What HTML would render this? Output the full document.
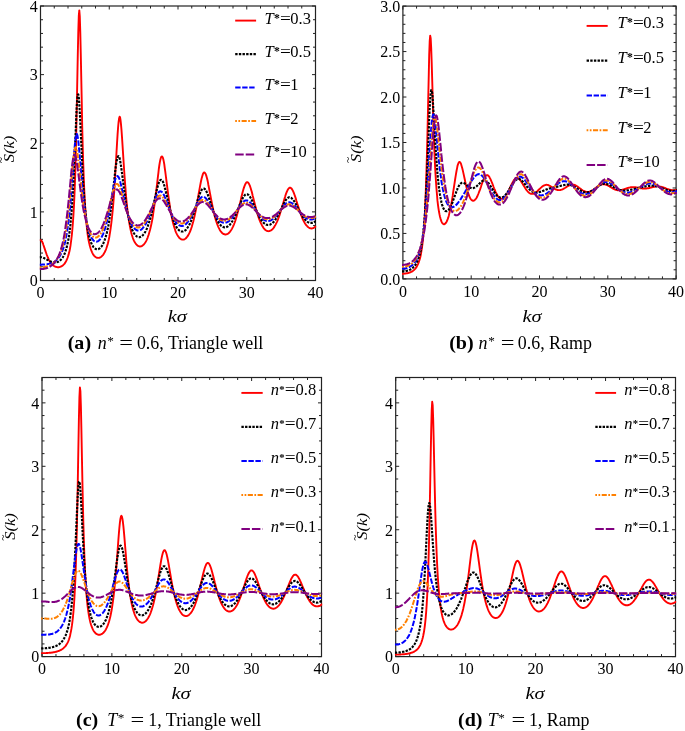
<!DOCTYPE html>
<html><head><meta charset="utf-8"><title>Structure factor</title>
<style>html,body{margin:0;padding:0;background:#fff}body{width:685px;height:731px;overflow:hidden;font-family:"Liberation Serif",serif}</style></head>
<body>
<svg width="685" height="731" viewBox="0 0 685 731" style="display:block" font-family="Liberation Serif, serif" fill="#000">
<rect width="685" height="731" fill="#fff"/>
<clipPath id="cp1"><rect x="39.60" y="5.10" width="276.80" height="276.30"/></clipPath>
<path d="M40.50,280.5v-3.5M40.50,6.0v3.5M54.25,280.5v-2.5M54.25,6.0v2.5M68.00,280.5v-2.5M68.00,6.0v2.5M81.75,280.5v-2.5M81.75,6.0v2.5M95.50,280.5v-2.5M95.50,6.0v2.5M109.25,280.5v-3.5M109.25,6.0v3.5M123.00,280.5v-2.5M123.00,6.0v2.5M136.75,280.5v-2.5M136.75,6.0v2.5M150.50,280.5v-2.5M150.50,6.0v2.5M164.25,280.5v-2.5M164.25,6.0v2.5M178.00,280.5v-3.5M178.00,6.0v3.5M191.75,280.5v-2.5M191.75,6.0v2.5M205.50,280.5v-2.5M205.50,6.0v2.5M219.25,280.5v-2.5M219.25,6.0v2.5M233.00,280.5v-2.5M233.00,6.0v2.5M246.75,280.5v-3.5M246.75,6.0v3.5M260.50,280.5v-2.5M260.50,6.0v2.5M274.25,280.5v-2.5M274.25,6.0v2.5M288.00,280.5v-2.5M288.00,6.0v2.5M301.75,280.5v-2.5M301.75,6.0v2.5M315.50,280.5v-3.5M315.50,6.0v3.5M40.5,280.50h3.5M315.5,280.50h-3.5M40.5,266.77h2.5M315.5,266.77h-2.5M40.5,253.05h2.5M315.5,253.05h-2.5M40.5,239.32h2.5M315.5,239.32h-2.5M40.5,225.60h2.5M315.5,225.60h-2.5M40.5,211.88h3.5M315.5,211.88h-3.5M40.5,198.15h2.5M315.5,198.15h-2.5M40.5,184.43h2.5M315.5,184.43h-2.5M40.5,170.70h2.5M315.5,170.70h-2.5M40.5,156.97h2.5M315.5,156.97h-2.5M40.5,143.25h3.5M315.5,143.25h-3.5M40.5,129.52h2.5M315.5,129.52h-2.5M40.5,115.80h2.5M315.5,115.80h-2.5M40.5,102.07h2.5M315.5,102.07h-2.5M40.5,88.35h2.5M315.5,88.35h-2.5M40.5,74.62h3.5M315.5,74.62h-3.5M40.5,60.90h2.5M315.5,60.90h-2.5M40.5,47.17h2.5M315.5,47.17h-2.5M40.5,33.45h2.5M315.5,33.45h-2.5M40.5,19.72h2.5M315.5,19.72h-2.5M40.5,6.00h3.5M315.5,6.00h-3.5" stroke="#222222" stroke-width="1" fill="none"/>
<rect x="40.5" y="6.0" width="275.00" height="274.50" fill="none" stroke="#222222" stroke-width="1.2"/>
<g clip-path="url(#cp1)" fill="none" stroke-linejoin="round">
<polyline points="39.6,240.1 40.5,240.1 41.0,240.3 41.5,240.7 42.0,241.5 42.5,242.5 43.0,243.6 43.4,245.0 43.9,246.4 44.4,247.9 44.9,249.4 45.4,250.9 45.9,252.3 46.4,253.7 46.9,255.1 47.4,256.3 47.9,257.5 48.4,258.6 48.8,259.6 49.3,260.5 49.8,261.3 50.3,262.1 50.8,262.8 51.3,263.4 51.8,264.0 52.3,264.5 52.8,265.0 53.3,265.4 53.8,265.8 54.3,266.1 54.7,266.3 55.2,266.6 55.7,266.8 56.2,266.9 56.7,267.0 57.2,267.1 57.7,267.2 58.2,267.2 58.7,267.2 59.2,267.1 59.7,267.0 60.1,266.9 60.6,266.7 61.1,266.5 61.6,266.2 62.1,265.9 62.6,265.6 63.1,265.2 63.6,264.7 64.1,264.2 64.6,263.6 65.1,262.9 65.5,262.2 66.0,261.3 66.5,260.3 67.0,259.2 67.5,258.0 68.0,256.5 68.5,254.9 69.0,253.1 69.5,251.0 70.0,248.5 70.5,245.7 70.9,242.5 71.4,238.7 71.9,234.3 72.4,229.0 72.9,222.9 73.4,215.5 73.9,206.8 74.4,196.3 74.9,183.7 75.4,168.6 75.9,150.7 76.3,129.7 76.8,105.9 77.3,80.0 77.8,54.0 78.3,31.3 78.8,15.6 79.3,10.4 79.8,16.7 80.3,32.8 80.8,55.1 81.3,79.8 81.8,104.0 82.2,126.3 82.7,145.9 83.2,162.6 83.7,176.9 84.2,188.9 84.7,198.9 85.2,207.4 85.7,214.6 86.2,220.7 86.7,225.9 87.2,230.3 87.6,234.1 88.1,237.4 88.6,240.3 89.1,242.8 89.6,244.9 90.1,246.8 90.6,248.5 91.1,249.9 91.6,251.2 92.1,252.3 92.6,253.3 93.0,254.2 93.5,254.9 94.0,255.6 94.5,256.1 95.0,256.6 95.5,257.0 96.0,257.3 96.5,257.6 97.0,257.7 97.5,257.9 98.0,257.9 98.4,257.9 98.9,257.9 99.4,257.7 99.9,257.6 100.4,257.3 100.9,257.0 101.4,256.7 101.9,256.2 102.4,255.7 102.9,255.2 103.4,254.5 103.8,253.8 104.3,252.9 104.8,252.0 105.3,250.9 105.8,249.8 106.3,248.5 106.8,247.0 107.3,245.4 107.8,243.7 108.3,241.7 108.8,239.5 109.3,237.0 109.7,234.3 110.2,231.3 110.7,227.9 111.2,224.2 111.7,220.0 112.2,215.4 112.7,210.3 113.2,204.6 113.7,198.4 114.2,191.6 114.7,184.2 115.1,176.2 115.6,167.9 116.1,159.2 116.6,150.5 117.1,142.0 117.6,134.1 118.1,127.3 118.6,121.9 119.1,118.3 119.6,116.7 120.1,117.3 120.5,119.9 121.0,124.3 121.5,130.2 122.0,137.1 122.5,144.7 123.0,152.6 123.5,160.5 124.0,168.2 124.5,175.5 125.0,182.4 125.5,188.8 125.9,194.7 126.4,200.1 126.9,205.1 127.4,209.6 127.9,213.6 128.4,217.3 128.9,220.6 129.4,223.6 129.9,226.3 130.4,228.8 130.9,231.0 131.3,232.9 131.8,234.7 132.3,236.3 132.8,237.8 133.3,239.1 133.8,240.3 134.3,241.3 134.8,242.2 135.3,243.0 135.8,243.7 136.3,244.4 136.8,244.9 137.2,245.3 137.7,245.7 138.2,246.0 138.7,246.2 139.2,246.4 139.7,246.5 140.2,246.5 140.7,246.4 141.2,246.3 141.7,246.1 142.2,245.9 142.6,245.5 143.1,245.1 143.6,244.7 144.1,244.1 144.6,243.5 145.1,242.8 145.6,242.0 146.1,241.1 146.6,240.1 147.1,239.0 147.6,237.8 148.0,236.5 148.5,235.1 149.0,233.5 149.5,231.8 150.0,230.0 150.5,228.0 151.0,225.8 151.5,223.5 152.0,221.0 152.5,218.3 153.0,215.3 153.4,212.2 153.9,208.9 154.4,205.4 154.9,201.7 155.4,197.8 155.9,193.7 156.4,189.6 156.9,185.3 157.4,181.1 157.9,176.9 158.4,172.8 158.8,169.0 159.3,165.5 159.8,162.4 160.3,159.9 160.8,158.0 161.3,156.8 161.8,156.4 162.3,156.6 162.8,157.6 163.3,159.3 163.8,161.6 164.3,164.4 164.7,167.6 165.2,171.2 165.7,175.0 166.2,178.9 166.7,182.9 167.2,186.9 167.7,190.8 168.2,194.6 168.7,198.2 169.2,201.7 169.7,205.0 170.1,208.2 170.6,211.1 171.1,213.9 171.6,216.4 172.1,218.8 172.6,221.0 173.1,223.1 173.6,225.0 174.1,226.7 174.6,228.3 175.1,229.8 175.5,231.1 176.0,232.3 176.5,233.4 177.0,234.4 177.5,235.3 178.0,236.1 178.5,236.8 179.0,237.5 179.5,238.0 180.0,238.5 180.5,238.8 180.9,239.1 181.4,239.4 181.9,239.5 182.4,239.6 182.9,239.6 183.4,239.6 183.9,239.5 184.4,239.3 184.9,239.0 185.4,238.7 185.9,238.3 186.3,237.8 186.8,237.2 187.3,236.6 187.8,235.9 188.3,235.1 188.8,234.2 189.3,233.2 189.8,232.1 190.3,231.0 190.8,229.7 191.3,228.3 191.8,226.8 192.2,225.2 192.7,223.5 193.2,221.7 193.7,219.7 194.2,217.7 194.7,215.5 195.2,213.1 195.7,210.7 196.2,208.2 196.7,205.5 197.2,202.8 197.6,200.0 198.1,197.1 198.6,194.2 199.1,191.4 199.6,188.6 200.1,185.8 200.6,183.2 201.1,180.8 201.6,178.6 202.1,176.7 202.6,175.1 203.0,173.8 203.5,173.0 204.0,172.5 204.5,172.5 205.0,172.9 205.5,173.7 206.0,174.9 206.5,176.4 207.0,178.2 207.5,180.3 208.0,182.6 208.4,185.0 208.9,187.6 209.4,190.2 209.9,192.9 210.4,195.5 210.9,198.2 211.4,200.8 211.9,203.3 212.4,205.8 212.9,208.1 213.4,210.4 213.8,212.5 214.3,214.5 214.8,216.4 215.3,218.3 215.8,219.9 216.3,221.5 216.8,223.0 217.3,224.4 217.8,225.6 218.3,226.8 218.8,227.9 219.3,228.9 219.7,229.7 220.2,230.6 220.7,231.3 221.2,231.9 221.7,232.5 222.2,233.0 222.7,233.4 223.2,233.8 223.7,234.0 224.2,234.2 224.7,234.4 225.1,234.5 225.6,234.5 226.1,234.4 226.6,234.3 227.1,234.1 227.6,233.9 228.1,233.6 228.6,233.2 229.1,232.8 229.6,232.2 230.1,231.6 230.5,231.0 231.0,230.3 231.5,229.5 232.0,228.6 232.5,227.6 233.0,226.6 233.5,225.5 234.0,224.3 234.5,223.0 235.0,221.6 235.5,220.2 235.9,218.7 236.4,217.1 236.9,215.4 237.4,213.6 237.9,211.7 238.4,209.8 238.9,207.9 239.4,205.8 239.9,203.8 240.4,201.7 240.9,199.6 241.3,197.5 241.8,195.5 242.3,193.5 242.8,191.6 243.3,189.8 243.8,188.1 244.3,186.6 244.8,185.3 245.3,184.2 245.8,183.3 246.3,182.6 246.8,182.2 247.2,182.1 247.7,182.3 248.2,182.7 248.7,183.4 249.2,184.3 249.7,185.4 250.2,186.7 250.7,188.2 251.2,189.9 251.7,191.6 252.2,193.5 252.6,195.4 253.1,197.3 253.6,199.3 254.1,201.3 254.6,203.3 255.1,205.2 255.6,207.1 256.1,208.9 256.6,210.7 257.1,212.5 257.6,214.1 258.0,215.7 258.5,217.2 259.0,218.6 259.5,219.9 260.0,221.2 260.5,222.3 261.0,223.4 261.5,224.4 262.0,225.4 262.5,226.2 263.0,227.0 263.4,227.7 263.9,228.4 264.4,229.0 264.9,229.5 265.4,229.9 265.9,230.3 266.4,230.6 266.9,230.8 267.4,231.0 267.9,231.1 268.4,231.2 268.8,231.1 269.3,231.1 269.8,230.9 270.3,230.7 270.8,230.5 271.3,230.2 271.8,229.8 272.3,229.3 272.8,228.8 273.3,228.3 273.8,227.6 274.3,226.9 274.7,226.1 275.2,225.3 275.7,224.4 276.2,223.4 276.7,222.4 277.2,221.3 277.7,220.1 278.2,218.8 278.7,217.5 279.2,216.1 279.7,214.7 280.1,213.2 280.6,211.6 281.1,210.0 281.6,208.4 282.1,206.7 282.6,205.1 283.1,203.4 283.6,201.7 284.1,200.0 284.6,198.4 285.1,196.8 285.5,195.3 286.0,193.9 286.5,192.5 287.0,191.4 287.5,190.3 288.0,189.4 288.5,188.7 289.0,188.2 289.5,187.8 290.0,187.7 290.5,187.7 290.9,188.0 291.4,188.4 291.9,189.1 292.4,189.9 292.9,190.8 293.4,191.9 293.9,193.2 294.4,194.5 294.9,195.9 295.4,197.4 295.9,198.9 296.3,200.5 296.8,202.1 297.3,203.7 297.8,205.3 298.3,206.8 298.8,208.4 299.3,209.9 299.8,211.4 300.3,212.8 300.8,214.2 301.3,215.5 301.8,216.7 302.2,217.9 302.7,219.0 303.2,220.1 303.7,221.1 304.2,222.0 304.7,222.9 305.2,223.7 305.7,224.4 306.2,225.1 306.7,225.7 307.2,226.2 307.6,226.7 308.1,227.1 308.6,227.5 309.1,227.8 309.6,228.1 310.1,228.2 310.6,228.4 311.1,228.4 311.6,228.5 312.1,228.4 312.6,228.3 313.0,228.2 313.5,228.0 314.0,227.7 314.5,227.4 315.0,227.0 315.5,226.6 316.4,226.6" stroke="#ff0000" stroke-width="1.9"/>
<polyline points="39.6,257.1 40.5,257.1 41.0,257.2 41.5,257.2 42.0,257.3 42.5,257.4 43.0,257.6 43.4,257.8 43.9,258.0 44.4,258.2 44.9,258.5 45.4,258.7 45.9,259.0 46.4,259.3 46.9,259.6 47.4,259.9 47.9,260.1 48.4,260.4 48.8,260.7 49.3,260.9 49.8,261.2 50.3,261.4 50.8,261.6 51.3,261.8 51.8,262.0 52.3,262.1 52.8,262.2 53.3,262.3 53.8,262.4 54.3,262.4 54.7,262.5 55.2,262.5 55.7,262.4 56.2,262.3 56.7,262.2 57.2,262.1 57.7,261.9 58.2,261.7 58.7,261.5 59.2,261.2 59.7,260.8 60.1,260.4 60.6,260.0 61.1,259.5 61.6,258.9 62.1,258.3 62.6,257.6 63.1,256.8 63.6,255.9 64.1,254.9 64.6,253.8 65.1,252.6 65.5,251.2 66.0,249.7 66.5,248.0 67.0,246.1 67.5,243.9 68.0,241.5 68.5,238.8 69.0,235.8 69.5,232.3 70.0,228.4 70.5,224.0 70.9,219.1 71.4,213.4 71.9,207.0 72.4,199.8 72.9,191.7 73.4,182.7 73.9,172.7 74.4,161.8 74.9,150.3 75.4,138.3 75.9,126.4 76.3,115.3 76.8,105.9 77.3,98.8 77.8,94.8 78.3,94.4 78.8,97.4 79.3,103.6 79.8,112.1 80.3,122.2 80.8,133.1 81.3,144.2 81.8,155.0 82.2,165.1 82.7,174.6 83.2,183.2 83.7,190.9 84.2,197.8 84.7,204.0 85.2,209.5 85.7,214.4 86.2,218.7 86.7,222.6 87.2,226.0 87.6,229.0 88.1,231.7 88.6,234.1 89.1,236.2 89.6,238.1 90.1,239.7 90.6,241.2 91.1,242.6 91.6,243.7 92.1,244.7 92.6,245.6 93.0,246.4 93.5,247.1 94.0,247.7 94.5,248.1 95.0,248.5 95.5,248.8 96.0,249.1 96.5,249.2 97.0,249.3 97.5,249.3 98.0,249.2 98.4,249.1 98.9,248.8 99.4,248.6 99.9,248.2 100.4,247.7 100.9,247.2 101.4,246.6 101.9,245.9 102.4,245.1 102.9,244.2 103.4,243.2 103.8,242.1 104.3,240.9 104.8,239.6 105.3,238.1 105.8,236.5 106.3,234.8 106.8,232.9 107.3,230.8 107.8,228.5 108.3,226.1 108.8,223.4 109.3,220.5 109.7,217.4 110.2,214.1 110.7,210.5 111.2,206.7 111.7,202.8 112.2,198.6 112.7,194.2 113.2,189.7 113.7,185.2 114.2,180.6 114.7,176.1 115.1,171.9 115.6,167.9 116.1,164.3 116.6,161.3 117.1,158.9 117.6,157.2 118.1,156.3 118.6,156.2 119.1,156.8 119.6,158.2 120.1,160.3 120.5,162.9 121.0,166.0 121.5,169.4 122.0,173.2 122.5,177.0 123.0,181.0 123.5,184.9 124.0,188.8 124.5,192.6 125.0,196.2 125.5,199.7 125.9,203.0 126.4,206.1 126.9,209.0 127.4,211.8 127.9,214.3 128.4,216.7 128.9,218.9 129.4,220.9 129.9,222.8 130.4,224.5 130.9,226.1 131.3,227.5 131.8,228.8 132.3,230.0 132.8,231.1 133.3,232.1 133.8,233.0 134.3,233.8 134.8,234.5 135.3,235.1 135.8,235.6 136.3,236.0 136.8,236.4 137.2,236.7 137.7,236.9 138.2,237.1 138.7,237.2 139.2,237.2 139.7,237.1 140.2,237.0 140.7,236.8 141.2,236.6 141.7,236.3 142.2,235.9 142.6,235.4 143.1,234.9 143.6,234.3 144.1,233.7 144.6,232.9 145.1,232.1 145.6,231.2 146.1,230.2 146.6,229.2 147.1,228.0 147.6,226.8 148.0,225.5 148.5,224.1 149.0,222.6 149.5,221.0 150.0,219.3 150.5,217.6 151.0,215.7 151.5,213.7 152.0,211.7 152.5,209.6 153.0,207.4 153.4,205.2 153.9,202.9 154.4,200.6 154.9,198.3 155.4,196.0 155.9,193.8 156.4,191.6 156.9,189.5 157.4,187.5 157.9,185.7 158.4,184.1 158.8,182.7 159.3,181.5 159.8,180.7 160.3,180.1 160.8,179.8 161.3,179.8 161.8,180.1 162.3,180.7 162.8,181.5 163.3,182.6 163.8,184.0 164.3,185.5 164.7,187.3 165.2,189.1 165.7,191.1 166.2,193.2 166.7,195.3 167.2,197.4 167.7,199.6 168.2,201.7 168.7,203.8 169.2,205.8 169.7,207.8 170.1,209.7 170.6,211.6 171.1,213.4 171.6,215.0 172.1,216.6 172.6,218.1 173.1,219.6 173.6,220.9 174.1,222.1 174.6,223.3 175.1,224.4 175.5,225.4 176.0,226.3 176.5,227.1 177.0,227.9 177.5,228.6 178.0,229.2 178.5,229.7 179.0,230.2 179.5,230.6 180.0,230.9 180.5,231.1 180.9,231.3 181.4,231.5 181.9,231.5 182.4,231.5 182.9,231.5 183.4,231.3 183.9,231.2 184.4,230.9 184.9,230.6 185.4,230.2 185.9,229.8 186.3,229.2 186.8,228.7 187.3,228.0 187.8,227.3 188.3,226.5 188.8,225.7 189.3,224.8 189.8,223.8 190.3,222.7 190.8,221.6 191.3,220.4 191.8,219.2 192.2,217.8 192.7,216.4 193.2,215.0 193.7,213.5 194.2,211.9 194.7,210.3 195.2,208.7 195.7,207.0 196.2,205.4 196.7,203.7 197.2,202.0 197.6,200.4 198.1,198.7 198.6,197.2 199.1,195.7 199.6,194.3 200.1,193.0 200.6,191.9 201.1,190.9 201.6,190.0 202.1,189.3 202.6,188.8 203.0,188.5 203.5,188.4 204.0,188.5 204.5,188.8 205.0,189.2 205.5,189.9 206.0,190.6 206.5,191.6 207.0,192.7 207.5,193.8 208.0,195.1 208.4,196.5 208.9,197.9 209.4,199.4 209.9,200.9 210.4,202.4 210.9,204.0 211.4,205.5 211.9,207.0 212.4,208.5 212.9,209.9 213.4,211.3 213.8,212.6 214.3,213.9 214.8,215.2 215.3,216.4 215.8,217.5 216.3,218.6 216.8,219.6 217.3,220.5 217.8,221.4 218.3,222.2 218.8,222.9 219.3,223.6 219.7,224.3 220.2,224.8 220.7,225.3 221.2,225.8 221.7,226.2 222.2,226.5 222.7,226.8 223.2,227.0 223.7,227.2 224.2,227.3 224.7,227.3 225.1,227.3 225.6,227.3 226.1,227.2 226.6,227.0 227.1,226.8 227.6,226.5 228.1,226.2 228.6,225.8 229.1,225.4 229.6,224.9 230.1,224.4 230.5,223.8 231.0,223.2 231.5,222.5 232.0,221.7 232.5,221.0 233.0,220.1 233.5,219.2 234.0,218.3 234.5,217.3 235.0,216.3 235.5,215.2 235.9,214.1 236.4,212.9 236.9,211.8 237.4,210.6 237.9,209.4 238.4,208.1 238.9,206.9 239.4,205.7 239.9,204.4 240.4,203.2 240.9,202.1 241.3,201.0 241.8,199.9 242.3,198.9 242.8,197.9 243.3,197.1 243.8,196.3 244.3,195.7 244.8,195.1 245.3,194.7 245.8,194.4 246.3,194.2 246.8,194.2 247.2,194.2 247.7,194.4 248.2,194.8 248.7,195.2 249.2,195.8 249.7,196.4 250.2,197.2 250.7,198.0 251.2,199.0 251.7,199.9 252.2,201.0 252.6,202.1 253.1,203.2 253.6,204.3 254.1,205.5 254.6,206.7 255.1,207.8 255.6,209.0 256.1,210.1 256.6,211.2 257.1,212.3 257.6,213.4 258.0,214.4 258.5,215.4 259.0,216.3 259.5,217.2 260.0,218.1 260.5,218.9 261.0,219.6 261.5,220.4 262.0,221.0 262.5,221.6 263.0,222.2 263.4,222.7 263.9,223.1 264.4,223.5 264.9,223.9 265.4,224.2 265.9,224.5 266.4,224.7 266.9,224.8 267.4,224.9 267.9,225.0 268.4,225.0 268.8,224.9 269.3,224.8 269.8,224.7 270.3,224.5 270.8,224.2 271.3,223.9 271.8,223.6 272.3,223.2 272.8,222.7 273.3,222.3 273.8,221.7 274.3,221.1 274.7,220.5 275.2,219.8 275.7,219.1 276.2,218.4 276.7,217.6 277.2,216.7 277.7,215.8 278.2,214.9 278.7,214.0 279.2,213.0 279.7,212.0 280.1,211.0 280.6,210.0 281.1,209.0 281.6,207.9 282.1,206.9 282.6,205.9 283.1,204.9 283.6,203.9 284.1,203.0 284.6,202.1 285.1,201.3 285.5,200.5 286.0,199.8 286.5,199.2 287.0,198.6 287.5,198.1 288.0,197.8 288.5,197.5 289.0,197.3 289.5,197.2 290.0,197.3 290.5,197.4 290.9,197.6 291.4,197.9 291.9,198.4 292.4,198.9 292.9,199.4 293.4,200.1 293.9,200.8 294.4,201.6 294.9,202.4 295.4,203.3 295.9,204.2 296.3,205.1 296.8,206.0 297.3,207.0 297.8,208.0 298.3,208.9 298.8,209.9 299.3,210.8 299.8,211.7 300.3,212.6 300.8,213.5 301.3,214.3 301.8,215.2 302.2,215.9 302.7,216.7 303.2,217.4 303.7,218.1 304.2,218.7 304.7,219.3 305.2,219.8 305.7,220.3 306.2,220.8 306.7,221.2 307.2,221.6 307.6,221.9 308.1,222.2 308.6,222.4 309.1,222.6 309.6,222.8 310.1,222.9 310.6,222.9 311.1,222.9 311.6,222.9 312.1,222.9 312.6,222.7 313.0,222.6 313.5,222.4 314.0,222.2 314.5,221.9 315.0,221.6 315.5,221.2 316.4,221.2" stroke="#000000" stroke-width="2.15" stroke-dasharray="2.4 1.25"/>
<polyline points="39.6,264.7 40.5,264.7 41.0,264.7 41.5,264.7 42.0,264.6 42.5,264.6 43.0,264.6 43.4,264.6 43.9,264.6 44.4,264.5 44.9,264.5 45.4,264.4 45.9,264.4 46.4,264.3 46.9,264.3 47.4,264.2 47.9,264.1 48.4,264.0 48.8,263.9 49.3,263.8 49.8,263.7 50.3,263.5 50.8,263.4 51.3,263.2 51.8,263.0 52.3,262.8 52.8,262.6 53.3,262.4 53.8,262.1 54.3,261.8 54.7,261.5 55.2,261.1 55.7,260.7 56.2,260.3 56.7,259.9 57.2,259.4 57.7,258.9 58.2,258.3 58.7,257.7 59.2,257.0 59.7,256.2 60.1,255.4 60.6,254.6 61.1,253.6 61.6,252.6 62.1,251.4 62.6,250.2 63.1,248.8 63.6,247.3 64.1,245.7 64.6,243.9 65.1,241.9 65.5,239.8 66.0,237.4 66.5,234.8 67.0,232.0 67.5,228.8 68.0,225.4 68.5,221.6 69.0,217.4 69.5,212.9 70.0,207.9 70.5,202.5 70.9,196.7 71.4,190.5 71.9,184.0 72.4,177.1 72.9,170.1 73.4,163.1 73.9,156.3 74.4,150.0 74.9,144.4 75.4,139.7 75.9,136.3 76.3,134.3 76.8,133.9 77.3,134.9 77.8,137.4 78.3,141.1 78.8,145.8 79.3,151.2 79.8,157.1 80.3,163.2 80.8,169.4 81.3,175.5 81.8,181.4 82.2,187.0 82.7,192.3 83.2,197.2 83.7,201.7 84.2,205.9 84.7,209.8 85.2,213.3 85.7,216.5 86.2,219.4 86.7,222.1 87.2,224.5 87.6,226.7 88.1,228.7 88.6,230.5 89.1,232.1 89.6,233.5 90.1,234.8 90.6,236.0 91.1,237.0 91.6,237.9 92.1,238.7 92.6,239.4 93.0,240.0 93.5,240.5 94.0,240.9 94.5,241.2 95.0,241.4 95.5,241.6 96.0,241.7 96.5,241.7 97.0,241.6 97.5,241.4 98.0,241.2 98.4,240.9 98.9,240.5 99.4,240.1 99.9,239.5 100.4,238.9 100.9,238.2 101.4,237.4 101.9,236.5 102.4,235.5 102.9,234.5 103.4,233.3 103.8,232.0 104.3,230.7 104.8,229.2 105.3,227.6 105.8,225.9 106.3,224.0 106.8,222.1 107.3,220.0 107.8,217.8 108.3,215.5 108.8,213.1 109.3,210.5 109.7,207.9 110.2,205.2 110.7,202.5 111.2,199.7 111.7,196.9 112.2,194.1 112.7,191.3 113.2,188.7 113.7,186.2 114.2,183.9 114.7,181.8 115.1,180.0 115.6,178.5 116.1,177.4 116.6,176.6 117.1,176.2 117.6,176.1 118.1,176.5 118.6,177.2 119.1,178.2 119.6,179.5 120.1,181.1 120.5,182.9 121.0,184.9 121.5,187.1 122.0,189.3 122.5,191.6 123.0,193.9 123.5,196.3 124.0,198.6 124.5,200.9 125.0,203.1 125.5,205.2 125.9,207.3 126.4,209.3 126.9,211.2 127.4,213.0 127.9,214.7 128.4,216.3 128.9,217.8 129.4,219.2 129.9,220.5 130.4,221.7 130.9,222.9 131.3,223.9 131.8,224.8 132.3,225.7 132.8,226.5 133.3,227.2 133.8,227.9 134.3,228.4 134.8,228.9 135.3,229.3 135.8,229.7 136.3,230.0 136.8,230.2 137.2,230.4 137.7,230.5 138.2,230.5 138.7,230.5 139.2,230.4 139.7,230.3 140.2,230.1 140.7,229.9 141.2,229.6 141.7,229.2 142.2,228.8 142.6,228.3 143.1,227.7 143.6,227.1 144.1,226.5 144.6,225.8 145.1,225.0 145.6,224.1 146.1,223.3 146.6,222.3 147.1,221.3 147.6,220.2 148.0,219.1 148.5,217.9 149.0,216.7 149.5,215.4 150.0,214.1 150.5,212.8 151.0,211.4 151.5,210.0 152.0,208.5 152.5,207.1 153.0,205.6 153.4,204.2 153.9,202.7 154.4,201.3 154.9,199.9 155.4,198.6 155.9,197.4 156.4,196.2 156.9,195.2 157.4,194.2 157.9,193.4 158.4,192.7 158.8,192.1 159.3,191.7 159.8,191.4 160.3,191.3 160.8,191.4 161.3,191.6 161.8,191.9 162.3,192.5 162.8,193.1 163.3,193.9 163.8,194.7 164.3,195.7 164.7,196.8 165.2,197.9 165.7,199.2 166.2,200.4 166.7,201.7 167.2,203.0 167.7,204.4 168.2,205.7 168.7,207.0 169.2,208.3 169.7,209.6 170.1,210.9 170.6,212.1 171.1,213.3 171.6,214.4 172.1,215.5 172.6,216.6 173.1,217.6 173.6,218.5 174.1,219.4 174.6,220.2 175.1,221.0 175.5,221.7 176.0,222.4 176.5,223.0 177.0,223.5 177.5,224.0 178.0,224.5 178.5,224.8 179.0,225.2 179.5,225.4 180.0,225.6 180.5,225.8 180.9,225.9 181.4,226.0 181.9,226.0 182.4,225.9 182.9,225.8 183.4,225.7 183.9,225.4 184.4,225.2 184.9,224.9 185.4,224.5 185.9,224.1 186.3,223.6 186.8,223.1 187.3,222.5 187.8,221.9 188.3,221.2 188.8,220.5 189.3,219.8 189.8,219.0 190.3,218.1 190.8,217.2 191.3,216.3 191.8,215.3 192.2,214.3 192.7,213.3 193.2,212.2 193.7,211.2 194.2,210.1 194.7,209.0 195.2,207.9 195.7,206.8 196.2,205.7 196.7,204.7 197.2,203.6 197.6,202.6 198.1,201.7 198.6,200.8 199.1,200.0 199.6,199.3 200.1,198.6 200.6,198.0 201.1,197.6 201.6,197.2 202.1,196.9 202.6,196.8 203.0,196.7 203.5,196.8 204.0,196.9 204.5,197.2 205.0,197.5 205.5,198.0 206.0,198.5 206.5,199.1 207.0,199.8 207.5,200.6 208.0,201.4 208.4,202.3 208.9,203.2 209.4,204.1 209.9,205.1 210.4,206.0 210.9,207.0 211.4,208.0 211.9,209.0 212.4,209.9 212.9,210.9 213.4,211.8 213.8,212.7 214.3,213.6 214.8,214.4 215.3,215.2 215.8,216.0 216.3,216.7 216.8,217.4 217.3,218.1 217.8,218.7 218.3,219.3 218.8,219.8 219.3,220.3 219.7,220.7 220.2,221.1 220.7,221.5 221.2,221.8 221.7,222.1 222.2,222.3 222.7,222.5 223.2,222.6 223.7,222.7 224.2,222.7 224.7,222.8 225.1,222.7 225.6,222.6 226.1,222.5 226.6,222.4 227.1,222.2 227.6,221.9 228.1,221.6 228.6,221.3 229.1,220.9 229.6,220.5 230.1,220.1 230.5,219.6 231.0,219.1 231.5,218.5 232.0,218.0 232.5,217.3 233.0,216.7 233.5,216.0 234.0,215.3 234.5,214.6 235.0,213.8 235.5,213.1 235.9,212.3 236.4,211.5 236.9,210.7 237.4,209.9 237.9,209.1 238.4,208.3 238.9,207.5 239.4,206.7 239.9,206.0 240.4,205.2 240.9,204.6 241.3,203.9 241.8,203.3 242.3,202.7 242.8,202.2 243.3,201.7 243.8,201.3 244.3,201.0 244.8,200.7 245.3,200.6 245.8,200.4 246.3,200.4 246.8,200.4 247.2,200.5 247.7,200.7 248.2,200.9 248.7,201.2 249.2,201.6 249.7,202.1 250.2,202.5 250.7,203.1 251.2,203.7 251.7,204.3 252.2,205.0 252.6,205.6 253.1,206.4 253.6,207.1 254.1,207.8 254.6,208.6 255.1,209.4 255.6,210.1 256.1,210.9 256.6,211.6 257.1,212.3 257.6,213.0 258.0,213.7 258.5,214.4 259.0,215.1 259.5,215.7 260.0,216.3 260.5,216.8 261.0,217.4 261.5,217.9 262.0,218.3 262.5,218.8 263.0,219.1 263.4,219.5 263.9,219.8 264.4,220.1 264.9,220.3 265.4,220.6 265.9,220.7 266.4,220.9 266.9,220.9 267.4,221.0 267.9,221.0 268.4,221.0 268.8,220.9 269.3,220.8 269.8,220.7 270.3,220.5 270.8,220.3 271.3,220.0 271.8,219.8 272.3,219.4 272.8,219.1 273.3,218.7 273.8,218.3 274.3,217.8 274.7,217.3 275.2,216.8 275.7,216.3 276.2,215.7 276.7,215.1 277.2,214.5 277.7,213.9 278.2,213.2 278.7,212.6 279.2,211.9 279.7,211.2 280.1,210.5 280.6,209.8 281.1,209.2 281.6,208.5 282.1,207.8 282.6,207.2 283.1,206.6 283.6,206.0 284.1,205.4 284.6,204.9 285.1,204.4 285.5,204.0 286.0,203.6 286.5,203.2 287.0,202.9 287.5,202.7 288.0,202.5 288.5,202.4 289.0,202.3 289.5,202.3 290.0,202.4 290.5,202.5 290.9,202.7 291.4,202.9 291.9,203.2 292.4,203.5 292.9,203.9 293.4,204.3 293.9,204.8 294.4,205.3 294.9,205.8 295.4,206.4 295.9,207.0 296.3,207.6 296.8,208.2 297.3,208.8 297.8,209.4 298.3,210.0 298.8,210.7 299.3,211.3 299.8,211.9 300.3,212.5 300.8,213.1 301.3,213.7 301.8,214.2 302.2,214.8 302.7,215.3 303.2,215.8 303.7,216.2 304.2,216.7 304.7,217.1 305.2,217.4 305.7,217.8 306.2,218.1 306.7,218.4 307.2,218.7 307.6,218.9 308.1,219.1 308.6,219.2 309.1,219.3 309.6,219.4 310.1,219.5 310.6,219.5 311.1,219.5 311.6,219.5 312.1,219.4 312.6,219.3 313.0,219.2 313.5,219.0 314.0,218.8 314.5,218.6 315.0,218.3 315.5,218.1 316.4,218.1" stroke="#0000ff" stroke-width="2.0" stroke-dasharray="5.4 1.6"/>
<polyline points="39.6,267.4 40.5,267.4 41.0,267.3 41.5,267.3 42.0,267.3 42.5,267.3 43.0,267.2 43.4,267.2 43.9,267.1 44.4,267.0 44.9,266.9 45.4,266.8 45.9,266.7 46.4,266.6 46.9,266.5 47.4,266.3 47.9,266.1 48.4,266.0 48.8,265.8 49.3,265.6 49.8,265.3 50.3,265.1 50.8,264.8 51.3,264.5 51.8,264.2 52.3,263.9 52.8,263.5 53.3,263.1 53.8,262.7 54.3,262.3 54.7,261.8 55.2,261.3 55.7,260.7 56.2,260.1 56.7,259.5 57.2,258.8 57.7,258.0 58.2,257.2 58.7,256.3 59.2,255.4 59.7,254.4 60.1,253.3 60.6,252.1 61.1,250.8 61.6,249.4 62.1,247.9 62.6,246.3 63.1,244.5 63.6,242.5 64.1,240.4 64.6,238.1 65.1,235.6 65.5,232.9 66.0,229.9 66.5,226.7 67.0,223.2 67.5,219.5 68.0,215.4 68.5,211.0 69.0,206.3 69.5,201.4 70.0,196.1 70.5,190.6 70.9,185.0 71.4,179.3 71.9,173.6 72.4,168.1 72.9,162.9 73.4,158.2 73.9,154.2 74.4,151.0 74.9,148.7 75.4,147.5 75.9,147.3 76.3,148.2 76.8,150.1 77.3,152.8 77.8,156.2 78.3,160.1 78.8,164.5 79.3,169.1 79.8,173.8 80.3,178.5 80.8,183.1 81.3,187.7 81.8,192.0 82.2,196.1 82.7,199.9 83.2,203.6 83.7,206.9 84.2,210.1 84.7,213.0 85.2,215.7 85.7,218.1 86.2,220.4 86.7,222.4 87.2,224.3 87.6,226.1 88.1,227.6 88.6,229.0 89.1,230.3 89.6,231.5 90.1,232.5 90.6,233.4 91.1,234.3 91.6,235.0 92.1,235.6 92.6,236.1 93.0,236.6 93.5,236.9 94.0,237.2 94.5,237.4 95.0,237.5 95.5,237.6 96.0,237.5 96.5,237.4 97.0,237.3 97.5,237.0 98.0,236.7 98.4,236.3 98.9,235.8 99.4,235.3 99.9,234.7 100.4,234.0 100.9,233.2 101.4,232.4 101.9,231.5 102.4,230.4 102.9,229.3 103.4,228.2 103.8,226.9 104.3,225.5 104.8,224.1 105.3,222.6 105.8,220.9 106.3,219.2 106.8,217.4 107.3,215.6 107.8,213.6 108.3,211.6 108.8,209.6 109.3,207.4 109.7,205.3 110.2,203.1 110.7,201.0 111.2,198.8 111.7,196.8 112.2,194.7 112.7,192.8 113.2,191.0 113.7,189.4 114.2,187.9 114.7,186.7 115.1,185.6 115.6,184.8 116.1,184.3 116.6,184.0 117.1,183.9 117.6,184.2 118.1,184.6 118.6,185.3 119.1,186.2 119.6,187.3 120.1,188.6 120.5,190.0 121.0,191.5 121.5,193.2 122.0,194.9 122.5,196.6 123.0,198.4 123.5,200.1 124.0,201.9 124.5,203.7 125.0,205.4 125.5,207.1 125.9,208.7 126.4,210.3 126.9,211.8 127.4,213.2 127.9,214.6 128.4,215.9 128.9,217.1 129.4,218.3 129.9,219.3 130.4,220.3 130.9,221.3 131.3,222.1 131.8,222.9 132.3,223.7 132.8,224.3 133.3,224.9 133.8,225.5 134.3,225.9 134.8,226.3 135.3,226.7 135.8,227.0 136.3,227.2 136.8,227.4 137.2,227.5 137.7,227.5 138.2,227.6 138.7,227.5 139.2,227.4 139.7,227.2 140.2,227.0 140.7,226.8 141.2,226.5 141.7,226.1 142.2,225.7 142.6,225.2 143.1,224.7 143.6,224.1 144.1,223.5 144.6,222.8 145.1,222.1 145.6,221.3 146.1,220.5 146.6,219.6 147.1,218.7 147.6,217.8 148.0,216.8 148.5,215.8 149.0,214.7 149.5,213.6 150.0,212.5 150.5,211.4 151.0,210.2 151.5,209.1 152.0,207.9 152.5,206.7 153.0,205.6 153.4,204.4 153.9,203.3 154.4,202.3 154.9,201.3 155.4,200.3 155.9,199.4 156.4,198.6 156.9,197.9 157.4,197.2 157.9,196.7 158.4,196.2 158.8,195.9 159.3,195.7 159.8,195.6 160.3,195.6 160.8,195.7 161.3,196.0 161.8,196.3 162.3,196.8 162.8,197.3 163.3,197.9 163.8,198.7 164.3,199.5 164.7,200.3 165.2,201.2 165.7,202.2 166.2,203.2 166.7,204.2 167.2,205.2 167.7,206.3 168.2,207.3 168.7,208.4 169.2,209.4 169.7,210.4 170.1,211.4 170.6,212.4 171.1,213.4 171.6,214.3 172.1,215.2 172.6,216.0 173.1,216.8 173.6,217.6 174.1,218.3 174.6,219.0 175.1,219.6 175.5,220.2 176.0,220.7 176.5,221.2 177.0,221.6 177.5,222.0 178.0,222.4 178.5,222.7 179.0,222.9 179.5,223.1 180.0,223.3 180.5,223.4 180.9,223.5 181.4,223.5 181.9,223.5 182.4,223.4 182.9,223.3 183.4,223.1 183.9,222.9 184.4,222.6 184.9,222.3 185.4,222.0 185.9,221.6 186.3,221.2 186.8,220.7 187.3,220.2 187.8,219.7 188.3,219.1 188.8,218.4 189.3,217.8 189.8,217.1 190.3,216.4 190.8,215.6 191.3,214.8 191.8,214.0 192.2,213.2 192.7,212.3 193.2,211.5 193.7,210.6 194.2,209.7 194.7,208.9 195.2,208.0 195.7,207.2 196.2,206.3 196.7,205.5 197.2,204.8 197.6,204.0 198.1,203.3 198.6,202.7 199.1,202.1 199.6,201.6 200.1,201.1 200.6,200.7 201.1,200.4 201.6,200.2 202.1,200.0 202.6,199.9 203.0,199.9 203.5,200.0 204.0,200.1 204.5,200.4 205.0,200.7 205.5,201.0 206.0,201.5 206.5,201.9 207.0,202.5 207.5,203.1 208.0,203.7 208.4,204.4 208.9,205.1 209.4,205.8 209.9,206.6 210.4,207.3 210.9,208.1 211.4,208.9 211.9,209.7 212.4,210.4 212.9,211.2 213.4,211.9 213.8,212.7 214.3,213.4 214.8,214.0 215.3,214.7 215.8,215.3 216.3,215.9 216.8,216.5 217.3,217.0 217.8,217.5 218.3,218.0 218.8,218.5 219.3,218.9 219.7,219.2 220.2,219.5 220.7,219.8 221.2,220.1 221.7,220.3 222.2,220.5 222.7,220.6 223.2,220.7 223.7,220.8 224.2,220.8 224.7,220.8 225.1,220.8 225.6,220.7 226.1,220.6 226.6,220.4 227.1,220.2 227.6,220.0 228.1,219.7 228.6,219.5 229.1,219.1 229.6,218.8 230.1,218.4 230.5,218.0 231.0,217.5 231.5,217.0 232.0,216.5 232.5,216.0 233.0,215.5 233.5,214.9 234.0,214.3 234.5,213.7 235.0,213.1 235.5,212.5 235.9,211.8 236.4,211.2 236.9,210.5 237.4,209.9 237.9,209.2 238.4,208.6 238.9,208.0 239.4,207.4 239.9,206.8 240.4,206.2 240.9,205.7 241.3,205.2 241.8,204.7 242.3,204.3 242.8,203.9 243.3,203.6 243.8,203.3 244.3,203.1 244.8,202.9 245.3,202.8 245.8,202.7 246.3,202.7 246.8,202.8 247.2,202.9 247.7,203.0 248.2,203.3 248.7,203.5 249.2,203.8 249.7,204.2 250.2,204.6 250.7,205.0 251.2,205.5 251.7,206.0 252.2,206.5 252.6,207.0 253.1,207.6 253.6,208.2 254.1,208.8 254.6,209.4 255.1,210.0 255.6,210.6 256.1,211.2 256.6,211.8 257.1,212.4 257.6,212.9 258.0,213.5 258.5,214.0 259.0,214.6 259.5,215.1 260.0,215.5 260.5,216.0 261.0,216.4 261.5,216.8 262.0,217.2 262.5,217.6 263.0,217.9 263.4,218.2 263.9,218.4 264.4,218.6 264.9,218.8 265.4,219.0 265.9,219.1 266.4,219.2 266.9,219.3 267.4,219.3 267.9,219.3 268.4,219.3 268.8,219.2 269.3,219.1 269.8,219.0 270.3,218.8 270.8,218.6 271.3,218.4 271.8,218.2 272.3,217.9 272.8,217.6 273.3,217.2 273.8,216.9 274.3,216.5 274.7,216.1 275.2,215.7 275.7,215.2 276.2,214.7 276.7,214.2 277.2,213.7 277.7,213.2 278.2,212.7 278.7,212.2 279.2,211.6 279.7,211.1 280.1,210.5 280.6,210.0 281.1,209.4 281.6,208.9 282.1,208.4 282.6,207.9 283.1,207.4 283.6,207.0 284.1,206.5 284.6,206.1 285.1,205.8 285.5,205.5 286.0,205.2 286.5,204.9 287.0,204.7 287.5,204.5 288.0,204.4 288.5,204.3 289.0,204.3 289.5,204.3 290.0,204.4 290.5,204.5 290.9,204.6 291.4,204.8 291.9,205.0 292.4,205.3 292.9,205.6 293.4,205.9 293.9,206.3 294.4,206.7 294.9,207.1 295.4,207.6 295.9,208.0 296.3,208.5 296.8,209.0 297.3,209.5 297.8,210.0 298.3,210.5 298.8,211.0 299.3,211.5 299.8,212.0 300.3,212.4 300.8,212.9 301.3,213.4 301.8,213.8 302.2,214.3 302.7,214.7 303.2,215.1 303.7,215.4 304.2,215.8 304.7,216.1 305.2,216.4 305.7,216.7 306.2,217.0 306.7,217.2 307.2,217.4 307.6,217.6 308.1,217.8 308.6,217.9 309.1,218.0 309.6,218.1 310.1,218.1 310.6,218.1 311.1,218.1 311.6,218.1 312.1,218.0 312.6,217.9 313.0,217.8 313.5,217.6 314.0,217.5 314.5,217.3 315.0,217.1 315.5,216.8 316.4,216.8" stroke="#ff8000" stroke-width="2.0" stroke-dasharray="1.7 1.5 5.1 1.5"/>
<polyline points="39.6,269.1 40.5,269.1 41.0,269.1 41.5,269.1 42.0,269.1 42.5,269.0 43.0,269.0 43.4,268.9 43.9,268.8 44.4,268.7 44.9,268.6 45.4,268.5 45.9,268.4 46.4,268.2 46.9,268.0 47.4,267.9 47.9,267.7 48.4,267.4 48.8,267.2 49.3,267.0 49.8,266.7 50.3,266.4 50.8,266.0 51.3,265.7 51.8,265.3 52.3,264.9 52.8,264.5 53.3,264.0 53.8,263.5 54.3,262.9 54.7,262.4 55.2,261.7 55.7,261.0 56.2,260.3 56.7,259.5 57.2,258.7 57.7,257.7 58.2,256.8 58.7,255.7 59.2,254.5 59.7,253.3 60.1,251.9 60.6,250.4 61.1,248.8 61.6,247.1 62.1,245.2 62.6,243.2 63.1,241.0 63.6,238.6 64.1,236.0 64.6,233.1 65.1,230.1 65.5,226.8 66.0,223.2 66.5,219.4 67.0,215.3 67.5,211.0 68.0,206.4 68.5,201.6 69.0,196.6 69.5,191.4 70.0,186.2 70.5,181.0 70.9,176.0 71.4,171.2 71.9,166.8 72.4,162.9 72.9,159.6 73.4,157.1 73.9,155.5 74.4,154.7 74.9,154.8 75.4,155.7 75.9,157.3 76.3,159.7 76.8,162.5 77.3,165.8 77.8,169.5 78.3,173.3 78.8,177.2 79.3,181.1 79.8,185.1 80.3,188.9 80.8,192.6 81.3,196.1 81.8,199.4 82.2,202.6 82.7,205.6 83.2,208.4 83.7,211.0 84.2,213.4 84.7,215.6 85.2,217.7 85.7,219.6 86.2,221.3 86.7,223.0 87.2,224.4 87.6,225.8 88.1,227.0 88.6,228.1 89.1,229.1 89.6,230.0 90.1,230.8 90.6,231.5 91.1,232.1 91.6,232.6 92.1,233.1 92.6,233.4 93.0,233.7 93.5,233.9 94.0,234.1 94.5,234.2 95.0,234.2 95.5,234.1 96.0,234.0 96.5,233.8 97.0,233.5 97.5,233.2 98.0,232.8 98.4,232.4 98.9,231.9 99.4,231.3 99.9,230.6 100.4,229.9 100.9,229.1 101.4,228.3 101.9,227.3 102.4,226.3 102.9,225.3 103.4,224.1 103.8,222.9 104.3,221.7 104.8,220.3 105.3,218.9 105.8,217.5 106.3,216.0 106.8,214.4 107.3,212.8 107.8,211.2 108.3,209.5 108.8,207.8 109.3,206.1 109.7,204.4 110.2,202.7 110.7,201.0 111.2,199.4 111.7,197.8 112.2,196.4 112.7,195.0 113.2,193.8 113.7,192.6 114.2,191.7 114.7,190.9 115.1,190.2 115.6,189.8 116.1,189.5 116.6,189.4 117.1,189.5 117.6,189.7 118.1,190.2 118.6,190.8 119.1,191.5 119.6,192.4 120.1,193.4 120.5,194.5 121.0,195.7 121.5,197.0 122.0,198.3 122.5,199.7 123.0,201.1 123.5,202.5 124.0,203.9 124.5,205.3 125.0,206.7 125.5,208.1 125.9,209.4 126.4,210.7 126.9,212.0 127.4,213.2 127.9,214.3 128.4,215.4 128.9,216.4 129.4,217.4 129.9,218.3 130.4,219.2 130.9,220.0 131.3,220.8 131.8,221.5 132.3,222.1 132.8,222.7 133.3,223.2 133.8,223.7 134.3,224.1 134.8,224.4 135.3,224.7 135.8,225.0 136.3,225.1 136.8,225.3 137.2,225.4 137.7,225.4 138.2,225.4 138.7,225.3 139.2,225.2 139.7,225.1 140.2,224.9 140.7,224.6 141.2,224.3 141.7,223.9 142.2,223.5 142.6,223.1 143.1,222.6 143.6,222.1 144.1,221.5 144.6,220.9 145.1,220.2 145.6,219.5 146.1,218.7 146.6,217.9 147.1,217.1 147.6,216.3 148.0,215.4 148.5,214.5 149.0,213.5 149.5,212.6 150.0,211.6 150.5,210.6 151.0,209.7 151.5,208.7 152.0,207.7 152.5,206.7 153.0,205.8 153.4,204.9 153.9,204.0 154.4,203.1 154.9,202.3 155.4,201.6 155.9,200.9 156.4,200.3 156.9,199.8 157.4,199.3 157.9,198.9 158.4,198.6 158.8,198.5 159.3,198.3 159.8,198.3 160.3,198.4 160.8,198.6 161.3,198.8 161.8,199.2 162.3,199.6 162.8,200.1 163.3,200.6 163.8,201.2 164.3,201.9 164.7,202.6 165.2,203.4 165.7,204.2 166.2,205.0 166.7,205.9 167.2,206.7 167.7,207.6 168.2,208.5 168.7,209.3 169.2,210.2 169.7,211.0 170.1,211.9 170.6,212.7 171.1,213.4 171.6,214.2 172.1,214.9 172.6,215.6 173.1,216.3 173.6,216.9 174.1,217.5 174.6,218.1 175.1,218.6 175.5,219.1 176.0,219.5 176.5,219.9 177.0,220.3 177.5,220.6 178.0,220.9 178.5,221.1 179.0,221.3 179.5,221.4 180.0,221.6 180.5,221.6 180.9,221.7 181.4,221.6 181.9,221.6 182.4,221.5 182.9,221.4 183.4,221.2 183.9,221.0 184.4,220.8 184.9,220.5 185.4,220.2 185.9,219.8 186.3,219.4 186.8,219.0 187.3,218.6 187.8,218.1 188.3,217.5 188.8,217.0 189.3,216.4 189.8,215.8 190.3,215.2 190.8,214.6 191.3,213.9 191.8,213.2 192.2,212.5 192.7,211.8 193.2,211.1 193.7,210.4 194.2,209.7 194.7,209.0 195.2,208.3 195.7,207.6 196.2,207.0 196.7,206.3 197.2,205.7 197.6,205.2 198.1,204.6 198.6,204.1 199.1,203.7 199.6,203.3 200.1,202.9 200.6,202.6 201.1,202.4 201.6,202.2 202.1,202.1 202.6,202.1 203.0,202.1 203.5,202.2 204.0,202.3 204.5,202.5 205.0,202.7 205.5,203.1 206.0,203.4 206.5,203.8 207.0,204.2 207.5,204.7 208.0,205.2 208.4,205.8 208.9,206.4 209.4,207.0 209.9,207.6 210.4,208.2 210.9,208.8 211.4,209.4 211.9,210.1 212.4,210.7 212.9,211.3 213.4,212.0 213.8,212.6 214.3,213.2 214.8,213.7 215.3,214.3 215.8,214.8 216.3,215.3 216.8,215.8 217.3,216.3 217.8,216.7 218.3,217.1 218.8,217.5 219.3,217.8 219.7,218.1 220.2,218.4 220.7,218.6 221.2,218.9 221.7,219.0 222.2,219.2 222.7,219.3 223.2,219.4 223.7,219.4 224.2,219.5 224.7,219.5 225.1,219.4 225.6,219.3 226.1,219.2 226.6,219.1 227.1,218.9 227.6,218.7 228.1,218.5 228.6,218.2 229.1,217.9 229.6,217.6 230.1,217.3 230.5,216.9 231.0,216.5 231.5,216.1 232.0,215.6 232.5,215.2 233.0,214.7 233.5,214.2 234.0,213.7 234.5,213.2 235.0,212.6 235.5,212.1 235.9,211.6 236.4,211.0 236.9,210.5 237.4,209.9 237.9,209.4 238.4,208.9 238.9,208.4 239.4,207.9 239.9,207.4 240.4,207.0 240.9,206.5 241.3,206.1 241.8,205.8 242.3,205.4 242.8,205.2 243.3,204.9 243.8,204.7 244.3,204.5 244.8,204.4 245.3,204.3 245.8,204.3 246.3,204.3 246.8,204.4 247.2,204.5 247.7,204.6 248.2,204.8 248.7,205.0 249.2,205.3 249.7,205.6 250.2,205.9 250.7,206.3 251.2,206.7 251.7,207.1 252.2,207.5 252.6,208.0 253.1,208.5 253.6,208.9 254.1,209.4 254.6,209.9 255.1,210.4 255.6,210.9 256.1,211.4 256.6,211.9 257.1,212.4 257.6,212.9 258.0,213.3 258.5,213.8 259.0,214.2 259.5,214.6 260.0,215.0 260.5,215.4 261.0,215.8 261.5,216.1 262.0,216.4 262.5,216.7 263.0,217.0 263.4,217.2 263.9,217.4 264.4,217.6 264.9,217.8 265.4,217.9 265.9,218.0 266.4,218.1 266.9,218.1 267.4,218.1 267.9,218.1 268.4,218.1 268.8,218.0 269.3,217.9 269.8,217.8 270.3,217.6 270.8,217.5 271.3,217.3 271.8,217.0 272.3,216.8 272.8,216.5 273.3,216.2 273.8,215.9 274.3,215.6 274.7,215.2 275.2,214.9 275.7,214.5 276.2,214.1 276.7,213.7 277.2,213.2 277.7,212.8 278.2,212.4 278.7,211.9 279.2,211.5 279.7,211.0 280.1,210.6 280.6,210.1 281.1,209.7 281.6,209.3 282.1,208.9 282.6,208.5 283.1,208.1 283.6,207.7 284.1,207.4 284.6,207.1 285.1,206.8 285.5,206.5 286.0,206.3 286.5,206.1 287.0,205.9 287.5,205.8 288.0,205.7 288.5,205.7 289.0,205.6 289.5,205.6 290.0,205.7 290.5,205.8 290.9,205.9 291.4,206.1 291.9,206.3 292.4,206.5 292.9,206.7 293.4,207.0 293.9,207.3 294.4,207.6 294.9,208.0 295.4,208.3 295.9,208.7 296.3,209.1 296.8,209.5 297.3,209.9 297.8,210.3 298.3,210.7 298.8,211.1 299.3,211.6 299.8,212.0 300.3,212.4 300.8,212.8 301.3,213.1 301.8,213.5 302.2,213.9 302.7,214.2 303.2,214.6 303.7,214.9 304.2,215.2 304.7,215.5 305.2,215.7 305.7,216.0 306.2,216.2 306.7,216.4 307.2,216.6 307.6,216.7 308.1,216.8 308.6,217.0 309.1,217.0 309.6,217.1 310.1,217.1 310.6,217.1 311.1,217.1 311.6,217.1 312.1,217.0 312.6,216.9 313.0,216.8 313.5,216.7 314.0,216.6 314.5,216.4 315.0,216.2 315.5,216.0 316.4,216.0" stroke="#800080" stroke-width="2.0" stroke-dasharray="8.5 2"/>
</g>
<line x1="235.20" y1="20.60" x2="256.10" y2="20.60" stroke="#ff0000" stroke-width="1.9"/>
<line x1="235.20" y1="54.05" x2="256.10" y2="54.05" stroke="#000000" stroke-width="2.15" stroke-dasharray="2.4 1.25"/>
<line x1="235.20" y1="87.50" x2="256.10" y2="87.50" stroke="#0000ff" stroke-width="2.0" stroke-dasharray="5.4 1.6"/>
<line x1="235.20" y1="120.95" x2="256.10" y2="120.95" stroke="#ff8000" stroke-width="2.0" stroke-dasharray="1.7 1.5 5.1 1.5" stroke-dashoffset="6.6"/>
<line x1="235.20" y1="154.40" x2="256.10" y2="154.40" stroke="#800080" stroke-width="2.0" stroke-dasharray="8.5 2"/>
<clipPath id="cp2"><rect x="402.00" y="5.20" width="275.00" height="274.60"/></clipPath>
<path d="M402.90,278.9v-3.5M402.90,6.1v3.5M416.56,278.9v-2.5M416.56,6.1v2.5M430.22,278.9v-2.5M430.22,6.1v2.5M443.88,278.9v-2.5M443.88,6.1v2.5M457.54,278.9v-2.5M457.54,6.1v2.5M471.20,278.9v-3.5M471.20,6.1v3.5M484.86,278.9v-2.5M484.86,6.1v2.5M498.52,278.9v-2.5M498.52,6.1v2.5M512.18,278.9v-2.5M512.18,6.1v2.5M525.84,278.9v-2.5M525.84,6.1v2.5M539.50,278.9v-3.5M539.50,6.1v3.5M553.16,278.9v-2.5M553.16,6.1v2.5M566.82,278.9v-2.5M566.82,6.1v2.5M580.48,278.9v-2.5M580.48,6.1v2.5M594.14,278.9v-2.5M594.14,6.1v2.5M607.80,278.9v-3.5M607.80,6.1v3.5M621.46,278.9v-2.5M621.46,6.1v2.5M635.12,278.9v-2.5M635.12,6.1v2.5M648.78,278.9v-2.5M648.78,6.1v2.5M662.44,278.9v-2.5M662.44,6.1v2.5M676.10,278.9v-3.5M676.10,6.1v3.5M402.9,278.90h3.5M676.1,278.90h-3.5M402.9,269.81h2.5M676.1,269.81h-2.5M402.9,260.71h2.5M676.1,260.71h-2.5M402.9,251.62h2.5M676.1,251.62h-2.5M402.9,242.53h2.5M676.1,242.53h-2.5M402.9,233.43h3.5M676.1,233.43h-3.5M402.9,224.34h2.5M676.1,224.34h-2.5M402.9,215.25h2.5M676.1,215.25h-2.5M402.9,206.15h2.5M676.1,206.15h-2.5M402.9,197.06h2.5M676.1,197.06h-2.5M402.9,187.97h3.5M676.1,187.97h-3.5M402.9,178.87h2.5M676.1,178.87h-2.5M402.9,169.78h2.5M676.1,169.78h-2.5M402.9,160.69h2.5M676.1,160.69h-2.5M402.9,151.59h2.5M676.1,151.59h-2.5M402.9,142.50h3.5M676.1,142.50h-3.5M402.9,133.41h2.5M676.1,133.41h-2.5M402.9,124.31h2.5M676.1,124.31h-2.5M402.9,115.22h2.5M676.1,115.22h-2.5M402.9,106.13h2.5M676.1,106.13h-2.5M402.9,97.03h3.5M676.1,97.03h-3.5M402.9,87.94h2.5M676.1,87.94h-2.5M402.9,78.85h2.5M676.1,78.85h-2.5M402.9,69.75h2.5M676.1,69.75h-2.5M402.9,60.66h2.5M676.1,60.66h-2.5M402.9,51.57h3.5M676.1,51.57h-3.5M402.9,42.47h2.5M676.1,42.47h-2.5M402.9,33.38h2.5M676.1,33.38h-2.5M402.9,24.29h2.5M676.1,24.29h-2.5M402.9,15.19h2.5M676.1,15.19h-2.5M402.9,6.10h3.5M676.1,6.10h-3.5" stroke="#222222" stroke-width="1" fill="none"/>
<rect x="402.9" y="6.1" width="273.20" height="272.80" fill="none" stroke="#222222" stroke-width="1.2"/>
<g clip-path="url(#cp2)" fill="none" stroke-linejoin="round">
<polyline points="402.0,273.7 402.9,273.7 403.4,273.7 403.9,273.7 404.4,273.6 404.9,273.6 405.3,273.5 405.8,273.5 406.3,273.4 406.8,273.3 407.3,273.2 407.8,273.1 408.3,273.0 408.8,272.9 409.2,272.7 409.7,272.5 410.2,272.4 410.7,272.1 411.2,271.9 411.7,271.7 412.2,271.4 412.7,271.0 413.1,270.7 413.6,270.3 414.1,269.9 414.6,269.4 415.1,268.9 415.6,268.3 416.1,267.6 416.6,266.9 417.0,266.1 417.5,265.1 418.0,264.1 418.5,262.9 419.0,261.5 419.5,260.0 420.0,258.3 420.5,256.2 421.0,253.9 421.4,251.2 421.9,248.1 422.4,244.4 422.9,240.1 423.4,235.0 423.9,229.0 424.4,221.8 424.9,213.3 425.3,203.0 425.8,190.8 426.3,176.4 426.8,159.4 427.3,140.0 427.8,118.4 428.3,95.6 428.8,73.4 429.2,54.4 429.7,41.2 430.2,35.7 430.7,38.5 431.2,48.3 431.7,62.9 432.2,80.0 432.7,97.7 433.1,114.6 433.6,130.1 434.1,144.0 434.6,156.1 435.1,166.7 435.6,175.7 436.1,183.5 436.6,190.2 437.1,196.0 437.5,200.9 438.0,205.1 438.5,208.7 439.0,211.8 439.5,214.4 440.0,216.7 440.5,218.6 441.0,220.1 441.4,221.4 441.9,222.4 442.4,223.2 442.9,223.7 443.4,224.1 443.9,224.2 444.4,224.2 444.9,223.9 445.3,223.5 445.8,223.0 446.3,222.2 446.8,221.3 447.3,220.1 447.8,218.9 448.3,217.4 448.8,215.7 449.2,213.9 449.7,211.8 450.2,209.6 450.7,207.2 451.2,204.6 451.7,201.9 452.2,199.0 452.7,195.9 453.1,192.7 453.6,189.4 454.1,186.1 454.6,182.8 455.1,179.5 455.6,176.3 456.1,173.3 456.6,170.5 457.1,168.1 457.5,165.9 458.0,164.3 458.5,163.0 459.0,162.2 459.5,162.0 460.0,162.1 460.5,162.8 461.0,163.8 461.4,165.2 461.9,166.9 462.4,168.8 462.9,170.9 463.4,173.1 463.9,175.4 464.4,177.7 464.9,180.0 465.3,182.3 465.8,184.5 466.3,186.5 466.8,188.5 467.3,190.3 467.8,192.0 468.3,193.5 468.8,194.9 469.2,196.2 469.7,197.2 470.2,198.2 470.7,199.0 471.2,199.6 471.7,200.1 472.2,200.4 472.7,200.7 473.2,200.7 473.6,200.7 474.1,200.5 474.6,200.2 475.1,199.7 475.6,199.1 476.1,198.5 476.6,197.7 477.1,196.8 477.5,195.8 478.0,194.7 478.5,193.5 479.0,192.2 479.5,190.9 480.0,189.6 480.5,188.2 481.0,186.7 481.4,185.3 481.9,183.9 482.4,182.5 482.9,181.2 483.4,180.0 483.9,178.9 484.4,177.9 484.9,177.0 485.3,176.3 485.8,175.7 486.3,175.4 486.8,175.2 487.3,175.2 487.8,175.3 488.3,175.7 488.8,176.2 489.3,176.9 489.7,177.7 490.2,178.6 490.7,179.7 491.2,180.8 491.7,182.0 492.2,183.2 492.7,184.5 493.2,185.8 493.6,187.0 494.1,188.3 494.6,189.5 495.1,190.6 495.6,191.8 496.1,192.8 496.6,193.8 497.1,194.7 497.5,195.5 498.0,196.2 498.5,196.9 499.0,197.4 499.5,197.9 500.0,198.3 500.5,198.5 501.0,198.7 501.4,198.8 501.9,198.8 502.4,198.7 502.9,198.5 503.4,198.3 503.9,197.9 504.4,197.5 504.9,196.9 505.4,196.3 505.8,195.7 506.3,194.9 506.8,194.1 507.3,193.2 507.8,192.3 508.3,191.4 508.8,190.4 509.3,189.3 509.7,188.3 510.2,187.2 510.7,186.2 511.2,185.2 511.7,184.1 512.2,183.2 512.7,182.3 513.2,181.4 513.6,180.6 514.1,179.9 514.6,179.3 515.1,178.8 515.6,178.4 516.1,178.2 516.6,178.0 517.1,178.0 517.5,178.0 518.0,178.2 518.5,178.5 519.0,178.9 519.5,179.3 520.0,179.9 520.5,180.5 521.0,181.2 521.4,181.9 521.9,182.7 522.4,183.5 522.9,184.3 523.4,185.2 523.9,186.0 524.4,186.8 524.9,187.6 525.4,188.4 525.8,189.1 526.3,189.8 526.8,190.4 527.3,191.0 527.8,191.6 528.3,192.1 528.8,192.5 529.3,192.9 529.7,193.2 530.2,193.5 530.7,193.7 531.2,193.8 531.7,193.9 532.2,193.9 532.7,193.9 533.2,193.8 533.6,193.6 534.1,193.4 534.6,193.2 535.1,192.9 535.6,192.6 536.1,192.2 536.6,191.8 537.1,191.4 537.5,191.0 538.0,190.5 538.5,190.0 539.0,189.5 539.5,189.1 540.0,188.6 540.5,188.1 541.0,187.6 541.5,187.2 541.9,186.8 542.4,186.4 542.9,186.1 543.4,185.8 543.9,185.5 544.4,185.3 544.9,185.1 545.4,185.0 545.8,184.9 546.3,184.8 546.8,184.9 547.3,184.9 547.8,185.0 548.3,185.2 548.8,185.3 549.3,185.6 549.7,185.8 550.2,186.1 550.7,186.4 551.2,186.7 551.7,187.0 552.2,187.3 552.7,187.6 553.2,187.9 553.6,188.2 554.1,188.5 554.6,188.8 555.1,189.1 555.6,189.3 556.1,189.5 556.6,189.7 557.1,189.8 557.6,190.0 558.0,190.0 558.5,190.1 559.0,190.1 559.5,190.1 560.0,190.1 560.5,190.0 561.0,189.9 561.5,189.7 561.9,189.6 562.4,189.4 562.9,189.1 563.4,188.9 563.9,188.6 564.4,188.3 564.9,188.0 565.4,187.7 565.8,187.4 566.3,187.1 566.8,186.8 567.3,186.5 567.8,186.2 568.3,185.9 568.8,185.7 569.3,185.4 569.7,185.2 570.2,185.0 570.7,184.9 571.2,184.8 571.7,184.7 572.2,184.6 572.7,184.6 573.2,184.7 573.7,184.7 574.1,184.9 574.6,185.0 575.1,185.2 575.6,185.4 576.1,185.7 576.6,186.0 577.1,186.3 577.6,186.6 578.0,186.9 578.5,187.3 579.0,187.7 579.5,188.0 580.0,188.4 580.5,188.8 581.0,189.1 581.5,189.5 581.9,189.8 582.4,190.2 582.9,190.5 583.4,190.8 583.9,191.0 584.4,191.2 584.9,191.4 585.4,191.6 585.8,191.8 586.3,191.9 586.8,191.9 587.3,192.0 587.8,192.0 588.3,191.9 588.8,191.9 589.3,191.8 589.7,191.6 590.2,191.5 590.7,191.3 591.2,191.0 591.7,190.8 592.2,190.5 592.7,190.2 593.2,189.9 593.7,189.5 594.1,189.2 594.6,188.8 595.1,188.4 595.6,188.1 596.1,187.7 596.6,187.3 597.1,186.9 597.6,186.6 598.0,186.2 598.5,185.9 599.0,185.6 599.5,185.3 600.0,185.0 600.5,184.8 601.0,184.6 601.5,184.5 601.9,184.3 602.4,184.2 602.9,184.2 603.4,184.2 603.9,184.2 604.4,184.2 604.9,184.3 605.4,184.5 605.8,184.6 606.3,184.8 606.8,185.0 607.3,185.2 607.8,185.5 608.3,185.8 608.8,186.0 609.3,186.3 609.8,186.6 610.2,186.9 610.7,187.2 611.2,187.5 611.7,187.8 612.2,188.1 612.7,188.4 613.2,188.7 613.7,188.9 614.1,189.2 614.6,189.4 615.1,189.6 615.6,189.7 616.1,189.9 616.6,190.0 617.1,190.1 617.6,190.2 618.0,190.3 618.5,190.3 619.0,190.3 619.5,190.3 620.0,190.3 620.5,190.2 621.0,190.1 621.5,190.0 621.9,189.9 622.4,189.8 622.9,189.7 623.4,189.5 623.9,189.4 624.4,189.2 624.9,189.0 625.4,188.8 625.9,188.7 626.3,188.5 626.8,188.3 627.3,188.2 627.8,188.0 628.3,187.9 628.8,187.7 629.3,187.6 629.8,187.5 630.2,187.4 630.7,187.3 631.2,187.2 631.7,187.2 632.2,187.1 632.7,187.1 633.2,187.1 633.7,187.1 634.1,187.1 634.6,187.2 635.1,187.2 635.6,187.3 636.1,187.4 636.6,187.4 637.1,187.5 637.6,187.6 638.0,187.7 638.5,187.8 639.0,187.9 639.5,188.0 640.0,188.1 640.5,188.2 641.0,188.3 641.5,188.3 642.0,188.4 642.4,188.5 642.9,188.5 643.4,188.5 643.9,188.5 644.4,188.6 644.9,188.6 645.4,188.5 645.9,188.5 646.3,188.5 646.8,188.4 647.3,188.3 647.8,188.3 648.3,188.2 648.8,188.1 649.3,188.0 649.8,187.8 650.2,187.7 650.7,187.6 651.2,187.5 651.7,187.3 652.2,187.2 652.7,187.1 653.2,187.0 653.7,186.9 654.1,186.8 654.6,186.7 655.1,186.6 655.6,186.5 656.1,186.5 656.6,186.4 657.1,186.4 657.6,186.4 658.0,186.4 658.5,186.4 659.0,186.4 659.5,186.5 660.0,186.6 660.5,186.7 661.0,186.8 661.5,186.9 662.0,187.0 662.4,187.2 662.9,187.3 663.4,187.5 663.9,187.7 664.4,187.8 664.9,188.0 665.4,188.2 665.9,188.4 666.3,188.6 666.8,188.8 667.3,189.0 667.8,189.1 668.3,189.3 668.8,189.4 669.3,189.6 669.8,189.7 670.2,189.8 670.7,189.9 671.2,190.0 671.7,190.1 672.2,190.1 672.7,190.2 673.2,190.2 673.7,190.2 674.1,190.2 674.6,190.1 675.1,190.1 675.6,190.0 676.1,189.9 677.0,189.9" stroke="#ff0000" stroke-width="1.9"/>
<polyline points="402.0,271.3 402.9,271.3 403.4,271.3 403.9,271.3 404.4,271.3 404.9,271.2 405.3,271.2 405.8,271.1 406.3,271.0 406.8,270.9 407.3,270.8 407.8,270.6 408.3,270.5 408.8,270.3 409.2,270.1 409.7,269.9 410.2,269.6 410.7,269.3 411.2,269.0 411.7,268.7 412.2,268.3 412.7,267.9 413.1,267.5 413.6,267.0 414.1,266.5 414.6,265.9 415.1,265.3 415.6,264.5 416.1,263.7 416.6,262.9 417.0,261.9 417.5,260.8 418.0,259.6 418.5,258.3 419.0,256.8 419.5,255.2 420.0,253.3 420.5,251.2 421.0,248.8 421.4,246.2 421.9,243.1 422.4,239.7 422.9,235.8 423.4,231.4 423.9,226.4 424.4,220.7 424.9,214.1 425.3,206.8 425.8,198.4 426.3,189.1 426.8,178.8 427.3,167.5 427.8,155.5 428.3,143.0 428.8,130.4 429.2,118.4 429.7,107.8 430.2,99.2 430.7,93.2 431.2,90.2 431.7,90.3 432.2,93.2 432.7,98.5 433.1,105.4 433.6,113.4 434.1,122.0 434.6,130.7 435.1,139.2 435.6,147.3 436.1,154.9 436.6,161.8 437.1,168.1 437.5,173.9 438.0,179.0 438.5,183.7 439.0,187.8 439.5,191.4 440.0,194.7 440.5,197.5 441.0,200.0 441.4,202.2 441.9,204.1 442.4,205.7 442.9,207.1 443.4,208.2 443.9,209.2 444.4,209.9 444.9,210.5 445.3,210.9 445.8,211.1 446.3,211.2 446.8,211.2 447.3,211.0 447.8,210.7 448.3,210.2 448.8,209.7 449.2,209.0 449.7,208.2 450.2,207.4 450.7,206.4 451.2,205.3 451.7,204.2 452.2,203.0 452.7,201.8 453.1,200.5 453.6,199.1 454.1,197.8 454.6,196.4 455.1,195.0 455.6,193.6 456.1,192.3 456.6,191.0 457.1,189.8 457.5,188.6 458.0,187.5 458.5,186.5 459.0,185.7 459.5,184.9 460.0,184.2 460.5,183.7 461.0,183.3 461.4,183.0 461.9,182.8 462.4,182.7 462.9,182.8 463.4,182.9 463.9,183.1 464.4,183.3 464.9,183.6 465.3,184.0 465.8,184.4 466.3,184.8 466.8,185.2 467.3,185.6 467.8,186.0 468.3,186.4 468.8,186.8 469.2,187.1 469.7,187.4 470.2,187.7 470.7,187.9 471.2,188.0 471.7,188.2 472.2,188.2 472.7,188.2 473.2,188.1 473.6,188.0 474.1,187.8 474.6,187.6 475.1,187.3 475.6,187.0 476.1,186.7 476.6,186.3 477.1,185.8 477.5,185.4 478.0,184.9 478.5,184.4 479.0,183.9 479.5,183.5 480.0,183.0 480.5,182.5 481.0,182.1 481.4,181.7 481.9,181.3 482.4,181.0 482.9,180.8 483.4,180.6 483.9,180.5 484.4,180.5 484.9,180.5 485.3,180.6 485.8,180.8 486.3,181.1 486.8,181.4 487.3,181.8 487.8,182.3 488.3,182.9 488.8,183.5 489.3,184.2 489.7,184.9 490.2,185.6 490.7,186.4 491.2,187.2 491.7,188.0 492.2,188.8 492.7,189.6 493.2,190.4 493.6,191.2 494.1,191.9 494.6,192.7 495.1,193.3 495.6,194.0 496.1,194.6 496.6,195.2 497.1,195.7 497.5,196.1 498.0,196.5 498.5,196.8 499.0,197.1 499.5,197.3 500.0,197.5 500.5,197.6 501.0,197.6 501.4,197.6 501.9,197.5 502.4,197.3 502.9,197.1 503.4,196.8 503.9,196.5 504.4,196.1 504.9,195.6 505.4,195.1 505.8,194.5 506.3,193.9 506.8,193.3 507.3,192.6 507.8,191.9 508.3,191.1 508.8,190.3 509.3,189.5 509.7,188.7 510.2,187.8 510.7,187.0 511.2,186.2 511.7,185.4 512.2,184.6 512.7,183.8 513.2,183.1 513.6,182.4 514.1,181.7 514.6,181.1 515.1,180.6 515.6,180.2 516.1,179.8 516.6,179.4 517.1,179.2 517.5,179.0 518.0,178.9 518.5,178.9 519.0,179.0 519.5,179.1 520.0,179.3 520.5,179.6 521.0,180.0 521.4,180.3 521.9,180.8 522.4,181.3 522.9,181.8 523.4,182.3 523.9,182.9 524.4,183.5 524.9,184.1 525.4,184.7 525.8,185.3 526.3,185.9 526.8,186.5 527.3,187.1 527.8,187.6 528.3,188.2 528.8,188.7 529.3,189.2 529.7,189.6 530.2,190.1 530.7,190.5 531.2,190.8 531.7,191.2 532.2,191.5 532.7,191.7 533.2,191.9 533.6,192.1 534.1,192.3 534.6,192.4 535.1,192.5 535.6,192.6 536.1,192.6 536.6,192.6 537.1,192.6 537.5,192.5 538.0,192.4 538.5,192.3 539.0,192.2 539.5,192.1 540.0,192.0 540.5,191.8 541.0,191.6 541.5,191.4 541.9,191.3 542.4,191.1 542.9,190.9 543.4,190.7 543.9,190.5 544.4,190.3 544.9,190.1 545.4,189.9 545.8,189.7 546.3,189.5 546.8,189.3 547.3,189.2 547.8,189.0 548.3,188.8 548.8,188.7 549.3,188.5 549.7,188.4 550.2,188.3 550.7,188.2 551.2,188.0 551.7,187.9 552.2,187.8 552.7,187.7 553.2,187.6 553.6,187.5 554.1,187.4 554.6,187.3 555.1,187.2 555.6,187.1 556.1,187.0 556.6,186.9 557.1,186.7 557.6,186.6 558.0,186.5 558.5,186.4 559.0,186.3 559.5,186.1 560.0,186.0 560.5,185.9 561.0,185.8 561.5,185.6 561.9,185.5 562.4,185.4 562.9,185.3 563.4,185.2 563.9,185.1 564.4,185.0 564.9,184.9 565.4,184.8 565.8,184.7 566.3,184.7 566.8,184.7 567.3,184.6 567.8,184.6 568.3,184.7 568.8,184.7 569.3,184.8 569.7,184.9 570.2,185.0 570.7,185.1 571.2,185.3 571.7,185.4 572.2,185.6 572.7,185.9 573.2,186.1 573.7,186.3 574.1,186.6 574.6,186.9 575.1,187.2 575.6,187.5 576.1,187.8 576.6,188.1 577.1,188.4 577.6,188.7 578.0,189.1 578.5,189.4 579.0,189.7 579.5,190.0 580.0,190.3 580.5,190.6 581.0,190.8 581.5,191.1 581.9,191.3 582.4,191.6 582.9,191.7 583.4,191.9 583.9,192.1 584.4,192.2 584.9,192.3 585.4,192.4 585.8,192.4 586.3,192.4 586.8,192.4 587.3,192.4 587.8,192.3 588.3,192.2 588.8,192.1 589.3,192.0 589.7,191.8 590.2,191.6 590.7,191.4 591.2,191.1 591.7,190.9 592.2,190.6 592.7,190.3 593.2,190.0 593.7,189.6 594.1,189.3 594.6,188.9 595.1,188.6 595.6,188.2 596.1,187.8 596.6,187.5 597.1,187.1 597.6,186.7 598.0,186.4 598.5,186.1 599.0,185.7 599.5,185.4 600.0,185.1 600.5,184.9 601.0,184.6 601.5,184.4 601.9,184.2 602.4,184.1 602.9,183.9 603.4,183.8 603.9,183.8 604.4,183.7 604.9,183.7 605.4,183.7 605.8,183.8 606.3,183.8 606.8,183.9 607.3,184.1 607.8,184.2 608.3,184.4 608.8,184.6 609.3,184.8 609.8,185.0 610.2,185.3 610.7,185.5 611.2,185.8 611.7,186.1 612.2,186.3 612.7,186.6 613.2,186.9 613.7,187.2 614.1,187.4 614.6,187.7 615.1,188.0 615.6,188.2 616.1,188.5 616.6,188.7 617.1,188.9 617.6,189.2 618.0,189.4 618.5,189.5 619.0,189.7 619.5,189.9 620.0,190.0 620.5,190.1 621.0,190.2 621.5,190.3 621.9,190.4 622.4,190.5 622.9,190.5 623.4,190.6 623.9,190.6 624.4,190.6 624.9,190.6 625.4,190.6 625.9,190.5 626.3,190.5 626.8,190.4 627.3,190.4 627.8,190.3 628.3,190.2 628.8,190.2 629.3,190.1 629.8,190.0 630.2,189.9 630.7,189.8 631.2,189.7 631.7,189.6 632.2,189.4 632.7,189.3 633.2,189.2 633.7,189.1 634.1,189.0 634.6,188.9 635.1,188.7 635.6,188.6 636.1,188.5 636.6,188.4 637.1,188.3 637.6,188.2 638.0,188.0 638.5,187.9 639.0,187.8 639.5,187.7 640.0,187.6 640.5,187.5 641.0,187.4 641.5,187.3 642.0,187.1 642.4,187.0 642.9,186.9 643.4,186.8 643.9,186.7 644.4,186.6 644.9,186.5 645.4,186.4 645.9,186.3 646.3,186.2 646.8,186.2 647.3,186.1 647.8,186.0 648.3,185.9 648.8,185.9 649.3,185.8 649.8,185.8 650.2,185.7 650.7,185.7 651.2,185.7 651.7,185.7 652.2,185.7 652.7,185.7 653.2,185.7 653.7,185.8 654.1,185.8 654.6,185.9 655.1,186.0 655.6,186.1 656.1,186.2 656.6,186.3 657.1,186.4 657.6,186.5 658.0,186.7 658.5,186.8 659.0,187.0 659.5,187.1 660.0,187.3 660.5,187.5 661.0,187.7 661.5,187.9 662.0,188.1 662.4,188.3 662.9,188.5 663.4,188.7 663.9,188.9 664.4,189.1 664.9,189.3 665.4,189.4 665.9,189.6 666.3,189.8 666.8,189.9 667.3,190.1 667.8,190.2 668.3,190.4 668.8,190.5 669.3,190.6 669.8,190.6 670.2,190.7 670.7,190.8 671.2,190.8 671.7,190.8 672.2,190.8 672.7,190.8 673.2,190.8 673.7,190.7 674.1,190.7 674.6,190.6 675.1,190.5 675.6,190.4 676.1,190.2 677.0,190.2" stroke="#000000" stroke-width="2.15" stroke-dasharray="2.4 1.25"/>
<polyline points="402.0,268.6 402.9,268.6 403.4,268.5 403.9,268.5 404.4,268.5 404.9,268.4 405.3,268.4 405.8,268.3 406.3,268.2 406.8,268.0 407.3,267.9 407.8,267.7 408.3,267.5 408.8,267.3 409.2,267.1 409.7,266.8 410.2,266.5 410.7,266.2 411.2,265.9 411.7,265.5 412.2,265.1 412.7,264.7 413.1,264.2 413.6,263.6 414.1,263.1 414.6,262.4 415.1,261.7 415.6,261.0 416.1,260.2 416.6,259.3 417.0,258.3 417.5,257.2 418.0,256.0 418.5,254.8 419.0,253.3 419.5,251.8 420.0,250.1 420.5,248.2 421.0,246.1 421.4,243.8 421.9,241.3 422.4,238.5 422.9,235.5 423.4,232.1 423.9,228.3 424.4,224.2 424.9,219.6 425.3,214.6 425.8,209.1 426.3,203.1 426.8,196.6 427.3,189.6 427.8,182.1 428.3,174.3 428.8,166.2 429.2,157.9 429.7,149.7 430.2,141.8 430.7,134.5 431.2,128.0 431.7,122.6 432.2,118.4 432.7,115.7 433.1,114.5 433.6,114.6 434.1,116.1 434.6,118.8 435.1,122.3 435.6,126.6 436.1,131.3 436.6,136.4 437.1,141.6 437.5,146.8 438.0,151.9 438.5,156.8 439.0,161.5 439.5,166.0 440.0,170.1 440.5,174.0 441.0,177.6 441.4,181.0 441.9,184.0 442.4,186.8 442.9,189.4 443.4,191.7 443.9,193.8 444.4,195.7 444.9,197.4 445.3,199.0 445.8,200.4 446.3,201.6 446.8,202.7 447.3,203.6 447.8,204.4 448.3,205.1 448.8,205.7 449.2,206.2 449.7,206.6 450.2,206.9 450.7,207.1 451.2,207.2 451.7,207.3 452.2,207.3 452.7,207.2 453.1,207.0 453.6,206.8 454.1,206.6 454.6,206.3 455.1,205.9 455.6,205.5 456.1,205.0 456.6,204.5 457.1,204.0 457.5,203.4 458.0,202.8 458.5,202.2 459.0,201.5 459.5,200.8 460.0,200.1 460.5,199.4 461.0,198.6 461.4,197.9 461.9,197.1 462.4,196.3 462.9,195.5 463.4,194.7 463.9,193.9 464.4,193.0 464.9,192.2 465.3,191.4 465.8,190.5 466.3,189.7 466.8,188.8 467.3,188.0 467.8,187.2 468.3,186.3 468.8,185.5 469.2,184.7 469.7,183.8 470.2,183.0 470.7,182.2 471.2,181.5 471.7,180.7 472.2,180.0 472.7,179.3 473.2,178.6 473.6,177.9 474.1,177.3 474.6,176.7 475.1,176.2 475.6,175.7 476.1,175.3 476.6,175.0 477.1,174.7 477.5,174.4 478.0,174.3 478.5,174.2 479.0,174.1 479.5,174.2 480.0,174.3 480.5,174.5 481.0,174.8 481.4,175.2 481.9,175.6 482.4,176.1 482.9,176.7 483.4,177.3 483.9,178.0 484.4,178.7 484.9,179.5 485.3,180.3 485.8,181.2 486.3,182.1 486.8,183.1 487.3,184.0 487.8,185.0 488.3,185.9 488.8,186.9 489.3,187.9 489.7,188.8 490.2,189.7 490.7,190.6 491.2,191.5 491.7,192.4 492.2,193.2 492.7,194.0 493.2,194.7 493.6,195.5 494.1,196.1 494.6,196.7 495.1,197.3 495.6,197.8 496.1,198.3 496.6,198.7 497.1,199.0 497.5,199.3 498.0,199.6 498.5,199.8 499.0,199.9 499.5,200.0 500.0,200.0 500.5,199.9 501.0,199.9 501.4,199.7 501.9,199.5 502.4,199.2 502.9,198.9 503.4,198.5 503.9,198.1 504.4,197.6 504.9,197.1 505.4,196.5 505.8,195.9 506.3,195.3 506.8,194.6 507.3,193.8 507.8,193.0 508.3,192.2 508.8,191.4 509.3,190.5 509.7,189.6 510.2,188.7 510.7,187.8 511.2,186.9 511.7,186.0 512.2,185.1 512.7,184.2 513.2,183.3 513.6,182.5 514.1,181.7 514.6,180.9 515.1,180.2 515.6,179.6 516.1,178.9 516.6,178.4 517.1,177.9 517.5,177.5 518.0,177.2 518.5,176.9 519.0,176.8 519.5,176.7 520.0,176.6 520.5,176.7 521.0,176.8 521.4,177.0 521.9,177.3 522.4,177.6 522.9,178.0 523.4,178.5 523.9,179.0 524.4,179.5 524.9,180.1 525.4,180.7 525.8,181.4 526.3,182.0 526.8,182.7 527.3,183.4 527.8,184.1 528.3,184.8 528.8,185.5 529.3,186.2 529.7,186.9 530.2,187.6 530.7,188.3 531.2,188.9 531.7,189.5 532.2,190.1 532.7,190.7 533.2,191.2 533.6,191.7 534.1,192.2 534.6,192.6 535.1,193.0 535.6,193.4 536.1,193.8 536.6,194.1 537.1,194.4 537.5,194.6 538.0,194.8 538.5,195.0 539.0,195.1 539.5,195.2 540.0,195.3 540.5,195.4 541.0,195.4 541.5,195.4 541.9,195.3 542.4,195.2 542.9,195.1 543.4,195.0 543.9,194.8 544.4,194.7 544.9,194.4 545.4,194.2 545.8,193.9 546.3,193.7 546.8,193.4 547.3,193.0 547.8,192.7 548.3,192.3 548.8,192.0 549.3,191.6 549.7,191.2 550.2,190.7 550.7,190.3 551.2,189.9 551.7,189.4 552.2,189.0 552.7,188.5 553.2,188.1 553.6,187.6 554.1,187.1 554.6,186.7 555.1,186.2 555.6,185.8 556.1,185.3 556.6,184.9 557.1,184.5 557.6,184.1 558.0,183.7 558.5,183.4 559.0,183.0 559.5,182.7 560.0,182.4 560.5,182.1 561.0,181.9 561.5,181.7 561.9,181.5 562.4,181.4 562.9,181.3 563.4,181.2 563.9,181.2 564.4,181.2 564.9,181.2 565.4,181.2 565.8,181.4 566.3,181.5 566.8,181.7 567.3,181.9 567.8,182.1 568.3,182.4 568.8,182.7 569.3,183.0 569.7,183.3 570.2,183.7 570.7,184.1 571.2,184.5 571.7,185.0 572.2,185.4 572.7,185.9 573.2,186.3 573.7,186.8 574.1,187.3 574.6,187.7 575.1,188.2 575.6,188.7 576.1,189.2 576.6,189.6 577.1,190.0 577.6,190.5 578.0,190.9 578.5,191.3 579.0,191.7 579.5,192.0 580.0,192.4 580.5,192.7 581.0,193.0 581.5,193.2 581.9,193.5 582.4,193.7 582.9,193.8 583.4,194.0 583.9,194.1 584.4,194.2 584.9,194.3 585.4,194.3 585.8,194.3 586.3,194.3 586.8,194.2 587.3,194.1 587.8,194.0 588.3,193.8 588.8,193.6 589.3,193.4 589.7,193.2 590.2,192.9 590.7,192.6 591.2,192.3 591.7,191.9 592.2,191.6 592.7,191.2 593.2,190.8 593.7,190.4 594.1,189.9 594.6,189.5 595.1,189.0 595.6,188.6 596.1,188.1 596.6,187.6 597.1,187.2 597.6,186.7 598.0,186.3 598.5,185.8 599.0,185.4 599.5,185.0 600.0,184.5 600.5,184.2 601.0,183.8 601.5,183.5 601.9,183.2 602.4,182.9 602.9,182.6 603.4,182.4 603.9,182.2 604.4,182.1 604.9,182.0 605.4,181.9 605.8,181.9 606.3,181.9 606.8,181.9 607.3,182.0 607.8,182.1 608.3,182.2 608.8,182.4 609.3,182.6 609.8,182.9 610.2,183.1 610.7,183.4 611.2,183.7 611.7,184.0 612.2,184.4 612.7,184.7 613.2,185.1 613.7,185.5 614.1,185.9 614.6,186.2 615.1,186.6 615.6,187.0 616.1,187.4 616.6,187.8 617.1,188.2 617.6,188.6 618.0,188.9 618.5,189.3 619.0,189.6 619.5,190.0 620.0,190.3 620.5,190.6 621.0,190.9 621.5,191.1 621.9,191.4 622.4,191.6 622.9,191.8 623.4,192.0 623.9,192.1 624.4,192.3 624.9,192.4 625.4,192.5 625.9,192.6 626.3,192.6 626.8,192.7 627.3,192.7 627.8,192.7 628.3,192.7 628.8,192.6 629.3,192.5 629.8,192.4 630.2,192.3 630.7,192.2 631.2,192.1 631.7,191.9 632.2,191.7 632.7,191.5 633.2,191.3 633.7,191.1 634.1,190.9 634.6,190.6 635.1,190.3 635.6,190.1 636.1,189.8 636.6,189.5 637.1,189.2 637.6,188.9 638.0,188.6 638.5,188.3 639.0,188.0 639.5,187.7 640.0,187.4 640.5,187.1 641.0,186.7 641.5,186.5 642.0,186.2 642.4,185.9 642.9,185.6 643.4,185.3 643.9,185.1 644.4,184.8 644.9,184.6 645.4,184.4 645.9,184.2 646.3,184.1 646.8,183.9 647.3,183.8 647.8,183.7 648.3,183.6 648.8,183.5 649.3,183.5 649.8,183.5 650.2,183.5 650.7,183.5 651.2,183.5 651.7,183.6 652.2,183.7 652.7,183.8 653.2,184.0 653.7,184.1 654.1,184.3 654.6,184.5 655.1,184.7 655.6,185.0 656.1,185.2 656.6,185.5 657.1,185.8 657.6,186.1 658.0,186.4 658.5,186.7 659.0,187.0 659.5,187.3 660.0,187.6 660.5,187.9 661.0,188.2 661.5,188.5 662.0,188.8 662.4,189.1 662.9,189.4 663.4,189.7 663.9,190.0 664.4,190.3 664.9,190.5 665.4,190.8 665.9,191.0 666.3,191.2 666.8,191.4 667.3,191.6 667.8,191.7 668.3,191.9 668.8,192.0 669.3,192.1 669.8,192.1 670.2,192.2 670.7,192.2 671.2,192.2 671.7,192.2 672.2,192.2 672.7,192.2 673.2,192.1 673.7,192.0 674.1,191.9 674.6,191.8 675.1,191.6 675.6,191.4 676.1,191.2 677.0,191.2" stroke="#0000ff" stroke-width="2.0" stroke-dasharray="5.4 1.6"/>
<polyline points="402.0,266.7 402.9,266.7 403.4,266.7 403.9,266.6 404.4,266.6 404.9,266.5 405.3,266.5 405.8,266.4 406.3,266.3 406.8,266.1 407.3,266.0 407.8,265.8 408.3,265.6 408.8,265.4 409.2,265.1 409.7,264.9 410.2,264.6 410.7,264.3 411.2,263.9 411.7,263.6 412.2,263.2 412.7,262.7 413.1,262.2 413.6,261.7 414.1,261.1 414.6,260.5 415.1,259.9 415.6,259.1 416.1,258.3 416.6,257.5 417.0,256.6 417.5,255.6 418.0,254.5 418.5,253.3 419.0,252.0 419.5,250.6 420.0,249.1 420.5,247.4 421.0,245.6 421.4,243.7 421.9,241.5 422.4,239.1 422.9,236.6 423.4,233.8 423.9,230.7 424.4,227.4 424.9,223.7 425.3,219.7 425.8,215.4 426.3,210.7 426.8,205.6 427.3,200.2 427.8,194.4 428.3,188.1 428.8,181.6 429.2,174.8 429.7,167.8 430.2,160.6 430.7,153.6 431.2,146.7 431.7,140.1 432.2,134.2 432.7,128.9 433.1,124.6 433.6,121.3 434.1,119.1 434.6,118.0 435.1,118.1 435.6,119.2 436.1,121.3 436.6,124.1 437.1,127.6 437.5,131.6 438.0,136.0 438.5,140.5 439.0,145.2 439.5,149.8 440.0,154.4 440.5,158.9 441.0,163.2 441.4,167.3 441.9,171.2 442.4,174.8 442.9,178.3 443.4,181.5 443.9,184.5 444.4,187.3 444.9,189.8 445.3,192.2 445.8,194.4 446.3,196.4 446.8,198.3 447.3,199.9 447.8,201.5 448.3,202.9 448.8,204.1 449.2,205.3 449.7,206.3 450.2,207.2 450.7,208.0 451.2,208.7 451.7,209.3 452.2,209.8 452.7,210.2 453.1,210.5 453.6,210.8 454.1,210.9 454.6,211.0 455.1,211.0 455.6,211.0 456.1,210.8 456.6,210.6 457.1,210.4 457.5,210.1 458.0,209.7 458.5,209.2 459.0,208.7 459.5,208.1 460.0,207.5 460.5,206.8 461.0,206.0 461.4,205.2 461.9,204.3 462.4,203.4 462.9,202.4 463.4,201.4 463.9,200.3 464.4,199.2 464.9,198.0 465.3,196.8 465.8,195.5 466.3,194.2 466.8,192.8 467.3,191.4 467.8,190.0 468.3,188.6 468.8,187.1 469.2,185.7 469.7,184.2 470.2,182.8 470.7,181.3 471.2,179.9 471.7,178.5 472.2,177.1 472.7,175.8 473.2,174.6 473.6,173.4 474.1,172.3 474.6,171.3 475.1,170.4 475.6,169.7 476.1,169.0 476.6,168.4 477.1,168.0 477.5,167.7 478.0,167.6 478.5,167.6 479.0,167.7 479.5,167.9 480.0,168.3 480.5,168.8 481.0,169.4 481.4,170.2 481.9,171.0 482.4,171.9 482.9,172.9 483.4,174.0 483.9,175.1 484.4,176.3 484.9,177.6 485.3,178.8 485.8,180.1 486.3,181.4 486.8,182.7 487.3,184.0 487.8,185.3 488.3,186.5 488.8,187.8 489.3,189.0 489.7,190.1 490.2,191.3 490.7,192.4 491.2,193.4 491.7,194.4 492.2,195.3 492.7,196.2 493.2,197.0 493.6,197.8 494.1,198.5 494.6,199.1 495.1,199.7 495.6,200.3 496.1,200.7 496.6,201.1 497.1,201.5 497.5,201.8 498.0,202.0 498.5,202.2 499.0,202.3 499.5,202.3 500.0,202.3 500.5,202.2 501.0,202.1 501.4,201.9 501.9,201.6 502.4,201.3 502.9,201.0 503.4,200.5 503.9,200.1 504.4,199.5 504.9,198.9 505.4,198.3 505.8,197.6 506.3,196.9 506.8,196.1 507.3,195.3 507.8,194.4 508.3,193.5 508.8,192.6 509.3,191.6 509.7,190.7 510.2,189.6 510.7,188.6 511.2,187.6 511.7,186.5 512.2,185.5 512.7,184.4 513.2,183.4 513.6,182.4 514.1,181.4 514.6,180.5 515.1,179.6 515.6,178.7 516.1,177.9 516.6,177.2 517.1,176.6 517.5,176.0 518.0,175.5 518.5,175.0 519.0,174.7 519.5,174.4 520.0,174.3 520.5,174.2 521.0,174.2 521.4,174.3 521.9,174.5 522.4,174.8 522.9,175.2 523.4,175.6 523.9,176.1 524.4,176.7 524.9,177.3 525.4,178.0 525.8,178.8 526.3,179.5 526.8,180.3 527.3,181.1 527.8,182.0 528.3,182.8 528.8,183.7 529.3,184.6 529.7,185.4 530.2,186.3 530.7,187.1 531.2,188.0 531.7,188.8 532.2,189.6 532.7,190.3 533.2,191.1 533.6,191.7 534.1,192.4 534.6,193.0 535.1,193.6 535.6,194.2 536.1,194.7 536.6,195.2 537.1,195.6 537.5,196.0 538.0,196.4 538.5,196.7 539.0,196.9 539.5,197.2 540.0,197.4 540.5,197.5 541.0,197.6 541.5,197.7 541.9,197.7 542.4,197.7 542.9,197.6 543.4,197.5 543.9,197.4 544.4,197.2 544.9,197.0 545.4,196.7 545.8,196.4 546.3,196.1 546.8,195.7 547.3,195.3 547.8,194.9 548.3,194.5 548.8,194.0 549.3,193.5 549.7,192.9 550.2,192.4 550.7,191.8 551.2,191.2 551.7,190.6 552.2,189.9 552.7,189.3 553.2,188.6 553.6,188.0 554.1,187.3 554.6,186.6 555.1,186.0 555.6,185.3 556.1,184.7 556.6,184.1 557.1,183.5 557.6,182.9 558.0,182.3 558.5,181.8 559.0,181.3 559.5,180.8 560.0,180.4 560.5,180.0 561.0,179.6 561.5,179.4 561.9,179.1 562.4,178.9 562.9,178.8 563.4,178.7 563.9,178.6 564.4,178.7 564.9,178.7 565.4,178.9 565.8,179.0 566.3,179.3 566.8,179.5 567.3,179.9 567.8,180.2 568.3,180.6 568.8,181.1 569.3,181.5 569.7,182.0 570.2,182.6 570.7,183.1 571.2,183.7 571.7,184.3 572.2,184.9 572.7,185.5 573.2,186.1 573.7,186.8 574.1,187.4 574.6,188.0 575.1,188.6 575.6,189.2 576.1,189.8 576.6,190.3 577.1,190.9 577.6,191.4 578.0,191.9 578.5,192.4 579.0,192.8 579.5,193.2 580.0,193.6 580.5,194.0 581.0,194.3 581.5,194.6 581.9,194.9 582.4,195.1 582.9,195.3 583.4,195.5 583.9,195.6 584.4,195.7 584.9,195.7 585.4,195.8 585.8,195.8 586.3,195.7 586.8,195.6 587.3,195.5 587.8,195.3 588.3,195.1 588.8,194.9 589.3,194.7 589.7,194.4 590.2,194.1 590.7,193.7 591.2,193.3 591.7,192.9 592.2,192.5 592.7,192.0 593.2,191.6 593.7,191.1 594.1,190.6 594.6,190.0 595.1,189.5 595.6,189.0 596.1,188.4 596.6,187.8 597.1,187.3 597.6,186.7 598.0,186.2 598.5,185.6 599.0,185.1 599.5,184.6 600.0,184.0 600.5,183.6 601.0,183.1 601.5,182.7 601.9,182.3 602.4,181.9 602.9,181.6 603.4,181.3 603.9,181.0 604.4,180.8 604.9,180.6 605.4,180.5 605.8,180.4 606.3,180.4 606.8,180.4 607.3,180.4 607.8,180.5 608.3,180.6 608.8,180.8 609.3,181.0 609.8,181.3 610.2,181.6 610.7,181.9 611.2,182.3 611.7,182.6 612.2,183.0 612.7,183.5 613.2,183.9 613.7,184.4 614.1,184.9 614.6,185.3 615.1,185.8 615.6,186.3 616.1,186.8 616.6,187.3 617.1,187.8 617.6,188.3 618.0,188.8 618.5,189.3 619.0,189.7 619.5,190.2 620.0,190.6 620.5,191.0 621.0,191.4 621.5,191.7 621.9,192.1 622.4,192.4 622.9,192.7 623.4,192.9 623.9,193.2 624.4,193.4 624.9,193.6 625.4,193.8 625.9,193.9 626.3,194.0 626.8,194.1 627.3,194.1 627.8,194.1 628.3,194.1 628.8,194.1 629.3,194.0 629.8,194.0 630.2,193.8 630.7,193.7 631.2,193.5 631.7,193.3 632.2,193.1 632.7,192.9 633.2,192.6 633.7,192.3 634.1,192.0 634.6,191.7 635.1,191.4 635.6,191.0 636.1,190.7 636.6,190.3 637.1,189.9 637.6,189.5 638.0,189.0 638.5,188.6 639.0,188.2 639.5,187.8 640.0,187.3 640.5,186.9 641.0,186.5 641.5,186.1 642.0,185.7 642.4,185.3 642.9,184.9 643.4,184.5 643.9,184.2 644.4,183.8 644.9,183.5 645.4,183.2 645.9,183.0 646.3,182.7 646.8,182.5 647.3,182.3 647.8,182.2 648.3,182.1 648.8,182.0 649.3,182.0 649.8,181.9 650.2,182.0 650.7,182.0 651.2,182.1 651.7,182.2 652.2,182.3 652.7,182.5 653.2,182.7 653.7,183.0 654.1,183.2 654.6,183.5 655.1,183.8 655.6,184.1 656.1,184.5 656.6,184.8 657.1,185.2 657.6,185.6 658.0,186.0 658.5,186.4 659.0,186.8 659.5,187.2 660.0,187.6 660.5,188.0 661.0,188.4 661.5,188.8 662.0,189.2 662.4,189.6 662.9,190.0 663.4,190.3 663.9,190.7 664.4,191.0 664.9,191.3 665.4,191.6 665.9,191.9 666.3,192.1 666.8,192.3 667.3,192.5 667.8,192.7 668.3,192.9 668.8,193.0 669.3,193.1 669.8,193.2 670.2,193.3 670.7,193.3 671.2,193.3 671.7,193.3 672.2,193.3 672.7,193.2 673.2,193.1 673.7,193.0 674.1,192.9 674.6,192.7 675.1,192.5 675.6,192.3 676.1,192.1 677.0,192.1" stroke="#ff8000" stroke-width="2.0" stroke-dasharray="1.7 1.5 5.1 1.5"/>
<polyline points="402.0,264.9 402.9,264.9 403.4,264.8 403.9,264.8 404.4,264.8 404.9,264.7 405.3,264.6 405.8,264.6 406.3,264.4 406.8,264.3 407.3,264.2 407.8,264.0 408.3,263.8 408.8,263.6 409.2,263.4 409.7,263.1 410.2,262.8 410.7,262.5 411.2,262.2 411.7,261.8 412.2,261.5 412.7,261.0 413.1,260.6 413.6,260.1 414.1,259.6 414.6,259.0 415.1,258.4 415.6,257.7 416.1,257.0 416.6,256.2 417.0,255.4 417.5,254.5 418.0,253.5 418.5,252.4 419.0,251.3 419.5,250.1 420.0,248.8 420.5,247.3 421.0,245.8 421.4,244.1 421.9,242.2 422.4,240.3 422.9,238.1 423.4,235.8 423.9,233.2 424.4,230.5 424.9,227.5 425.3,224.2 425.8,220.7 426.3,216.8 426.8,212.7 427.3,208.2 427.8,203.4 428.3,198.3 428.8,192.8 429.2,186.9 429.7,180.8 430.2,174.3 430.7,167.7 431.2,160.9 431.7,154.1 432.2,147.3 432.7,140.9 433.1,134.8 433.6,129.3 434.1,124.5 434.6,120.6 435.1,117.8 435.6,116.0 436.1,115.3 436.6,115.7 437.1,117.1 437.5,119.4 438.0,122.5 438.5,126.2 439.0,130.4 439.5,135.0 440.0,139.8 440.5,144.7 441.0,149.6 441.4,154.4 441.9,159.1 442.4,163.7 442.9,168.0 443.4,172.2 443.9,176.1 444.4,179.7 444.9,183.2 445.3,186.4 445.8,189.4 446.3,192.1 446.8,194.7 447.3,197.1 447.8,199.3 448.3,201.3 448.8,203.1 449.2,204.8 449.7,206.3 450.2,207.7 450.7,208.9 451.2,210.0 451.7,211.0 452.2,211.9 452.7,212.7 453.1,213.3 453.6,213.9 454.1,214.3 454.6,214.7 455.1,215.0 455.6,215.2 456.1,215.3 456.6,215.3 457.1,215.2 457.5,215.1 458.0,214.8 458.5,214.5 459.0,214.1 459.5,213.6 460.0,213.1 460.5,212.4 461.0,211.7 461.4,210.9 461.9,210.0 462.4,209.1 462.9,208.0 463.4,206.9 463.9,205.7 464.4,204.4 464.9,203.1 465.3,201.6 465.8,200.1 466.3,198.5 466.8,196.9 467.3,195.2 467.8,193.4 468.3,191.6 468.8,189.7 469.2,187.7 469.7,185.8 470.2,183.8 470.7,181.8 471.2,179.8 471.7,177.9 472.2,175.9 472.7,174.1 473.2,172.2 473.6,170.5 474.1,168.9 474.6,167.4 475.1,166.0 475.6,164.8 476.1,163.8 476.6,162.9 477.1,162.3 477.5,161.8 478.0,161.5 478.5,161.5 479.0,161.6 479.5,162.0 480.0,162.5 480.5,163.2 481.0,164.1 481.4,165.1 481.9,166.3 482.4,167.6 482.9,168.9 483.4,170.4 483.9,172.0 484.4,173.6 484.9,175.2 485.3,176.8 485.8,178.5 486.3,180.2 486.8,181.8 487.3,183.4 487.8,185.0 488.3,186.6 488.8,188.1 489.3,189.5 489.7,190.9 490.2,192.2 490.7,193.5 491.2,194.7 491.7,195.8 492.2,196.9 492.7,197.9 493.2,198.8 493.6,199.7 494.1,200.5 494.6,201.2 495.1,201.8 495.6,202.4 496.1,202.9 496.6,203.4 497.1,203.7 497.5,204.1 498.0,204.3 498.5,204.5 499.0,204.6 499.5,204.6 500.0,204.6 500.5,204.5 501.0,204.4 501.4,204.2 501.9,203.9 502.4,203.5 502.9,203.2 503.4,202.7 503.9,202.2 504.4,201.6 504.9,201.0 505.4,200.3 505.8,199.5 506.3,198.8 506.8,197.9 507.3,197.0 507.8,196.1 508.3,195.1 508.8,194.0 509.3,193.0 509.7,191.9 510.2,190.7 510.7,189.6 511.2,188.4 511.7,187.2 512.2,186.0 512.7,184.8 513.2,183.6 513.6,182.4 514.1,181.2 514.6,180.1 515.1,179.0 515.6,177.9 516.1,176.9 516.6,176.0 517.1,175.1 517.5,174.4 518.0,173.7 518.5,173.1 519.0,172.5 519.5,172.1 520.0,171.8 520.5,171.7 521.0,171.6 521.4,171.6 521.9,171.7 522.4,172.0 522.9,172.3 523.4,172.8 523.9,173.3 524.4,173.9 524.9,174.6 525.4,175.4 525.8,176.2 526.3,177.1 526.8,178.0 527.3,179.0 527.8,180.0 528.3,181.0 528.8,182.1 529.3,183.1 529.7,184.1 530.2,185.2 530.7,186.2 531.2,187.2 531.7,188.2 532.2,189.2 532.7,190.1 533.2,191.0 533.6,191.9 534.1,192.7 534.6,193.5 535.1,194.3 535.6,195.0 536.1,195.6 536.6,196.3 537.1,196.8 537.5,197.3 538.0,197.8 538.5,198.2 539.0,198.6 539.5,198.9 540.0,199.2 540.5,199.4 541.0,199.6 541.5,199.7 541.9,199.8 542.4,199.8 542.9,199.8 543.4,199.7 543.9,199.6 544.4,199.4 544.9,199.2 545.4,198.9 545.8,198.6 546.3,198.2 546.8,197.8 547.3,197.4 547.8,196.9 548.3,196.4 548.8,195.8 549.3,195.2 549.7,194.6 550.2,193.9 550.7,193.2 551.2,192.5 551.7,191.7 552.2,190.9 552.7,190.1 553.2,189.3 553.6,188.5 554.1,187.6 554.6,186.8 555.1,186.0 555.6,185.1 556.1,184.3 556.6,183.5 557.1,182.7 557.6,181.9 558.0,181.2 558.5,180.5 559.0,179.8 559.5,179.2 560.0,178.6 560.5,178.1 561.0,177.6 561.5,177.3 561.9,176.9 562.4,176.7 562.9,176.5 563.4,176.3 563.9,176.3 564.4,176.3 564.9,176.4 565.4,176.6 565.8,176.8 566.3,177.1 566.8,177.5 567.3,177.9 567.8,178.3 568.3,178.9 568.8,179.4 569.3,180.0 569.7,180.7 570.2,181.4 570.7,182.1 571.2,182.8 571.7,183.5 572.2,184.3 572.7,185.1 573.2,185.8 573.7,186.6 574.1,187.3 574.6,188.1 575.1,188.8 575.6,189.5 576.1,190.2 576.6,190.9 577.1,191.5 577.6,192.1 578.0,192.7 578.5,193.3 579.0,193.8 579.5,194.3 580.0,194.8 580.5,195.2 581.0,195.6 581.5,195.9 581.9,196.2 582.4,196.5 582.9,196.7 583.4,196.9 583.9,197.0 584.4,197.1 584.9,197.2 585.4,197.2 585.8,197.2 586.3,197.1 586.8,197.0 587.3,196.9 587.8,196.7 588.3,196.5 588.8,196.2 589.3,196.0 589.7,195.6 590.2,195.3 590.7,194.9 591.2,194.4 591.7,194.0 592.2,193.5 592.7,193.0 593.2,192.4 593.7,191.9 594.1,191.3 594.6,190.7 595.1,190.0 595.6,189.4 596.1,188.8 596.6,188.1 597.1,187.4 597.6,186.8 598.0,186.1 598.5,185.5 599.0,184.8 599.5,184.2 600.0,183.6 600.5,183.0 601.0,182.4 601.5,181.9 601.9,181.4 602.4,180.9 602.9,180.5 603.4,180.1 603.9,179.8 604.4,179.5 604.9,179.2 605.4,179.0 605.8,178.9 606.3,178.8 606.8,178.8 607.3,178.8 607.8,178.9 608.3,179.0 608.8,179.2 609.3,179.5 609.8,179.8 610.2,180.1 610.7,180.5 611.2,180.9 611.7,181.3 612.2,181.8 612.7,182.3 613.2,182.8 613.7,183.4 614.1,183.9 614.6,184.5 615.1,185.1 615.6,185.7 616.1,186.3 616.6,186.9 617.1,187.5 617.6,188.1 618.0,188.7 618.5,189.3 619.0,189.8 619.5,190.4 620.0,190.9 620.5,191.4 621.0,191.9 621.5,192.3 621.9,192.8 622.4,193.2 622.9,193.5 623.4,193.9 623.9,194.2 624.4,194.5 624.9,194.7 625.4,194.9 625.9,195.1 626.3,195.2 626.8,195.4 627.3,195.4 627.8,195.5 628.3,195.5 628.8,195.5 629.3,195.4 629.8,195.3 630.2,195.2 630.7,195.1 631.2,194.9 631.7,194.7 632.2,194.4 632.7,194.1 633.2,193.8 633.7,193.5 634.1,193.1 634.6,192.8 635.1,192.4 635.6,191.9 636.1,191.5 636.6,191.0 637.1,190.5 637.6,190.0 638.0,189.5 638.5,189.0 639.0,188.5 639.5,187.9 640.0,187.4 640.5,186.9 641.0,186.3 641.5,185.8 642.0,185.3 642.4,184.8 642.9,184.3 643.4,183.8 643.9,183.4 644.4,182.9 644.9,182.5 645.4,182.2 645.9,181.8 646.3,181.5 646.8,181.3 647.3,181.0 647.8,180.8 648.3,180.7 648.8,180.6 649.3,180.5 649.8,180.5 650.2,180.5 650.7,180.6 651.2,180.7 651.7,180.8 652.2,181.0 652.7,181.2 653.2,181.5 653.7,181.8 654.1,182.1 654.6,182.5 655.1,182.9 655.6,183.3 656.1,183.7 656.6,184.2 657.1,184.6 657.6,185.1 658.0,185.6 658.5,186.1 659.0,186.6 659.5,187.1 660.0,187.6 660.5,188.1 661.0,188.6 661.5,189.0 662.0,189.5 662.4,190.0 662.9,190.4 663.4,190.8 663.9,191.2 664.4,191.6 664.9,192.0 665.4,192.3 665.9,192.6 666.3,192.9 666.8,193.2 667.3,193.4 667.8,193.7 668.3,193.9 668.8,194.0 669.3,194.1 669.8,194.2 670.2,194.3 670.7,194.4 671.2,194.4 671.7,194.3 672.2,194.3 672.7,194.2 673.2,194.1 673.7,194.0 674.1,193.8 674.6,193.6 675.1,193.4 675.6,193.2 676.1,192.9 677.0,192.9" stroke="#800080" stroke-width="2.0" stroke-dasharray="8.5 2"/>
</g>
<line x1="586.60" y1="25.90" x2="607.70" y2="25.90" stroke="#ff0000" stroke-width="1.9"/>
<line x1="586.60" y1="60.65" x2="607.70" y2="60.65" stroke="#000000" stroke-width="2.15" stroke-dasharray="2.4 1.25"/>
<line x1="586.60" y1="95.40" x2="607.70" y2="95.40" stroke="#0000ff" stroke-width="2.0" stroke-dasharray="5.4 1.6"/>
<line x1="586.60" y1="130.15" x2="607.70" y2="130.15" stroke="#ff8000" stroke-width="2.0" stroke-dasharray="1.7 1.5 5.1 1.5" stroke-dashoffset="6.6"/>
<line x1="586.60" y1="164.90" x2="607.70" y2="164.90" stroke="#800080" stroke-width="2.0" stroke-dasharray="8.5 2"/>
<clipPath id="cp3"><rect x="41.10" y="376.60" width="281.30" height="280.90"/></clipPath>
<path d="M42.00,656.6v-3.5M42.00,377.5v3.5M55.98,656.6v-2.5M55.98,377.5v2.5M69.95,656.6v-2.5M69.95,377.5v2.5M83.92,656.6v-2.5M83.92,377.5v2.5M97.90,656.6v-2.5M97.90,377.5v2.5M111.88,656.6v-3.5M111.88,377.5v3.5M125.85,656.6v-2.5M125.85,377.5v2.5M139.82,656.6v-2.5M139.82,377.5v2.5M153.80,656.6v-2.5M153.80,377.5v2.5M167.77,656.6v-2.5M167.77,377.5v2.5M181.75,656.6v-3.5M181.75,377.5v3.5M195.72,656.6v-2.5M195.72,377.5v2.5M209.70,656.6v-2.5M209.70,377.5v2.5M223.67,656.6v-2.5M223.67,377.5v2.5M237.65,656.6v-2.5M237.65,377.5v2.5M251.62,656.6v-3.5M251.62,377.5v3.5M265.60,656.6v-2.5M265.60,377.5v2.5M279.57,656.6v-2.5M279.57,377.5v2.5M293.55,656.6v-2.5M293.55,377.5v2.5M307.52,656.6v-2.5M307.52,377.5v2.5M321.50,656.6v-3.5M321.50,377.5v3.5M42.0,656.60h3.5M321.5,656.60h-3.5M42.0,643.91h2.5M321.5,643.91h-2.5M42.0,631.23h2.5M321.5,631.23h-2.5M42.0,618.54h2.5M321.5,618.54h-2.5M42.0,605.85h2.5M321.5,605.85h-2.5M42.0,593.17h3.5M321.5,593.17h-3.5M42.0,580.48h2.5M321.5,580.48h-2.5M42.0,567.80h2.5M321.5,567.80h-2.5M42.0,555.11h2.5M321.5,555.11h-2.5M42.0,542.42h2.5M321.5,542.42h-2.5M42.0,529.74h3.5M321.5,529.74h-3.5M42.0,517.05h2.5M321.5,517.05h-2.5M42.0,504.36h2.5M321.5,504.36h-2.5M42.0,491.68h2.5M321.5,491.68h-2.5M42.0,478.99h2.5M321.5,478.99h-2.5M42.0,466.30h3.5M321.5,466.30h-3.5M42.0,453.62h2.5M321.5,453.62h-2.5M42.0,440.93h2.5M321.5,440.93h-2.5M42.0,428.25h2.5M321.5,428.25h-2.5M42.0,415.56h2.5M321.5,415.56h-2.5M42.0,402.87h3.5M321.5,402.87h-3.5M42.0,390.19h2.5M321.5,390.19h-2.5M42.0,377.50h2.5M321.5,377.50h-2.5" stroke="#222222" stroke-width="1" fill="none"/>
<rect x="42.0" y="377.5" width="279.50" height="279.10" fill="none" stroke="#222222" stroke-width="1.2"/>
<g clip-path="url(#cp3)" fill="none" stroke-linejoin="round">
<polyline points="41.1,653.1 42.0,653.1 42.5,653.1 43.0,653.1 43.5,653.1 44.0,653.1 44.5,653.1 45.0,653.1 45.5,653.1 46.0,653.1 46.5,653.0 47.0,653.0 47.5,653.0 48.0,652.9 48.5,652.9 49.0,652.9 49.5,652.8 50.0,652.8 50.5,652.7 51.0,652.7 51.5,652.6 52.0,652.5 52.5,652.5 53.0,652.4 53.5,652.3 54.0,652.2 54.5,652.1 55.0,652.0 55.5,651.9 56.0,651.8 56.5,651.7 57.0,651.5 57.5,651.4 58.0,651.2 58.5,651.0 59.0,650.8 59.5,650.6 60.0,650.4 60.5,650.2 61.0,649.9 61.5,649.6 62.0,649.3 62.5,649.0 63.0,648.6 63.5,648.2 64.0,647.7 64.5,647.2 65.0,646.7 65.5,646.1 66.0,645.4 66.5,644.6 67.0,643.8 67.5,642.9 68.0,641.8 68.5,640.6 69.0,639.3 69.5,637.7 70.0,636.0 70.4,633.9 70.9,631.6 71.4,628.9 71.9,625.7 72.4,621.9 72.9,617.5 73.4,612.2 73.9,605.9 74.4,598.2 74.9,588.9 75.4,577.6 75.9,563.7 76.4,546.8 76.9,526.5 77.4,502.4 77.9,475.0 78.4,445.9 78.9,418.4 79.4,397.4 79.9,387.5 80.4,391.1 80.9,406.6 81.4,429.8 81.9,455.9 82.4,481.5 82.9,504.8 83.4,524.9 83.9,542.0 84.4,556.3 84.9,568.2 85.4,578.1 85.9,586.4 86.4,593.4 86.9,599.3 87.4,604.3 87.9,608.5 88.4,612.2 88.9,615.3 89.4,618.0 89.9,620.4 90.4,622.5 90.9,624.3 91.4,625.8 91.9,627.2 92.4,628.4 92.9,629.5 93.4,630.4 93.9,631.2 94.4,631.9 94.9,632.5 95.4,633.0 95.9,633.5 96.4,633.9 96.9,634.2 97.4,634.4 97.9,634.6 98.4,634.7 98.9,634.8 99.4,634.8 99.9,634.7 100.4,634.6 100.9,634.4 101.4,634.2 101.9,633.9 102.4,633.6 102.9,633.2 103.4,632.8 103.9,632.2 104.4,631.6 104.9,631.0 105.4,630.2 105.9,629.4 106.4,628.4 106.9,627.4 107.4,626.2 107.9,624.9 108.4,623.5 108.9,622.0 109.4,620.2 109.9,618.3 110.4,616.2 110.9,613.8 111.4,611.3 111.9,608.4 112.4,605.2 112.9,601.7 113.4,597.9 113.9,593.7 114.4,589.1 114.9,584.1 115.4,578.6 115.9,572.7 116.4,566.5 116.9,559.9 117.4,553.2 117.9,546.3 118.4,539.6 118.9,533.2 119.4,527.5 119.9,522.6 120.4,518.9 120.9,516.6 121.4,515.8 121.9,516.5 122.4,518.6 122.9,522.0 123.4,526.4 123.9,531.7 124.4,537.4 124.9,543.4 125.4,549.5 125.9,555.6 126.3,561.4 126.8,566.9 127.3,572.2 127.8,577.0 128.3,581.6 128.8,585.7 129.3,589.6 129.8,593.1 130.3,596.2 130.8,599.2 131.3,601.8 131.8,604.2 132.3,606.4 132.8,608.4 133.3,610.2 133.8,611.8 134.3,613.3 134.8,614.6 135.3,615.8 135.8,616.9 136.3,617.8 136.8,618.7 137.3,619.4 137.8,620.1 138.3,620.7 138.8,621.2 139.3,621.6 139.8,622.0 140.3,622.2 140.8,622.4 141.3,622.6 141.8,622.7 142.3,622.7 142.8,622.6 143.3,622.5 143.8,622.3 144.3,622.1 144.8,621.8 145.3,621.4 145.8,621.0 146.3,620.5 146.8,619.9 147.3,619.2 147.8,618.5 148.3,617.7 148.8,616.8 149.3,615.8 149.8,614.8 150.3,613.6 150.8,612.3 151.3,610.9 151.8,609.4 152.3,607.8 152.8,606.1 153.3,604.2 153.8,602.2 154.3,600.1 154.8,597.8 155.3,595.4 155.8,592.8 156.3,590.1 156.8,587.3 157.3,584.3 157.8,581.3 158.3,578.1 158.8,574.9 159.3,571.7 159.8,568.6 160.3,565.4 160.8,562.5 161.3,559.7 161.8,557.1 162.3,554.9 162.8,553.0 163.3,551.6 163.8,550.7 164.3,550.2 164.8,550.2 165.3,550.8 165.8,551.8 166.3,553.2 166.8,555.1 167.3,557.3 167.8,559.7 168.3,562.4 168.8,565.2 169.3,568.1 169.8,571.1 170.3,574.0 170.8,577.0 171.3,579.9 171.8,582.6 172.3,585.3 172.8,587.9 173.3,590.4 173.8,592.7 174.3,594.9 174.8,596.9 175.3,598.8 175.8,600.6 176.3,602.3 176.8,603.9 177.3,605.3 177.8,606.6 178.3,607.9 178.8,609.0 179.3,610.0 179.8,610.9 180.3,611.8 180.8,612.5 181.3,613.2 181.8,613.8 182.2,614.3 182.7,614.8 183.2,615.2 183.7,615.5 184.2,615.7 184.7,615.9 185.2,616.0 185.7,616.1 186.2,616.1 186.7,616.0 187.2,615.8 187.7,615.6 188.2,615.4 188.7,615.1 189.2,614.7 189.7,614.2 190.2,613.7 190.7,613.1 191.2,612.4 191.7,611.7 192.2,610.9 192.7,610.0 193.2,609.0 193.7,608.0 194.2,606.8 194.7,605.6 195.2,604.3 195.7,602.9 196.2,601.4 196.7,599.9 197.2,598.2 197.7,596.5 198.2,594.6 198.7,592.7 199.2,590.7 199.7,588.7 200.2,586.6 200.7,584.4 201.2,582.3 201.7,580.1 202.2,577.9 202.7,575.8 203.2,573.7 203.7,571.8 204.2,569.9 204.7,568.2 205.2,566.8 205.7,565.5 206.2,564.4 206.7,563.6 207.2,563.1 207.7,562.9 208.2,563.0 208.7,563.3 209.2,564.0 209.7,564.9 210.2,566.0 210.7,567.3 211.2,568.8 211.7,570.5 212.2,572.3 212.7,574.2 213.2,576.1 213.7,578.1 214.2,580.1 214.7,582.2 215.2,584.1 215.7,586.1 216.2,588.0 216.7,589.8 217.2,591.6 217.7,593.3 218.2,594.9 218.7,596.5 219.2,598.0 219.7,599.3 220.2,600.6 220.7,601.9 221.2,603.0 221.7,604.1 222.2,605.0 222.7,605.9 223.2,606.8 223.7,607.5 224.2,608.2 224.7,608.8 225.2,609.4 225.7,609.9 226.2,610.3 226.7,610.6 227.2,610.9 227.7,611.2 228.2,611.4 228.7,611.5 229.2,611.5 229.7,611.5 230.2,611.5 230.7,611.4 231.2,611.2 231.7,611.0 232.2,610.7 232.7,610.4 233.2,610.0 233.7,609.5 234.2,609.0 234.7,608.4 235.2,607.8 235.7,607.1 236.2,606.3 236.7,605.5 237.2,604.6 237.7,603.7 238.1,602.7 238.6,601.6 239.1,600.4 239.6,599.2 240.1,598.0 240.6,596.7 241.1,595.3 241.6,593.8 242.1,592.4 242.6,590.9 243.1,589.3 243.6,587.7 244.1,586.2 244.6,584.6 245.1,583.0 245.6,581.4 246.1,579.9 246.6,578.4 247.1,577.0 247.6,575.7 248.1,574.5 248.6,573.5 249.1,572.5 249.6,571.8 250.1,571.2 250.6,570.7 251.1,570.5 251.6,570.4 252.1,570.5 252.6,570.8 253.1,571.3 253.6,572.0 254.1,572.8 254.6,573.7 255.1,574.8 255.6,576.0 256.1,577.3 256.6,578.6 257.1,580.0 257.6,581.5 258.1,583.0 258.6,584.5 259.1,586.0 259.6,587.5 260.1,588.9 260.6,590.4 261.1,591.8 261.6,593.1 262.1,594.5 262.6,595.7 263.1,596.9 263.6,598.1 264.1,599.2 264.6,600.2 265.1,601.2 265.6,602.1 266.1,602.9 266.6,603.7 267.1,604.4 267.6,605.1 268.1,605.7 268.6,606.3 269.1,606.8 269.6,607.2 270.1,607.6 270.6,607.9 271.1,608.2 271.6,608.4 272.1,608.5 272.6,608.6 273.1,608.7 273.6,608.7 274.1,608.6 274.6,608.5 275.1,608.3 275.6,608.1 276.1,607.8 276.6,607.5 277.1,607.1 277.6,606.7 278.1,606.2 278.6,605.7 279.1,605.1 279.6,604.5 280.1,603.8 280.6,603.0 281.1,602.2 281.6,601.3 282.1,600.4 282.6,599.5 283.1,598.4 283.6,597.4 284.1,596.3 284.6,595.1 285.1,593.9 285.6,592.7 286.1,591.5 286.6,590.2 287.1,588.9 287.6,587.6 288.1,586.3 288.6,585.0 289.1,583.8 289.6,582.6 290.1,581.4 290.6,580.3 291.1,579.2 291.6,578.2 292.1,577.4 292.6,576.6 293.1,575.9 293.6,575.4 294.0,575.0 294.5,574.8 295.0,574.6 295.5,574.7 296.0,574.8 296.5,575.1 297.0,575.6 297.5,576.1 298.0,576.8 298.5,577.6 299.0,578.5 299.5,579.4 300.0,580.5 300.5,581.5 301.0,582.7 301.5,583.9 302.0,585.1 302.5,586.3 303.0,587.5 303.5,588.7 304.0,589.9 304.5,591.1 305.0,592.2 305.5,593.4 306.0,594.5 306.5,595.5 307.0,596.5 307.5,597.5 308.0,598.4 308.5,599.3 309.0,600.1 309.5,600.9 310.0,601.6 310.5,602.3 311.0,602.9 311.5,603.5 312.0,604.0 312.5,604.5 313.0,604.9 313.5,605.2 314.0,605.6 314.5,605.8 315.0,606.0 315.5,606.2 316.0,606.3 316.5,606.4 317.0,606.4 317.5,606.4 318.0,606.3 318.5,606.2 319.0,606.0 319.5,605.8 320.0,605.6 320.5,605.3 321.0,604.9 321.5,604.5 322.4,604.5" stroke="#ff0000" stroke-width="1.9"/>
<polyline points="41.1,648.3 42.0,648.3 42.5,648.3 43.0,648.3 43.5,648.2 44.0,648.2 44.5,648.2 45.0,648.2 45.5,648.2 46.0,648.1 46.5,648.1 47.0,648.1 47.5,648.0 48.0,648.0 48.5,647.9 49.0,647.8 49.5,647.8 50.0,647.7 50.5,647.6 51.0,647.5 51.5,647.4 52.0,647.3 52.5,647.2 53.0,647.0 53.5,646.9 54.0,646.7 54.5,646.6 55.0,646.4 55.5,646.2 56.0,646.0 56.5,645.7 57.0,645.5 57.5,645.2 58.0,644.9 58.5,644.6 59.0,644.3 59.5,643.9 60.0,643.5 60.5,643.1 61.0,642.6 61.5,642.1 62.0,641.5 62.5,640.9 63.0,640.2 63.5,639.4 64.0,638.6 64.5,637.7 65.0,636.8 65.5,635.7 66.0,634.5 66.5,633.2 67.0,631.7 67.5,630.0 68.0,628.2 68.5,626.2 69.0,623.9 69.5,621.3 70.0,618.4 70.4,615.2 70.9,611.5 71.4,607.3 71.9,602.5 72.4,597.2 72.9,591.1 73.4,584.2 73.9,576.4 74.4,567.7 74.9,558.0 75.4,547.5 75.9,536.2 76.4,524.5 76.9,513.0 77.4,502.1 77.9,492.8 78.4,485.9 78.9,481.9 79.4,481.4 79.9,484.3 80.4,490.0 80.9,498.1 81.4,507.6 81.9,517.8 82.4,528.2 82.9,538.3 83.4,547.8 83.9,556.6 84.4,564.6 84.9,571.9 85.4,578.3 85.9,584.1 86.4,589.2 86.9,593.8 87.4,597.8 87.9,601.4 88.4,604.6 88.9,607.5 89.4,610.0 89.9,612.2 90.4,614.2 90.9,616.0 91.4,617.6 91.9,619.0 92.4,620.3 92.9,621.4 93.4,622.4 93.9,623.2 94.4,624.0 94.9,624.6 95.4,625.2 95.9,625.6 96.4,626.0 96.9,626.3 97.4,626.6 97.9,626.7 98.4,626.8 98.9,626.8 99.4,626.8 99.9,626.7 100.4,626.5 100.9,626.3 101.4,625.9 101.9,625.6 102.4,625.1 102.9,624.6 103.4,624.0 103.9,623.3 104.4,622.5 104.9,621.7 105.4,620.7 105.9,619.7 106.4,618.5 106.9,617.2 107.4,615.9 107.9,614.3 108.4,612.7 108.9,610.9 109.4,609.0 109.9,606.9 110.4,604.6 110.9,602.2 111.4,599.5 111.9,596.7 112.4,593.7 112.9,590.6 113.4,587.2 113.9,583.7 114.4,580.1 114.9,576.3 115.4,572.5 115.9,568.6 116.4,564.8 116.9,561.2 117.4,557.7 117.9,554.5 118.4,551.7 118.9,549.3 119.4,547.5 119.9,546.2 120.4,545.6 120.9,545.6 121.4,546.3 121.9,547.5 122.4,549.2 122.9,551.4 123.4,554.0 123.9,556.9 124.4,559.9 124.9,563.2 125.4,566.4 125.9,569.8 126.3,573.0 126.8,576.2 127.3,579.3 127.8,582.3 128.3,585.1 128.8,587.8 129.3,590.3 129.8,592.7 130.3,594.9 130.8,597.0 131.3,598.9 131.8,600.7 132.3,602.4 132.8,603.9 133.3,605.3 133.8,606.6 134.3,607.8 134.8,608.9 135.3,609.8 135.8,610.7 136.3,611.5 136.8,612.2 137.3,612.9 137.8,613.4 138.3,613.9 138.8,614.3 139.3,614.6 139.8,614.9 140.3,615.1 140.8,615.2 141.3,615.3 141.8,615.3 142.3,615.3 142.8,615.2 143.3,615.0 143.8,614.8 144.3,614.5 144.8,614.1 145.3,613.7 145.8,613.3 146.3,612.7 146.8,612.1 147.3,611.4 147.8,610.7 148.3,609.9 148.8,609.0 149.3,608.1 149.8,607.1 150.3,606.0 150.8,604.8 151.3,603.6 151.8,602.2 152.3,600.8 152.8,599.4 153.3,597.8 153.8,596.2 154.3,594.5 154.8,592.8 155.3,591.0 155.8,589.1 156.3,587.2 156.8,585.3 157.3,583.4 157.8,581.5 158.3,579.5 158.8,577.7 159.3,575.9 159.8,574.1 160.3,572.5 160.8,571.1 161.3,569.7 161.8,568.6 162.3,567.7 162.8,566.9 163.3,566.4 163.8,566.2 164.3,566.2 164.8,566.4 165.3,566.8 165.8,567.5 166.3,568.4 166.8,569.5 167.3,570.7 167.8,572.1 168.3,573.6 168.8,575.2 169.3,576.9 169.8,578.6 170.3,580.4 170.8,582.2 171.3,583.9 171.8,585.7 172.3,587.4 172.8,589.1 173.3,590.8 173.8,592.3 174.3,593.9 174.8,595.3 175.3,596.7 175.8,598.0 176.3,599.3 176.8,600.4 177.3,601.5 177.8,602.6 178.3,603.5 178.8,604.4 179.3,605.2 179.8,606.0 180.3,606.7 180.8,607.3 181.3,607.8 181.8,608.3 182.2,608.7 182.7,609.1 183.2,609.4 183.7,609.7 184.2,609.8 184.7,610.0 185.2,610.0 185.7,610.1 186.2,610.0 186.7,609.9 187.2,609.8 187.7,609.6 188.2,609.3 188.7,609.0 189.2,608.6 189.7,608.1 190.2,607.7 190.7,607.1 191.2,606.5 191.7,605.8 192.2,605.1 192.7,604.3 193.2,603.5 193.7,602.6 194.2,601.6 194.7,600.6 195.2,599.5 195.7,598.4 196.2,597.2 196.7,596.0 197.2,594.7 197.7,593.4 198.2,592.1 198.7,590.7 199.2,589.3 199.7,587.9 200.2,586.5 200.7,585.1 201.2,583.7 201.7,582.4 202.2,581.1 202.7,579.9 203.2,578.7 203.7,577.6 204.2,576.7 204.7,575.8 205.2,575.1 205.7,574.5 206.2,574.0 206.7,573.7 207.2,573.6 207.7,573.6 208.2,573.8 208.7,574.1 209.2,574.5 209.7,575.1 210.2,575.8 210.7,576.7 211.2,577.6 211.7,578.6 212.2,579.7 212.7,580.8 213.2,582.0 213.7,583.3 214.2,584.5 214.7,585.8 215.2,587.1 215.7,588.3 216.2,589.6 216.7,590.8 217.2,592.0 217.7,593.2 218.2,594.3 218.7,595.4 219.2,596.4 219.7,597.4 220.2,598.3 220.7,599.2 221.2,600.1 221.7,600.8 222.2,601.6 222.7,602.3 223.2,602.9 223.7,603.5 224.2,604.0 224.7,604.4 225.2,604.9 225.7,605.2 226.2,605.5 226.7,605.8 227.2,606.0 227.7,606.2 228.2,606.3 228.7,606.4 229.2,606.4 229.7,606.4 230.2,606.3 230.7,606.2 231.2,606.0 231.7,605.8 232.2,605.5 232.7,605.2 233.2,604.9 233.7,604.5 234.2,604.0 234.7,603.5 235.2,603.0 235.7,602.4 236.2,601.8 236.7,601.1 237.2,600.4 237.7,599.7 238.1,598.9 238.6,598.0 239.1,597.2 239.6,596.3 240.1,595.3 240.6,594.4 241.1,593.4 241.6,592.4 242.1,591.4 242.6,590.3 243.1,589.3 243.6,588.3 244.1,587.2 244.6,586.2 245.1,585.3 245.6,584.3 246.1,583.4 246.6,582.6 247.1,581.8 247.6,581.0 248.1,580.4 248.6,579.8 249.1,579.3 249.6,578.9 250.1,578.6 250.6,578.5 251.1,578.4 251.6,578.4 252.1,578.5 252.6,578.7 253.1,579.0 253.6,579.5 254.1,580.0 254.6,580.5 255.1,581.2 255.6,581.9 256.1,582.7 256.6,583.5 257.1,584.4 257.6,585.3 258.1,586.3 258.6,587.2 259.1,588.2 259.6,589.2 260.1,590.1 260.6,591.1 261.1,592.0 261.6,593.0 262.1,593.9 262.6,594.8 263.1,595.6 263.6,596.4 264.1,597.2 264.6,598.0 265.1,598.7 265.6,599.4 266.1,600.0 266.6,600.6 267.1,601.1 267.6,601.6 268.1,602.1 268.6,602.5 269.1,602.9 269.6,603.2 270.1,603.5 270.6,603.7 271.1,603.9 271.6,604.1 272.1,604.2 272.6,604.3 273.1,604.3 273.6,604.3 274.1,604.2 274.6,604.1 275.1,604.0 275.6,603.8 276.1,603.5 276.6,603.2 277.1,602.9 277.6,602.6 278.1,602.2 278.6,601.7 279.1,601.2 279.6,600.7 280.1,600.2 280.6,599.6 281.1,598.9 281.6,598.3 282.1,597.6 282.6,596.8 283.1,596.1 283.6,595.3 284.1,594.5 284.6,593.7 285.1,592.8 285.6,592.0 286.1,591.1 286.6,590.2 287.1,589.4 287.6,588.5 288.1,587.7 288.6,586.9 289.1,586.1 289.6,585.3 290.1,584.6 290.6,584.0 291.1,583.3 291.6,582.8 292.1,582.3 292.6,581.9 293.1,581.5 293.6,581.3 294.0,581.1 294.5,581.0 295.0,580.9 295.5,581.0 296.0,581.1 296.5,581.4 297.0,581.7 297.5,582.0 298.0,582.5 298.5,583.0 299.0,583.5 299.5,584.1 300.0,584.8 300.5,585.5 301.0,586.2 301.5,586.9 302.0,587.7 302.5,588.5 303.0,589.3 303.5,590.1 304.0,590.9 304.5,591.7 305.0,592.5 305.5,593.3 306.0,594.0 306.5,594.7 307.0,595.4 307.5,596.1 308.0,596.8 308.5,597.4 309.0,598.0 309.5,598.6 310.0,599.1 310.5,599.6 311.0,600.0 311.5,600.4 312.0,600.8 312.5,601.2 313.0,601.5 313.5,601.7 314.0,602.0 314.5,602.2 315.0,602.3 315.5,602.4 316.0,602.5 316.5,602.6 317.0,602.6 317.5,602.5 318.0,602.5 318.5,602.3 319.0,602.2 319.5,602.0 320.0,601.8 320.5,601.5 321.0,601.2 321.5,600.9 322.4,600.9" stroke="#000000" stroke-width="2.15" stroke-dasharray="2.4 1.25"/>
<polyline points="41.1,634.7 42.0,634.7 42.5,634.7 43.0,634.7 43.5,634.7 44.0,634.7 44.5,634.7 45.0,634.7 45.5,634.7 46.0,634.6 46.5,634.6 47.0,634.6 47.5,634.6 48.0,634.5 48.5,634.5 49.0,634.4 49.5,634.4 50.0,634.3 50.5,634.2 51.0,634.1 51.5,634.0 52.0,633.9 52.5,633.8 53.0,633.6 53.5,633.5 54.0,633.3 54.5,633.1 55.0,632.8 55.5,632.5 56.0,632.3 56.5,631.9 57.0,631.6 57.5,631.2 58.0,630.8 58.5,630.3 59.0,629.8 59.5,629.3 60.0,628.7 60.5,628.0 61.0,627.3 61.5,626.5 62.0,625.7 62.5,624.8 63.0,623.8 63.5,622.7 64.0,621.6 64.5,620.3 65.0,619.0 65.5,617.5 66.0,615.9 66.5,614.2 67.0,612.3 67.5,610.3 68.0,608.1 68.5,605.7 69.0,603.2 69.5,600.5 70.0,597.6 70.4,594.5 70.9,591.2 71.4,587.7 71.9,584.0 72.4,580.2 72.9,576.2 73.4,572.2 73.9,568.1 74.4,564.1 74.9,560.2 75.4,556.5 75.9,553.1 76.4,550.1 76.9,547.6 77.4,545.7 77.9,544.5 78.4,544.0 78.9,544.1 79.4,545.0 79.9,546.5 80.4,548.6 80.9,551.1 81.4,554.0 81.9,557.3 82.4,560.7 82.9,564.2 83.4,567.8 83.9,571.3 84.4,574.8 84.9,578.2 85.4,581.4 85.9,584.5 86.4,587.4 86.9,590.1 87.4,592.7 87.9,595.1 88.4,597.3 88.9,599.3 89.4,601.2 89.9,603.0 90.4,604.6 90.9,606.0 91.4,607.3 91.9,608.5 92.4,609.6 92.9,610.6 93.4,611.5 93.9,612.3 94.4,613.0 94.9,613.6 95.4,614.1 95.9,614.5 96.4,614.8 96.9,615.1 97.4,615.3 97.9,615.4 98.4,615.5 98.9,615.5 99.4,615.4 99.9,615.2 100.4,615.0 100.9,614.7 101.4,614.4 101.9,613.9 102.4,613.4 102.9,612.9 103.4,612.2 103.9,611.5 104.4,610.7 104.9,609.9 105.4,608.9 105.9,607.9 106.4,606.8 106.9,605.7 107.4,604.4 107.9,603.1 108.4,601.7 108.9,600.2 109.4,598.7 109.9,597.1 110.4,595.4 110.9,593.7 111.4,591.9 111.9,590.1 112.4,588.2 112.9,586.3 113.4,584.5 113.9,582.6 114.4,580.8 114.9,579.1 115.4,577.5 115.9,575.9 116.4,574.5 116.9,573.2 117.4,572.1 117.9,571.1 118.4,570.4 118.9,569.8 119.4,569.5 119.9,569.4 120.4,569.5 120.9,569.8 121.4,570.4 121.9,571.1 122.4,571.9 122.9,572.9 123.4,574.1 123.9,575.3 124.4,576.6 124.9,578.1 125.4,579.5 125.9,581.0 126.3,582.5 126.8,584.0 127.3,585.5 127.8,587.0 128.3,588.4 128.8,589.8 129.3,591.2 129.8,592.5 130.3,593.7 130.8,594.9 131.3,596.1 131.8,597.2 132.3,598.2 132.8,599.1 133.3,600.0 133.8,600.9 134.3,601.6 134.8,602.3 135.3,603.0 135.8,603.6 136.3,604.1 136.8,604.6 137.3,605.0 137.8,605.4 138.3,605.7 138.8,606.0 139.3,606.2 139.8,606.4 140.3,606.5 140.8,606.6 141.3,606.6 141.8,606.6 142.3,606.5 142.8,606.4 143.3,606.2 143.8,606.0 144.3,605.7 144.8,605.4 145.3,605.1 145.8,604.7 146.3,604.2 146.8,603.8 147.3,603.2 147.8,602.7 148.3,602.1 148.8,601.4 149.3,600.7 149.8,600.0 150.3,599.2 150.8,598.4 151.3,597.6 151.8,596.7 152.3,595.8 152.8,594.9 153.3,594.0 153.8,593.0 154.3,592.1 154.8,591.1 155.3,590.1 155.8,589.1 156.3,588.2 156.8,587.2 157.3,586.3 157.8,585.4 158.3,584.5 158.8,583.7 159.3,582.9 159.8,582.2 160.3,581.6 160.8,581.0 161.3,580.5 161.8,580.1 162.3,579.8 162.8,579.6 163.3,579.4 163.8,579.4 164.3,579.5 164.8,579.6 165.3,579.8 165.8,580.2 166.3,580.6 166.8,581.1 167.3,581.6 167.8,582.2 168.3,582.9 168.8,583.7 169.3,584.4 169.8,585.3 170.3,586.1 170.8,587.0 171.3,587.9 171.8,588.7 172.3,589.6 172.8,590.5 173.3,591.4 173.8,592.3 174.3,593.1 174.8,594.0 175.3,594.8 175.8,595.6 176.3,596.3 176.8,597.0 177.3,597.7 177.8,598.4 178.3,599.0 178.8,599.5 179.3,600.1 179.8,600.6 180.3,601.0 180.8,601.4 181.3,601.8 181.8,602.1 182.2,602.4 182.7,602.7 183.2,602.9 183.7,603.0 184.2,603.1 184.7,603.2 185.2,603.3 185.7,603.3 186.2,603.2 186.7,603.1 187.2,603.0 187.7,602.8 188.2,602.6 188.7,602.4 189.2,602.1 189.7,601.8 190.2,601.4 190.7,601.0 191.2,600.5 191.7,600.1 192.2,599.6 192.7,599.0 193.2,598.5 193.7,597.8 194.2,597.2 194.7,596.6 195.2,595.9 195.7,595.2 196.2,594.5 196.7,593.7 197.2,593.0 197.7,592.2 198.2,591.5 198.7,590.7 199.2,590.0 199.7,589.2 200.2,588.5 200.7,587.8 201.2,587.2 201.7,586.5 202.2,585.9 202.7,585.3 203.2,584.8 203.7,584.4 204.2,584.0 204.7,583.6 205.2,583.3 205.7,583.1 206.2,583.0 206.7,582.9 207.2,582.9 207.7,582.9 208.2,583.0 208.7,583.2 209.2,583.5 209.7,583.8 210.2,584.1 210.7,584.5 211.2,585.0 211.7,585.5 212.2,586.0 212.7,586.6 213.2,587.2 213.7,587.8 214.2,588.5 214.7,589.1 215.2,589.8 215.7,590.4 216.2,591.1 216.7,591.8 217.2,592.4 217.7,593.1 218.2,593.7 218.7,594.3 219.2,594.9 219.7,595.5 220.2,596.0 220.7,596.5 221.2,597.0 221.7,597.5 222.2,598.0 222.7,598.4 223.2,598.8 223.7,599.1 224.2,599.4 224.7,599.7 225.2,600.0 225.7,600.2 226.2,600.4 226.7,600.6 227.2,600.7 227.7,600.8 228.2,600.8 228.7,600.9 229.2,600.9 229.7,600.8 230.2,600.8 230.7,600.7 231.2,600.5 231.7,600.4 232.2,600.2 232.7,600.0 233.2,599.7 233.7,599.5 234.2,599.1 234.7,598.8 235.2,598.5 235.7,598.1 236.2,597.7 236.7,597.2 237.2,596.8 237.7,596.3 238.1,595.8 238.6,595.3 239.1,594.8 239.6,594.3 240.1,593.8 240.6,593.2 241.1,592.7 241.6,592.1 242.1,591.6 242.6,591.0 243.1,590.5 243.6,589.9 244.1,589.4 244.6,588.9 245.1,588.5 245.6,588.0 246.1,587.6 246.6,587.2 247.1,586.8 247.6,586.5 248.1,586.2 248.6,585.9 249.1,585.7 249.6,585.6 250.1,585.5 250.6,585.4 251.1,585.4 251.6,585.4 252.1,585.5 252.6,585.6 253.1,585.7 253.6,585.9 254.1,586.2 254.6,586.5 255.1,586.8 255.6,587.2 256.1,587.5 256.6,588.0 257.1,588.4 257.6,588.9 258.1,589.3 258.6,589.8 259.1,590.3 259.6,590.8 260.1,591.4 260.6,591.9 261.1,592.4 261.6,592.9 262.1,593.4 262.6,593.9 263.1,594.4 263.6,594.9 264.1,595.3 264.6,595.8 265.1,596.2 265.6,596.6 266.1,597.0 266.6,597.3 267.1,597.7 267.6,598.0 268.1,598.3 268.6,598.5 269.1,598.8 269.6,599.0 270.1,599.2 270.6,599.3 271.1,599.4 271.6,599.5 272.1,599.6 272.6,599.6 273.1,599.6 273.6,599.6 274.1,599.6 274.6,599.5 275.1,599.4 275.6,599.2 276.1,599.1 276.6,598.9 277.1,598.7 277.6,598.4 278.1,598.2 278.6,597.9 279.1,597.6 279.6,597.2 280.1,596.9 280.6,596.5 281.1,596.1 281.6,595.7 282.1,595.3 282.6,594.8 283.1,594.4 283.6,593.9 284.1,593.5 284.6,593.0 285.1,592.5 285.6,592.1 286.1,591.6 286.6,591.1 287.1,590.7 287.6,590.2 288.1,589.8 288.6,589.4 289.1,589.0 289.6,588.6 290.1,588.3 290.6,587.9 291.1,587.7 291.6,587.4 292.1,587.2 292.6,587.0 293.1,586.8 293.6,586.7 294.0,586.7 294.5,586.6 295.0,586.6 295.5,586.7 296.0,586.8 296.5,586.9 297.0,587.0 297.5,587.2 298.0,587.5 298.5,587.7 299.0,588.0 299.5,588.3 300.0,588.7 300.5,589.0 301.0,589.4 301.5,589.8 302.0,590.2 302.5,590.6 303.0,591.0 303.5,591.4 304.0,591.9 304.5,592.3 305.0,592.7 305.5,593.2 306.0,593.6 306.5,594.0 307.0,594.4 307.5,594.8 308.0,595.2 308.5,595.5 309.0,595.9 309.5,596.2 310.0,596.5 310.5,596.8 311.0,597.1 311.5,597.3 312.0,597.5 312.5,597.8 313.0,597.9 313.5,598.1 314.0,598.2 314.5,598.3 315.0,598.4 315.5,598.5 316.0,598.5 316.5,598.6 317.0,598.5 317.5,598.5 318.0,598.5 318.5,598.4 319.0,598.3 319.5,598.2 320.0,598.0 320.5,597.8 321.0,597.7 321.5,597.4 322.4,597.4" stroke="#0000ff" stroke-width="2.0" stroke-dasharray="5.4 1.6"/>
<polyline points="41.1,618.5 42.0,618.5 42.5,618.5 43.0,618.5 43.5,618.5 44.0,618.5 44.5,618.5 45.0,618.6 45.5,618.6 46.0,618.6 46.5,618.7 47.0,618.7 47.5,618.7 48.0,618.8 48.5,618.8 49.0,618.8 49.5,618.8 50.0,618.8 50.5,618.8 51.0,618.8 51.5,618.7 52.0,618.7 52.5,618.6 53.0,618.5 53.5,618.4 54.0,618.3 54.5,618.1 55.0,617.9 55.5,617.7 56.0,617.5 56.5,617.2 57.0,616.9 57.5,616.5 58.0,616.1 58.5,615.7 59.0,615.3 59.5,614.7 60.0,614.2 60.5,613.6 61.0,612.9 61.5,612.2 62.0,611.5 62.5,610.6 63.0,609.8 63.5,608.8 64.0,607.8 64.5,606.8 65.0,605.7 65.5,604.5 66.0,603.2 66.5,601.9 67.0,600.5 67.5,599.1 68.0,597.6 68.5,596.0 69.0,594.4 69.5,592.8 70.0,591.1 70.4,589.4 70.9,587.6 71.4,585.9 71.9,584.1 72.4,582.4 72.9,580.8 73.4,579.2 73.9,577.6 74.4,576.2 74.9,574.9 75.4,573.8 75.9,572.8 76.4,572.0 76.9,571.3 77.4,570.9 77.9,570.7 78.4,570.7 78.9,570.9 79.4,571.3 79.9,571.9 80.4,572.6 80.9,573.6 81.4,574.6 81.9,575.8 82.4,577.1 82.9,578.4 83.4,579.9 83.9,581.3 84.4,582.8 84.9,584.3 85.4,585.8 85.9,587.3 86.4,588.8 86.9,590.2 87.4,591.6 87.9,592.9 88.4,594.1 88.9,595.4 89.4,596.5 89.9,597.6 90.4,598.6 90.9,599.6 91.4,600.5 91.9,601.3 92.4,602.0 92.9,602.7 93.4,603.4 93.9,603.9 94.4,604.4 94.9,604.9 95.4,605.2 95.9,605.5 96.4,605.8 96.9,606.0 97.4,606.1 97.9,606.2 98.4,606.2 98.9,606.2 99.4,606.1 99.9,606.0 100.4,605.8 100.9,605.6 101.4,605.3 101.9,604.9 102.4,604.6 102.9,604.1 103.4,603.6 103.9,603.1 104.4,602.5 104.9,601.9 105.4,601.2 105.9,600.5 106.4,599.8 106.9,599.0 107.4,598.2 107.9,597.3 108.4,596.4 108.9,595.5 109.4,594.6 109.9,593.7 110.4,592.8 110.9,591.8 111.4,590.9 111.9,589.9 112.4,589.0 112.9,588.1 113.4,587.3 113.9,586.4 114.4,585.7 114.9,584.9 115.4,584.3 115.9,583.7 116.4,583.1 116.9,582.7 117.4,582.3 117.9,582.0 118.4,581.7 118.9,581.6 119.4,581.5 119.9,581.6 120.4,581.7 120.9,581.9 121.4,582.1 121.9,582.5 122.4,582.9 122.9,583.3 123.4,583.8 123.9,584.4 124.4,585.0 124.9,585.6 125.4,586.3 125.9,587.0 126.3,587.7 126.8,588.4 127.3,589.1 127.8,589.8 128.3,590.5 128.8,591.2 129.3,591.9 129.8,592.6 130.3,593.3 130.8,593.9 131.3,594.5 131.8,595.1 132.3,595.7 132.8,596.2 133.3,596.7 133.8,597.2 134.3,597.7 134.8,598.1 135.3,598.5 135.8,598.8 136.3,599.1 136.8,599.4 137.3,599.7 137.8,599.9 138.3,600.1 138.8,600.2 139.3,600.4 139.8,600.5 140.3,600.5 140.8,600.6 141.3,600.6 141.8,600.5 142.3,600.5 142.8,600.4 143.3,600.3 143.8,600.1 144.3,599.9 144.8,599.7 145.3,599.5 145.8,599.2 146.3,599.0 146.8,598.7 147.3,598.3 147.8,598.0 148.3,597.6 148.8,597.2 149.3,596.8 149.8,596.4 150.3,595.9 150.8,595.5 151.3,595.0 151.8,594.5 152.3,594.1 152.8,593.6 153.3,593.1 153.8,592.6 154.3,592.1 154.8,591.6 155.3,591.1 155.8,590.6 156.3,590.2 156.8,589.7 157.3,589.3 157.8,588.9 158.3,588.5 158.8,588.1 159.3,587.8 159.8,587.5 160.3,587.2 160.8,587.0 161.3,586.8 161.8,586.6 162.3,586.5 162.8,586.4 163.3,586.3 163.8,586.3 164.3,586.4 164.8,586.4 165.3,586.6 165.8,586.7 166.3,586.9 166.8,587.1 167.3,587.4 167.8,587.7 168.3,588.0 168.8,588.3 169.3,588.7 169.8,589.1 170.3,589.5 170.8,589.9 171.3,590.3 171.8,590.7 172.3,591.2 172.8,591.6 173.3,592.1 173.8,592.5 174.3,593.0 174.8,593.4 175.3,593.9 175.8,594.3 176.3,594.7 176.8,595.1 177.3,595.5 177.8,595.8 178.3,596.2 178.8,596.5 179.3,596.8 179.8,597.1 180.3,597.4 180.8,597.6 181.3,597.8 181.8,598.0 182.2,598.2 182.7,598.3 183.2,598.5 183.7,598.6 184.2,598.6 184.7,598.7 185.2,598.7 185.7,598.7 186.2,598.6 186.7,598.6 187.2,598.5 187.7,598.4 188.2,598.3 188.7,598.1 189.2,597.9 189.7,597.7 190.2,597.5 190.7,597.3 191.2,597.0 191.7,596.7 192.2,596.4 192.7,596.1 193.2,595.8 193.7,595.4 194.2,595.1 194.7,594.7 195.2,594.3 195.7,593.9 196.2,593.5 196.7,593.1 197.2,592.8 197.7,592.4 198.2,592.0 198.7,591.6 199.2,591.2 199.7,590.9 200.2,590.5 200.7,590.2 201.2,589.9 201.7,589.6 202.2,589.3 202.7,589.0 203.2,588.8 203.7,588.6 204.2,588.4 204.7,588.3 205.2,588.1 205.7,588.0 206.2,588.0 206.7,588.0 207.2,588.0 207.7,588.0 208.2,588.1 208.7,588.2 209.2,588.3 209.7,588.4 210.2,588.6 210.7,588.8 211.2,589.0 211.7,589.3 212.2,589.5 212.7,589.8 213.2,590.1 213.7,590.4 214.2,590.7 214.7,591.0 215.2,591.4 215.7,591.7 216.2,592.0 216.7,592.4 217.2,592.7 217.7,593.1 218.2,593.4 218.7,593.7 219.2,594.0 219.7,594.3 220.2,594.6 220.7,594.9 221.2,595.2 221.7,595.4 222.2,595.7 222.7,595.9 223.2,596.1 223.7,596.3 224.2,596.5 224.7,596.7 225.2,596.8 225.7,596.9 226.2,597.0 226.7,597.1 227.2,597.2 227.7,597.3 228.2,597.3 228.7,597.3 229.2,597.3 229.7,597.3 230.2,597.2 230.7,597.2 231.2,597.1 231.7,597.0 232.2,596.9 232.7,596.7 233.2,596.6 233.7,596.4 234.2,596.3 234.7,596.1 235.2,595.9 235.7,595.7 236.2,595.4 236.7,595.2 237.2,594.9 237.7,594.7 238.1,594.4 238.6,594.1 239.1,593.9 239.6,593.6 240.1,593.3 240.6,593.0 241.1,592.7 241.6,592.5 242.1,592.2 242.6,591.9 243.1,591.6 243.6,591.4 244.1,591.1 244.6,590.9 245.1,590.6 245.6,590.4 246.1,590.2 246.6,590.0 247.1,589.9 247.6,589.7 248.1,589.6 248.6,589.5 249.1,589.4 249.6,589.3 250.1,589.3 250.6,589.2 251.1,589.2 251.6,589.2 252.1,589.3 252.6,589.3 253.1,589.4 253.6,589.5 254.1,589.6 254.6,589.8 255.1,589.9 255.6,590.1 256.1,590.3 256.6,590.5 257.1,590.7 257.6,590.9 258.1,591.2 258.6,591.4 259.1,591.7 259.6,591.9 260.1,592.2 260.6,592.4 261.1,592.7 261.6,593.0 262.1,593.2 262.6,593.5 263.1,593.8 263.6,594.0 264.1,594.3 264.6,594.5 265.1,594.7 265.6,594.9 266.1,595.2 266.6,595.4 267.1,595.5 267.6,595.7 268.1,595.9 268.6,596.0 269.1,596.2 269.6,596.3 270.1,596.4 270.6,596.5 271.1,596.5 271.6,596.6 272.1,596.6 272.6,596.6 273.1,596.6 273.6,596.6 274.1,596.6 274.6,596.5 275.1,596.5 275.6,596.4 276.1,596.3 276.6,596.2 277.1,596.1 277.6,595.9 278.1,595.8 278.6,595.6 279.1,595.4 279.6,595.3 280.1,595.1 280.6,594.8 281.1,594.6 281.6,594.4 282.1,594.2 282.6,593.9 283.1,593.7 283.6,593.4 284.1,593.2 284.6,593.0 285.1,592.7 285.6,592.5 286.1,592.2 286.6,592.0 287.1,591.8 287.6,591.5 288.1,591.3 288.6,591.1 289.1,590.9 289.6,590.7 290.1,590.6 290.6,590.4 291.1,590.3 291.6,590.2 292.1,590.1 292.6,590.0 293.1,589.9 293.6,589.9 294.0,589.8 294.5,589.8 295.0,589.8 295.5,589.9 296.0,589.9 296.5,590.0 297.0,590.0 297.5,590.1 298.0,590.3 298.5,590.4 299.0,590.5 299.5,590.7 300.0,590.8 300.5,591.0 301.0,591.2 301.5,591.4 302.0,591.6 302.5,591.8 303.0,592.0 303.5,592.3 304.0,592.5 304.5,592.7 305.0,592.9 305.5,593.1 306.0,593.4 306.5,593.6 307.0,593.8 307.5,594.0 308.0,594.2 308.5,594.4 309.0,594.6 309.5,594.8 310.0,594.9 310.5,595.1 311.0,595.2 311.5,595.4 312.0,595.5 312.5,595.6 313.0,595.7 313.5,595.8 314.0,595.9 314.5,595.9 315.0,596.0 315.5,596.0 316.0,596.0 316.5,596.0 317.0,596.0 317.5,596.0 318.0,596.0 318.5,595.9 319.0,595.9 319.5,595.8 320.0,595.7 320.5,595.6 321.0,595.5 321.5,595.4 322.4,595.4" stroke="#ff8000" stroke-width="2.0" stroke-dasharray="1.7 1.5 5.1 1.5"/>
<polyline points="41.1,601.5 42.0,601.5 42.5,601.5 43.0,601.5 43.5,601.5 44.0,601.5 44.5,601.5 45.0,601.6 45.5,601.6 46.0,601.6 46.5,601.7 47.0,601.7 47.5,601.8 48.0,601.8 48.5,601.9 49.0,601.9 49.5,602.0 50.0,602.0 50.5,602.0 51.0,602.0 51.5,602.1 52.0,602.1 52.5,602.1 53.0,602.0 53.5,602.0 54.0,602.0 54.5,601.9 55.0,601.8 55.5,601.8 56.0,601.7 56.5,601.5 57.0,601.4 57.5,601.2 58.0,601.0 58.5,600.8 59.0,600.6 59.5,600.4 60.0,600.1 60.5,599.8 61.0,599.5 61.5,599.2 62.0,598.9 62.5,598.5 63.0,598.1 63.5,597.7 64.0,597.3 64.5,596.9 65.0,596.4 65.5,596.0 66.0,595.5 66.5,595.0 67.0,594.5 67.5,594.0 68.0,593.5 68.5,593.0 69.0,592.5 69.5,592.0 70.0,591.6 70.4,591.1 70.9,590.6 71.4,590.2 71.9,589.7 72.4,589.3 72.9,588.9 73.4,588.6 73.9,588.2 74.4,587.9 74.9,587.7 75.4,587.5 75.9,587.3 76.4,587.1 76.9,587.0 77.4,587.0 77.9,586.9 78.4,587.0 78.9,587.0 79.4,587.1 79.9,587.2 80.4,587.4 80.9,587.6 81.4,587.9 81.9,588.1 82.4,588.4 82.9,588.8 83.4,589.1 83.9,589.5 84.4,589.9 84.9,590.3 85.4,590.7 85.9,591.1 86.4,591.5 86.9,591.9 87.4,592.3 87.9,592.7 88.4,593.1 88.9,593.5 89.4,593.9 89.9,594.3 90.4,594.6 90.9,595.0 91.4,595.3 91.9,595.6 92.4,595.9 92.9,596.2 93.4,596.4 93.9,596.6 94.4,596.8 94.9,597.0 95.4,597.1 95.9,597.3 96.4,597.4 96.9,597.5 97.4,597.5 97.9,597.5 98.4,597.6 98.9,597.5 99.4,597.5 99.9,597.4 100.4,597.4 100.9,597.3 101.4,597.1 101.9,597.0 102.4,596.8 102.9,596.6 103.4,596.4 103.9,596.2 104.4,596.0 104.9,595.8 105.4,595.5 105.9,595.3 106.4,595.0 106.9,594.7 107.4,594.4 107.9,594.1 108.4,593.8 108.9,593.5 109.4,593.2 109.9,593.0 110.4,592.7 110.9,592.4 111.4,592.1 111.9,591.9 112.4,591.6 112.9,591.4 113.4,591.1 113.9,590.9 114.4,590.7 114.9,590.5 115.4,590.4 115.9,590.2 116.4,590.1 116.9,590.0 117.4,589.9 117.9,589.9 118.4,589.8 118.9,589.8 119.4,589.8 119.9,589.8 120.4,589.8 120.9,589.9 121.4,590.0 121.9,590.1 122.4,590.2 122.9,590.3 123.4,590.4 123.9,590.6 124.4,590.8 124.9,590.9 125.4,591.1 125.9,591.3 126.3,591.5 126.8,591.7 127.3,591.9 127.8,592.1 128.3,592.3 128.8,592.5 129.3,592.7 129.8,592.9 130.3,593.1 130.8,593.3 131.3,593.5 131.8,593.7 132.3,593.9 132.8,594.1 133.3,594.2 133.8,594.4 134.3,594.5 134.8,594.7 135.3,594.8 135.8,594.9 136.3,595.0 136.8,595.1 137.3,595.2 137.8,595.3 138.3,595.4 138.8,595.4 139.3,595.5 139.8,595.5 140.3,595.5 140.8,595.5 141.3,595.5 141.8,595.5 142.3,595.5 142.8,595.4 143.3,595.4 143.8,595.3 144.3,595.3 144.8,595.2 145.3,595.1 145.8,595.0 146.3,594.9 146.8,594.8 147.3,594.7 147.8,594.6 148.3,594.5 148.8,594.3 149.3,594.2 149.8,594.1 150.3,593.9 150.8,593.8 151.3,593.6 151.8,593.5 152.3,593.3 152.8,593.2 153.3,593.0 153.8,592.9 154.3,592.7 154.8,592.6 155.3,592.4 155.8,592.3 156.3,592.2 156.8,592.1 157.3,591.9 157.8,591.8 158.3,591.7 158.8,591.6 159.3,591.5 159.8,591.5 160.3,591.4 160.8,591.3 161.3,591.3 161.8,591.2 162.3,591.2 162.8,591.2 163.3,591.2 163.8,591.2 164.3,591.2 164.8,591.2 165.3,591.2 165.8,591.3 166.3,591.3 166.8,591.4 167.3,591.4 167.8,591.5 168.3,591.6 168.8,591.7 169.3,591.8 169.8,591.9 170.3,592.0 170.8,592.1 171.3,592.3 171.8,592.4 172.3,592.5 172.8,592.7 173.3,592.8 173.8,592.9 174.3,593.1 174.8,593.2 175.3,593.3 175.8,593.5 176.3,593.6 176.8,593.7 177.3,593.8 177.8,594.0 178.3,594.1 178.8,594.2 179.3,594.3 179.8,594.4 180.3,594.5 180.8,594.6 181.3,594.6 181.8,594.7 182.2,594.7 182.7,594.8 183.2,594.8 183.7,594.9 184.2,594.9 184.7,594.9 185.2,594.9 185.7,594.9 186.2,594.9 186.7,594.9 187.2,594.8 187.7,594.8 188.2,594.8 188.7,594.7 189.2,594.6 189.7,594.6 190.2,594.5 190.7,594.4 191.2,594.3 191.7,594.2 192.2,594.1 192.7,594.0 193.2,593.9 193.7,593.8 194.2,593.7 194.7,593.6 195.2,593.5 195.7,593.3 196.2,593.2 196.7,593.1 197.2,593.0 197.7,592.9 198.2,592.7 198.7,592.6 199.2,592.5 199.7,592.4 200.2,592.3 200.7,592.2 201.2,592.1 201.7,592.0 202.2,592.0 202.7,591.9 203.2,591.8 203.7,591.8 204.2,591.7 204.7,591.7 205.2,591.7 205.7,591.6 206.2,591.6 206.7,591.6 207.2,591.6 207.7,591.6 208.2,591.7 208.7,591.7 209.2,591.7 209.7,591.8 210.2,591.8 210.7,591.9 211.2,591.9 211.7,592.0 212.2,592.1 212.7,592.2 213.2,592.2 213.7,592.3 214.2,592.4 214.7,592.5 215.2,592.6 215.7,592.7 216.2,592.8 216.7,592.9 217.2,593.0 217.7,593.1 218.2,593.2 218.7,593.3 219.2,593.4 219.7,593.5 220.2,593.6 220.7,593.7 221.2,593.8 221.7,593.9 222.2,593.9 222.7,594.0 223.2,594.1 223.7,594.1 224.2,594.2 224.7,594.3 225.2,594.3 225.7,594.3 226.2,594.4 226.7,594.4 227.2,594.4 227.7,594.4 228.2,594.5 228.7,594.5 229.2,594.5 229.7,594.4 230.2,594.4 230.7,594.4 231.2,594.4 231.7,594.3 232.2,594.3 232.7,594.3 233.2,594.2 233.7,594.2 234.2,594.1 234.7,594.0 235.2,594.0 235.7,593.9 236.2,593.8 236.7,593.8 237.2,593.7 237.7,593.6 238.1,593.5 238.6,593.4 239.1,593.3 239.6,593.3 240.1,593.2 240.6,593.1 241.1,593.0 241.6,592.9 242.1,592.8 242.6,592.8 243.1,592.7 243.6,592.6 244.1,592.5 244.6,592.5 245.1,592.4 245.6,592.3 246.1,592.3 246.6,592.2 247.1,592.2 247.6,592.1 248.1,592.1 248.6,592.1 249.1,592.0 249.6,592.0 250.1,592.0 250.6,592.0 251.1,592.0 251.6,592.0 252.1,592.0 252.6,592.0 253.1,592.0 253.6,592.1 254.1,592.1 254.6,592.1 255.1,592.2 255.6,592.2 256.1,592.3 256.6,592.4 257.1,592.4 257.6,592.5 258.1,592.5 258.6,592.6 259.1,592.7 259.6,592.8 260.1,592.9 260.6,592.9 261.1,593.0 261.6,593.1 262.1,593.2 262.6,593.3 263.1,593.3 263.6,593.4 264.1,593.5 264.6,593.6 265.1,593.6 265.6,593.7 266.1,593.8 266.6,593.8 267.1,593.9 267.6,594.0 268.1,594.0 268.6,594.1 269.1,594.1 269.6,594.1 270.1,594.2 270.6,594.2 271.1,594.2 271.6,594.2 272.1,594.2 272.6,594.2 273.1,594.2 273.6,594.2 274.1,594.2 274.6,594.2 275.1,594.2 275.6,594.2 276.1,594.1 276.6,594.1 277.1,594.1 277.6,594.0 278.1,594.0 278.6,593.9 279.1,593.9 279.6,593.8 280.1,593.7 280.6,593.7 281.1,593.6 281.6,593.5 282.1,593.5 282.6,593.4 283.1,593.3 283.6,593.2 284.1,593.2 284.6,593.1 285.1,593.0 285.6,592.9 286.1,592.9 286.6,592.8 287.1,592.7 287.6,592.7 288.1,592.6 288.6,592.5 289.1,592.5 289.6,592.4 290.1,592.4 290.6,592.3 291.1,592.3 291.6,592.3 292.1,592.2 292.6,592.2 293.1,592.2 293.6,592.2 294.0,592.2 294.5,592.2 295.0,592.2 295.5,592.2 296.0,592.2 296.5,592.2 297.0,592.2 297.5,592.3 298.0,592.3 298.5,592.3 299.0,592.4 299.5,592.4 300.0,592.5 300.5,592.5 301.0,592.6 301.5,592.6 302.0,592.7 302.5,592.8 303.0,592.8 303.5,592.9 304.0,593.0 304.5,593.0 305.0,593.1 305.5,593.2 306.0,593.2 306.5,593.3 307.0,593.4 307.5,593.4 308.0,593.5 308.5,593.5 309.0,593.6 309.5,593.7 310.0,593.7 310.5,593.8 311.0,593.8 311.5,593.8 312.0,593.9 312.5,593.9 313.0,594.0 313.5,594.0 314.0,594.0 314.5,594.0 315.0,594.0 315.5,594.0 316.0,594.1 316.5,594.1 317.0,594.1 317.5,594.0 318.0,594.0 318.5,594.0 319.0,594.0 319.5,594.0 320.0,593.9 320.5,593.9 321.0,593.9 321.5,593.8 322.4,593.8" stroke="#800080" stroke-width="2.0" stroke-dasharray="8.5 2"/>
</g>
<line x1="241.40" y1="392.90" x2="262.70" y2="392.90" stroke="#ff0000" stroke-width="1.9"/>
<line x1="241.40" y1="426.93" x2="262.70" y2="426.93" stroke="#000000" stroke-width="2.15" stroke-dasharray="2.4 1.25"/>
<line x1="241.40" y1="460.96" x2="262.70" y2="460.96" stroke="#0000ff" stroke-width="2.0" stroke-dasharray="5.4 1.6"/>
<line x1="241.40" y1="494.99" x2="262.70" y2="494.99" stroke="#ff8000" stroke-width="2.0" stroke-dasharray="1.7 1.5 5.1 1.5" stroke-dashoffset="6.6"/>
<line x1="241.40" y1="529.02" x2="262.70" y2="529.02" stroke="#800080" stroke-width="2.0" stroke-dasharray="8.5 2"/>
<clipPath id="cp4"><rect x="394.80" y="376.60" width="281.60" height="280.90"/></clipPath>
<path d="M395.70,656.6v-3.5M395.70,377.5v3.5M409.69,656.6v-2.5M409.69,377.5v2.5M423.68,656.6v-2.5M423.68,377.5v2.5M437.67,656.6v-2.5M437.67,377.5v2.5M451.66,656.6v-2.5M451.66,377.5v2.5M465.65,656.6v-3.5M465.65,377.5v3.5M479.64,656.6v-2.5M479.64,377.5v2.5M493.63,656.6v-2.5M493.63,377.5v2.5M507.62,656.6v-2.5M507.62,377.5v2.5M521.61,656.6v-2.5M521.61,377.5v2.5M535.60,656.6v-3.5M535.60,377.5v3.5M549.59,656.6v-2.5M549.59,377.5v2.5M563.58,656.6v-2.5M563.58,377.5v2.5M577.57,656.6v-2.5M577.57,377.5v2.5M591.56,656.6v-2.5M591.56,377.5v2.5M605.55,656.6v-3.5M605.55,377.5v3.5M619.54,656.6v-2.5M619.54,377.5v2.5M633.53,656.6v-2.5M633.53,377.5v2.5M647.52,656.6v-2.5M647.52,377.5v2.5M661.51,656.6v-2.5M661.51,377.5v2.5M675.50,656.6v-3.5M675.50,377.5v3.5M395.7,656.60h3.5M675.5,656.60h-3.5M395.7,643.91h2.5M675.5,643.91h-2.5M395.7,631.23h2.5M675.5,631.23h-2.5M395.7,618.54h2.5M675.5,618.54h-2.5M395.7,605.85h2.5M675.5,605.85h-2.5M395.7,593.17h3.5M675.5,593.17h-3.5M395.7,580.48h2.5M675.5,580.48h-2.5M395.7,567.80h2.5M675.5,567.80h-2.5M395.7,555.11h2.5M675.5,555.11h-2.5M395.7,542.42h2.5M675.5,542.42h-2.5M395.7,529.74h3.5M675.5,529.74h-3.5M395.7,517.05h2.5M675.5,517.05h-2.5M395.7,504.36h2.5M675.5,504.36h-2.5M395.7,491.68h2.5M675.5,491.68h-2.5M395.7,478.99h2.5M675.5,478.99h-2.5M395.7,466.30h3.5M675.5,466.30h-3.5M395.7,453.62h2.5M675.5,453.62h-2.5M395.7,440.93h2.5M675.5,440.93h-2.5M395.7,428.25h2.5M675.5,428.25h-2.5M395.7,415.56h2.5M675.5,415.56h-2.5M395.7,402.87h3.5M675.5,402.87h-3.5M395.7,390.19h2.5M675.5,390.19h-2.5M395.7,377.50h2.5M675.5,377.50h-2.5" stroke="#222222" stroke-width="1" fill="none"/>
<rect x="395.7" y="377.5" width="279.80" height="279.10" fill="none" stroke="#222222" stroke-width="1.2"/>
<g clip-path="url(#cp4)" fill="none" stroke-linejoin="round">
<polyline points="394.8,654.6 395.7,654.6 396.2,654.6 396.7,654.6 397.2,654.6 397.7,654.6 398.2,654.6 398.7,654.6 399.2,654.5 399.7,654.5 400.2,654.5 400.7,654.5 401.2,654.4 401.7,654.4 402.2,654.4 402.7,654.3 403.2,654.3 403.7,654.2 404.2,654.2 404.7,654.1 405.2,654.1 405.7,654.0 406.2,654.0 406.7,653.9 407.2,653.8 407.7,653.7 408.2,653.6 408.7,653.5 409.2,653.4 409.7,653.3 410.2,653.2 410.7,653.0 411.2,652.9 411.7,652.7 412.2,652.5 412.7,652.3 413.2,652.1 413.7,651.9 414.2,651.6 414.7,651.3 415.2,651.0 415.7,650.6 416.2,650.3 416.7,649.8 417.2,649.4 417.7,648.8 418.2,648.3 418.7,647.6 419.2,646.9 419.7,646.0 420.2,645.1 420.7,644.0 421.2,642.8 421.7,641.4 422.2,639.8 422.7,638.0 423.2,635.8 423.7,633.3 424.2,630.3 424.7,626.8 425.2,622.6 425.7,617.6 426.2,611.5 426.7,604.1 427.2,595.1 427.7,584.1 428.2,570.5 428.7,553.9 429.2,533.9 429.7,510.3 430.2,483.6 430.7,455.6 431.2,429.7 431.7,410.4 432.2,401.8 432.7,405.5 433.2,419.8 433.7,440.6 434.2,463.9 434.7,486.8 435.2,507.7 435.7,526.0 436.2,541.5 436.7,554.7 437.2,565.8 437.7,575.1 438.2,582.9 438.7,589.5 439.2,595.2 439.7,600.0 440.2,604.1 440.7,607.6 441.2,610.7 441.7,613.4 442.2,615.7 442.7,617.7 443.2,619.5 443.7,621.1 444.2,622.4 444.7,623.6 445.2,624.7 445.7,625.6 446.2,626.4 446.7,627.0 447.2,627.6 447.7,628.1 448.2,628.5 448.7,628.9 449.2,629.2 449.7,629.4 450.2,629.5 450.7,629.6 451.2,629.6 451.7,629.5 452.2,629.4 452.7,629.3 453.2,629.1 453.7,628.8 454.2,628.5 454.7,628.1 455.2,627.6 455.7,627.1 456.2,626.5 456.7,625.9 457.2,625.2 457.7,624.4 458.2,623.5 458.7,622.5 459.2,621.4 459.7,620.3 460.2,619.0 460.7,617.7 461.2,616.2 461.7,614.6 462.2,612.8 462.7,610.9 463.2,608.9 463.7,606.6 464.2,604.2 464.7,601.7 465.2,598.9 465.7,596.0 466.2,592.8 466.6,589.5 467.1,585.9 467.6,582.2 468.1,578.4 468.6,574.4 469.1,570.3 469.6,566.1 470.1,562.0 470.6,558.0 471.1,554.2 471.6,550.7 472.1,547.5 472.6,544.9 473.1,542.8 473.6,541.3 474.1,540.6 474.6,540.5 475.1,541.2 475.6,542.5 476.1,544.4 476.6,546.8 477.1,549.7 477.6,552.9 478.1,556.4 478.6,560.0 479.1,563.7 479.6,567.4 480.1,571.1 480.6,574.7 481.1,578.1 481.6,581.5 482.1,584.6 482.6,587.6 483.1,590.4 483.6,593.0 484.1,595.5 484.6,597.8 485.1,599.9 485.6,601.9 486.1,603.7 486.6,605.4 487.1,606.9 487.6,608.3 488.1,609.6 488.6,610.8 489.1,611.9 489.6,612.8 490.1,613.7 490.6,614.5 491.1,615.2 491.6,615.8 492.1,616.3 492.6,616.8 493.1,617.2 493.6,617.5 494.1,617.7 494.6,617.9 495.1,618.0 495.6,618.1 496.1,618.0 496.6,617.9 497.1,617.8 497.6,617.6 498.1,617.3 498.6,616.9 499.1,616.5 499.6,616.0 500.1,615.5 500.6,614.8 501.1,614.1 501.6,613.3 502.1,612.5 502.6,611.5 503.1,610.5 503.6,609.4 504.1,608.2 504.6,606.9 505.1,605.5 505.6,604.0 506.1,602.4 506.6,600.7 507.1,598.9 507.6,597.0 508.1,595.0 508.6,592.9 509.1,590.7 509.6,588.4 510.1,586.1 510.6,583.8 511.1,581.4 511.6,579.0 512.1,576.6 512.6,574.2 513.1,572.0 513.6,569.8 514.1,567.8 514.6,566.0 515.1,564.4 515.6,563.1 516.1,562.1 516.6,561.3 517.1,560.9 517.6,560.8 518.1,561.0 518.6,561.6 519.1,562.4 519.6,563.5 520.1,564.9 520.6,566.5 521.1,568.2 521.6,570.1 522.1,572.1 522.6,574.2 523.1,576.3 523.6,578.5 524.1,580.6 524.6,582.7 525.1,584.8 525.6,586.8 526.1,588.8 526.6,590.6 527.1,592.4 527.6,594.2 528.1,595.8 528.6,597.3 529.1,598.8 529.6,600.1 530.1,601.4 530.6,602.6 531.1,603.7 531.6,604.7 532.1,605.6 532.6,606.5 533.1,607.3 533.6,608.0 534.1,608.6 534.6,609.2 535.1,609.7 535.6,610.1 536.1,610.5 536.6,610.8 537.1,611.1 537.6,611.3 538.1,611.4 538.6,611.5 539.1,611.5 539.6,611.4 540.1,611.4 540.6,611.2 541.1,611.0 541.6,610.7 542.1,610.4 542.6,610.0 543.1,609.6 543.6,609.1 544.1,608.6 544.6,608.0 545.1,607.3 545.6,606.6 546.1,605.8 546.6,604.9 547.1,604.0 547.6,603.1 548.1,602.0 548.6,600.9 549.1,599.8 549.6,598.6 550.1,597.3 550.6,596.0 551.1,594.7 551.6,593.3 552.1,591.8 552.6,590.4 553.1,588.9 553.6,587.4 554.1,585.8 554.6,584.3 555.1,582.8 555.6,581.3 556.1,579.9 556.6,578.6 557.1,577.3 557.6,576.1 558.1,575.0 558.6,574.0 559.1,573.2 559.6,572.5 560.1,572.0 560.6,571.6 561.1,571.5 561.6,571.5 562.1,571.6 562.6,572.0 563.1,572.4 563.6,573.1 564.1,573.9 564.6,574.8 565.1,575.8 565.6,577.0 566.1,578.2 566.6,579.5 567.1,580.8 567.6,582.2 568.1,583.6 568.6,585.0 569.1,586.5 569.6,587.9 570.1,589.3 570.6,590.6 571.1,592.0 571.6,593.3 572.1,594.5 572.6,595.7 573.1,596.9 573.6,598.0 574.1,599.0 574.6,600.0 575.1,600.9 575.6,601.8 576.1,602.6 576.6,603.3 577.1,604.0 577.6,604.7 578.1,605.2 578.6,605.8 579.1,606.2 579.6,606.6 580.1,607.0 580.6,607.3 581.1,607.5 581.6,607.7 582.1,607.9 582.6,608.0 583.1,608.0 583.6,608.0 584.1,607.9 584.6,607.8 585.1,607.6 585.6,607.4 586.1,607.1 586.6,606.8 587.1,606.4 587.6,606.0 588.1,605.5 588.6,604.9 589.1,604.3 589.6,603.7 590.1,603.0 590.6,602.2 591.1,601.4 591.6,600.6 592.1,599.7 592.6,598.8 593.1,597.8 593.6,596.7 594.1,595.7 594.6,594.6 595.1,593.4 595.6,592.2 596.1,591.1 596.6,589.9 597.1,588.6 597.6,587.4 598.1,586.2 598.6,585.1 599.1,583.9 599.6,582.8 600.1,581.7 600.6,580.7 601.1,579.8 601.6,578.9 602.1,578.2 602.6,577.5 603.1,577.0 603.6,576.6 604.1,576.3 604.6,576.1 605.1,576.1 605.6,576.1 606.0,576.3 606.5,576.7 607.0,577.1 607.5,577.7 608.0,578.3 608.5,579.1 609.0,579.9 609.5,580.8 610.0,581.8 610.5,582.8 611.0,583.9 611.5,584.9 612.0,586.0 612.5,587.2 613.0,588.3 613.5,589.4 614.0,590.5 614.5,591.6 615.0,592.6 615.5,593.6 616.0,594.6 616.5,595.6 617.0,596.5 617.5,597.4 618.0,598.2 618.5,599.0 619.0,599.8 619.5,600.5 620.0,601.1 620.5,601.7 621.0,602.3 621.5,602.8 622.0,603.3 622.5,603.7 623.0,604.0 623.5,604.4 624.0,604.6 624.5,604.9 625.0,605.0 625.5,605.2 626.0,605.3 626.5,605.3 627.0,605.3 627.5,605.3 628.0,605.2 628.5,605.0 629.0,604.9 629.5,604.6 630.0,604.4 630.5,604.1 631.0,603.7 631.5,603.3 632.0,602.9 632.5,602.4 633.0,601.9 633.5,601.3 634.0,600.7 634.5,600.0 635.0,599.3 635.5,598.6 636.0,597.9 636.5,597.1 637.0,596.3 637.5,595.4 638.0,594.5 638.5,593.6 639.0,592.7 639.5,591.8 640.0,590.9 640.5,589.9 641.0,589.0 641.5,588.1 642.0,587.1 642.5,586.2 643.0,585.4 643.5,584.5 644.0,583.7 644.5,583.0 645.0,582.3 645.5,581.7 646.0,581.2 646.5,580.7 647.0,580.3 647.5,580.0 648.0,579.8 648.5,579.6 649.0,579.6 649.5,579.7 650.0,579.8 650.5,580.0 651.0,580.4 651.5,580.8 652.0,581.3 652.5,581.8 653.0,582.4 653.5,583.1 654.0,583.8 654.5,584.6 655.0,585.4 655.5,586.3 656.0,587.1 656.5,588.0 657.0,588.9 657.5,589.8 658.0,590.7 658.5,591.6 659.0,592.5 659.5,593.3 660.0,594.1 660.5,595.0 661.0,595.7 661.5,596.5 662.0,597.2 662.5,597.9 663.0,598.6 663.5,599.2 664.0,599.8 664.5,600.3 665.0,600.8 665.5,601.3 666.0,601.7 666.5,602.1 667.0,602.4 667.5,602.7 668.0,603.0 668.5,603.2 669.0,603.4 669.5,603.5 670.0,603.6 670.5,603.7 671.0,603.7 671.5,603.6 672.0,603.6 672.5,603.4 673.0,603.3 673.5,603.1 674.0,602.9 674.5,602.6 675.0,602.3 675.5,601.9 676.4,601.9" stroke="#ff0000" stroke-width="1.9"/>
<polyline points="394.8,652.6 395.7,652.6 396.2,652.6 396.7,652.6 397.2,652.5 397.7,652.5 398.2,652.5 398.7,652.5 399.2,652.4 399.7,652.4 400.2,652.3 400.7,652.3 401.2,652.2 401.7,652.1 402.2,652.0 402.7,651.9 403.2,651.8 403.7,651.7 404.2,651.6 404.7,651.5 405.2,651.3 405.7,651.2 406.2,651.0 406.7,650.8 407.2,650.6 407.7,650.4 408.2,650.2 408.7,649.9 409.2,649.6 409.7,649.3 410.2,649.0 410.7,648.6 411.2,648.2 411.7,647.8 412.2,647.3 412.7,646.7 413.2,646.1 413.7,645.5 414.2,644.8 414.7,644.0 415.2,643.1 415.7,642.1 416.2,641.0 416.7,639.8 417.2,638.4 417.7,636.9 418.2,635.2 418.7,633.2 419.2,631.0 419.7,628.5 420.2,625.7 420.7,622.4 421.2,618.8 421.7,614.6 422.2,609.8 422.7,604.3 423.2,598.1 423.7,591.1 424.2,583.3 424.7,574.6 425.2,565.1 425.7,554.9 426.2,544.5 426.7,534.0 427.2,524.2 427.7,515.6 428.2,508.9 428.7,504.6 429.2,503.0 429.7,503.9 430.2,507.2 430.7,512.4 431.2,518.9 431.7,526.1 432.2,533.7 432.7,541.2 433.2,548.5 433.7,555.4 434.2,561.8 434.7,567.7 435.2,573.1 435.7,577.9 436.2,582.3 436.7,586.2 437.2,589.7 437.7,592.9 438.2,595.7 438.7,598.2 439.2,600.5 439.7,602.5 440.2,604.3 440.7,605.9 441.2,607.4 441.7,608.6 442.2,609.8 442.7,610.8 443.2,611.6 443.7,612.4 444.2,613.1 444.7,613.6 445.2,614.1 445.7,614.5 446.2,614.8 446.7,615.1 447.2,615.2 447.7,615.4 448.2,615.4 448.7,615.4 449.2,615.3 449.7,615.2 450.2,615.0 450.7,614.8 451.2,614.5 451.7,614.2 452.2,613.8 452.7,613.3 453.2,612.9 453.7,612.3 454.2,611.8 454.7,611.1 455.2,610.5 455.7,609.7 456.2,609.0 456.7,608.2 457.2,607.3 457.7,606.4 458.2,605.4 458.7,604.4 459.2,603.4 459.7,602.3 460.2,601.2 460.7,600.0 461.2,598.8 461.7,597.5 462.2,596.2 462.7,594.9 463.2,593.6 463.7,592.2 464.2,590.8 464.7,589.4 465.2,588.0 465.7,586.6 466.2,585.2 466.6,583.8 467.1,582.5 467.6,581.2 468.1,579.9 468.6,578.7 469.1,577.6 469.6,576.5 470.1,575.6 470.6,574.7 471.1,574.0 471.6,573.4 472.1,573.0 472.6,572.7 473.1,572.5 473.6,572.5 474.1,572.6 474.6,572.9 475.1,573.3 475.6,573.9 476.1,574.6 476.6,575.4 477.1,576.3 477.6,577.3 478.1,578.4 478.6,579.6 479.1,580.8 479.6,582.1 480.1,583.4 480.6,584.7 481.1,586.0 481.6,587.4 482.1,588.7 482.6,590.0 483.1,591.3 483.6,592.6 484.1,593.8 484.6,595.0 485.1,596.1 485.6,597.2 486.1,598.2 486.6,599.2 487.1,600.1 487.6,601.0 488.1,601.8 488.6,602.6 489.1,603.3 489.6,603.9 490.1,604.5 490.6,605.1 491.1,605.5 491.6,606.0 492.1,606.3 492.6,606.6 493.1,606.9 493.6,607.1 494.1,607.2 494.6,607.3 495.1,607.3 495.6,607.3 496.1,607.2 496.6,607.1 497.1,606.9 497.6,606.7 498.1,606.4 498.6,606.1 499.1,605.7 499.6,605.2 500.1,604.7 500.6,604.1 501.1,603.5 501.6,602.9 502.1,602.2 502.6,601.4 503.1,600.6 503.6,599.7 504.1,598.8 504.6,597.9 505.1,596.9 505.6,595.9 506.1,594.8 506.6,593.8 507.1,592.7 507.6,591.5 508.1,590.4 508.6,589.3 509.1,588.2 509.6,587.1 510.1,586.0 510.6,585.0 511.1,584.0 511.6,583.0 512.1,582.1 512.6,581.3 513.1,580.6 513.6,580.0 514.1,579.4 514.6,579.0 515.1,578.7 515.6,578.5 516.1,578.4 516.6,578.4 517.1,578.5 517.6,578.7 518.1,579.1 518.6,579.5 519.1,580.0 519.6,580.6 520.1,581.3 520.6,582.0 521.1,582.8 521.6,583.6 522.1,584.5 522.6,585.4 523.1,586.3 523.6,587.3 524.1,588.2 524.6,589.1 525.1,590.0 525.6,591.0 526.1,591.8 526.6,592.7 527.1,593.6 527.6,594.4 528.1,595.2 528.6,595.9 529.1,596.6 529.6,597.3 530.1,597.9 530.6,598.5 531.1,599.1 531.6,599.6 532.1,600.1 532.6,600.5 533.1,600.9 533.6,601.3 534.1,601.6 534.6,601.8 535.1,602.1 535.6,602.3 536.1,602.4 536.6,602.6 537.1,602.6 537.6,602.7 538.1,602.7 538.6,602.7 539.1,602.6 539.6,602.5 540.1,602.4 540.6,602.2 541.1,602.0 541.6,601.7 542.1,601.5 542.6,601.2 543.1,600.8 543.6,600.5 544.1,600.1 544.6,599.7 545.1,599.2 545.6,598.7 546.1,598.2 546.6,597.7 547.1,597.1 547.6,596.6 548.1,596.0 548.6,595.4 549.1,594.8 549.6,594.1 550.1,593.5 550.6,592.8 551.1,592.2 551.6,591.5 552.1,590.9 552.6,590.2 553.1,589.6 553.6,589.0 554.1,588.4 554.6,587.8 555.1,587.2 555.6,586.7 556.1,586.2 556.6,585.7 557.1,585.3 557.6,584.9 558.1,584.6 558.6,584.3 559.1,584.1 559.6,583.9 560.1,583.8 560.6,583.7 561.1,583.7 561.6,583.7 562.1,583.8 562.6,584.0 563.1,584.2 563.6,584.5 564.1,584.8 564.6,585.2 565.1,585.6 565.6,586.0 566.1,586.5 566.6,587.0 567.1,587.6 567.6,588.1 568.1,588.7 568.6,589.3 569.1,589.9 569.6,590.6 570.1,591.2 570.6,591.8 571.1,592.5 571.6,593.1 572.1,593.7 572.6,594.3 573.1,594.9 573.6,595.4 574.1,596.0 574.6,596.5 575.1,597.0 575.6,597.5 576.1,597.9 576.6,598.4 577.1,598.8 577.6,599.1 578.1,599.5 578.6,599.8 579.1,600.0 579.6,600.3 580.1,600.5 580.6,600.6 581.1,600.8 581.6,600.9 582.1,601.0 582.6,601.0 583.1,601.0 583.6,601.0 584.1,600.9 584.6,600.8 585.1,600.6 585.6,600.5 586.1,600.3 586.6,600.0 587.1,599.8 587.6,599.5 588.1,599.2 588.6,598.8 589.1,598.4 589.6,598.0 590.1,597.6 590.6,597.1 591.1,596.6 591.6,596.1 592.1,595.6 592.6,595.0 593.1,594.5 593.6,593.9 594.1,593.3 594.6,592.7 595.1,592.2 595.6,591.6 596.1,591.0 596.6,590.4 597.1,589.8 597.6,589.3 598.1,588.8 598.6,588.3 599.1,587.8 599.6,587.3 600.1,586.9 600.6,586.6 601.1,586.2 601.6,585.9 602.1,585.7 602.6,585.5 603.1,585.4 603.6,585.3 604.1,585.2 604.6,585.2 605.1,585.3 605.6,585.4 606.0,585.5 606.5,585.7 607.0,586.0 607.5,586.2 608.0,586.6 608.5,586.9 609.0,587.3 609.5,587.7 610.0,588.2 610.5,588.6 611.0,589.1 611.5,589.6 612.0,590.1 612.5,590.6 613.0,591.1 613.5,591.6 614.0,592.2 614.5,592.7 615.0,593.2 615.5,593.7 616.0,594.1 616.5,594.6 617.0,595.1 617.5,595.5 618.0,595.9 618.5,596.3 619.0,596.7 619.5,597.0 620.0,597.3 620.5,597.7 621.0,597.9 621.5,598.2 622.0,598.4 622.5,598.6 623.0,598.8 623.5,598.9 624.0,599.1 624.5,599.2 625.0,599.2 625.5,599.3 626.0,599.3 626.5,599.3 627.0,599.2 627.5,599.2 628.0,599.1 628.5,599.0 629.0,598.9 629.5,598.7 630.0,598.5 630.5,598.3 631.0,598.1 631.5,597.8 632.0,597.6 632.5,597.3 633.0,597.0 633.5,596.6 634.0,596.3 634.5,595.9 635.0,595.6 635.5,595.2 636.0,594.8 636.5,594.4 637.0,594.0 637.5,593.5 638.0,593.1 638.5,592.7 639.0,592.3 639.5,591.8 640.0,591.4 640.5,591.0 641.0,590.6 641.5,590.2 642.0,589.8 642.5,589.5 643.0,589.1 643.5,588.8 644.0,588.5 644.5,588.2 645.0,587.9 645.5,587.7 646.0,587.5 646.5,587.4 647.0,587.2 647.5,587.1 648.0,587.1 648.5,587.0 649.0,587.0 649.5,587.1 650.0,587.2 650.5,587.3 651.0,587.4 651.5,587.6 652.0,587.8 652.5,588.0 653.0,588.3 653.5,588.6 654.0,588.9 654.5,589.2 655.0,589.6 655.5,589.9 656.0,590.3 656.5,590.7 657.0,591.1 657.5,591.5 658.0,591.9 658.5,592.3 659.0,592.8 659.5,593.2 660.0,593.6 660.5,594.0 661.0,594.4 661.5,594.8 662.0,595.1 662.5,595.5 663.0,595.8 663.5,596.2 664.0,596.5 664.5,596.8 665.0,597.0 665.5,597.3 666.0,597.5 666.5,597.7 667.0,597.9 667.5,598.1 668.0,598.2 668.5,598.3 669.0,598.4 669.5,598.5 670.0,598.5 670.5,598.6 671.0,598.6 671.5,598.5 672.0,598.5 672.5,598.4 673.0,598.3 673.5,598.2 674.0,598.0 674.5,597.8 675.0,597.6 675.5,597.4 676.4,597.4" stroke="#000000" stroke-width="2.15" stroke-dasharray="2.4 1.25"/>
<polyline points="394.8,644.6 395.7,644.6 396.2,644.6 396.7,644.6 397.2,644.5 397.7,644.5 398.2,644.4 398.7,644.3 399.2,644.1 399.7,644.0 400.2,643.8 400.7,643.6 401.2,643.4 401.7,643.2 402.2,642.9 402.7,642.6 403.2,642.3 403.7,641.9 404.2,641.5 404.7,641.1 405.2,640.6 405.7,640.1 406.2,639.5 406.7,638.9 407.2,638.2 407.7,637.5 408.2,636.7 408.7,635.9 409.2,635.0 409.7,634.0 410.2,632.9 410.7,631.7 411.2,630.4 411.7,629.0 412.2,627.5 412.7,625.9 413.2,624.1 413.7,622.2 414.2,620.2 414.7,618.0 415.2,615.6 415.7,613.0 416.2,610.3 416.7,607.3 417.2,604.3 417.7,601.0 418.2,597.6 418.7,594.1 419.2,590.5 419.7,586.9 420.2,583.3 420.7,579.7 421.2,576.3 421.7,573.1 422.2,570.2 422.7,567.7 423.2,565.6 423.7,563.9 424.2,562.7 424.7,561.9 425.2,561.7 425.7,561.9 426.2,562.5 426.7,563.5 427.2,564.8 427.7,566.4 428.2,568.1 428.7,570.0 429.2,572.0 429.7,574.0 430.2,576.0 430.7,578.1 431.2,580.0 431.7,581.9 432.2,583.8 432.7,585.5 433.2,587.2 433.7,588.7 434.2,590.2 434.7,591.5 435.2,592.8 435.7,593.9 436.2,595.0 436.7,595.9 437.2,596.8 437.7,597.6 438.2,598.3 438.7,598.9 439.2,599.5 439.7,600.0 440.2,600.4 440.7,600.8 441.2,601.0 441.7,601.3 442.2,601.5 442.7,601.6 443.2,601.7 443.7,601.7 444.2,601.7 444.7,601.7 445.2,601.6 445.7,601.5 446.2,601.4 446.7,601.2 447.2,601.0 447.7,600.8 448.2,600.5 448.7,600.3 449.2,600.0 449.7,599.7 450.2,599.4 450.7,599.1 451.2,598.8 451.7,598.5 452.2,598.2 452.7,597.9 453.2,597.6 453.7,597.2 454.2,596.9 454.7,596.6 455.2,596.3 455.7,596.0 456.2,595.7 456.7,595.4 457.2,595.1 457.7,594.8 458.2,594.5 458.7,594.2 459.2,594.0 459.7,593.7 460.2,593.4 460.7,593.2 461.2,592.9 461.7,592.6 462.2,592.4 462.7,592.1 463.2,591.9 463.7,591.6 464.2,591.4 464.7,591.1 465.2,590.9 465.7,590.7 466.2,590.4 466.6,590.2 467.1,590.0 467.6,589.7 468.1,589.5 468.6,589.3 469.1,589.1 469.6,588.9 470.1,588.8 470.6,588.6 471.1,588.5 471.6,588.4 472.1,588.2 472.6,588.2 473.1,588.1 473.6,588.1 474.1,588.1 474.6,588.1 475.1,588.1 475.6,588.2 476.1,588.3 476.6,588.4 477.1,588.5 477.6,588.7 478.1,588.9 478.6,589.1 479.1,589.4 479.6,589.7 480.1,590.0 480.6,590.3 481.1,590.6 481.6,591.0 482.1,591.3 482.6,591.7 483.1,592.1 483.6,592.5 484.1,592.9 484.6,593.3 485.1,593.7 485.6,594.1 486.1,594.5 486.6,594.8 487.1,595.2 487.6,595.5 488.1,595.9 488.6,596.2 489.1,596.5 489.6,596.8 490.1,597.1 490.6,597.3 491.1,597.5 491.6,597.7 492.1,597.9 492.6,598.0 493.1,598.1 493.6,598.2 494.1,598.3 494.6,598.3 495.1,598.3 495.6,598.3 496.1,598.3 496.6,598.2 497.1,598.1 497.6,598.0 498.1,597.8 498.6,597.6 499.1,597.4 499.6,597.2 500.1,596.9 500.6,596.7 501.1,596.4 501.6,596.1 502.1,595.7 502.6,595.4 503.1,595.0 503.6,594.7 504.1,594.3 504.6,593.9 505.1,593.5 505.6,593.1 506.1,592.7 506.6,592.4 507.1,592.0 507.6,591.6 508.1,591.2 508.6,590.9 509.1,590.6 509.6,590.3 510.1,590.0 510.6,589.7 511.1,589.5 511.6,589.2 512.1,589.0 512.6,588.9 513.1,588.8 513.6,588.7 514.1,588.6 514.6,588.6 515.1,588.5 515.6,588.6 516.1,588.6 516.6,588.7 517.1,588.8 517.6,588.9 518.1,589.1 518.6,589.3 519.1,589.5 519.6,589.7 520.1,589.9 520.6,590.2 521.1,590.4 521.6,590.7 522.1,591.0 522.6,591.3 523.1,591.6 523.6,591.8 524.1,592.1 524.6,592.4 525.1,592.7 525.6,593.0 526.1,593.2 526.6,593.5 527.1,593.8 527.6,594.0 528.1,594.2 528.6,594.5 529.1,594.7 529.6,594.9 530.1,595.0 530.6,595.2 531.1,595.4 531.6,595.5 532.1,595.6 532.6,595.7 533.1,595.8 533.6,595.9 534.1,596.0 534.6,596.1 535.1,596.1 535.6,596.1 536.1,596.1 536.6,596.1 537.1,596.1 537.6,596.1 538.1,596.1 538.6,596.0 539.1,596.0 539.6,595.9 540.1,595.8 540.6,595.7 541.1,595.6 541.6,595.5 542.1,595.4 542.6,595.3 543.1,595.2 543.6,595.0 544.1,594.9 544.6,594.7 545.1,594.6 545.6,594.4 546.1,594.3 546.6,594.1 547.1,593.9 547.6,593.8 548.1,593.6 548.6,593.4 549.1,593.3 549.6,593.1 550.1,592.9 550.6,592.7 551.1,592.6 551.6,592.4 552.1,592.2 552.6,592.1 553.1,591.9 553.6,591.8 554.1,591.6 554.6,591.5 555.1,591.4 555.6,591.2 556.1,591.1 556.6,591.0 557.1,590.9 557.6,590.8 558.1,590.8 558.6,590.7 559.1,590.6 559.6,590.6 560.1,590.6 560.6,590.6 561.1,590.5 561.6,590.6 562.1,590.6 562.6,590.6 563.1,590.7 563.6,590.7 564.1,590.8 564.6,590.9 565.1,591.0 565.6,591.1 566.1,591.2 566.6,591.3 567.1,591.5 567.6,591.6 568.1,591.8 568.6,591.9 569.1,592.1 569.6,592.3 570.1,592.5 570.6,592.6 571.1,592.8 571.6,593.0 572.1,593.2 572.6,593.4 573.1,593.6 573.6,593.8 574.1,594.0 574.6,594.1 575.1,594.3 575.6,594.5 576.1,594.6 576.6,594.8 577.1,594.9 577.6,595.1 578.1,595.2 578.6,595.3 579.1,595.4 579.6,595.5 580.1,595.6 580.6,595.7 581.1,595.7 581.6,595.8 582.1,595.8 582.6,595.8 583.1,595.8 583.6,595.8 584.1,595.8 584.6,595.7 585.1,595.7 585.6,595.6 586.1,595.5 586.6,595.4 587.1,595.3 587.6,595.2 588.1,595.0 588.6,594.9 589.1,594.8 589.6,594.6 590.1,594.4 590.6,594.3 591.1,594.1 591.6,593.9 592.1,593.7 592.6,593.5 593.1,593.3 593.6,593.1 594.1,592.9 594.6,592.7 595.1,592.5 595.6,592.4 596.1,592.2 596.6,592.0 597.1,591.8 597.6,591.7 598.1,591.5 598.6,591.4 599.1,591.3 599.6,591.1 600.1,591.0 600.6,590.9 601.1,590.9 601.6,590.8 602.1,590.8 602.6,590.7 603.1,590.7 603.6,590.7 604.1,590.7 604.6,590.7 605.1,590.8 605.6,590.8 606.0,590.9 606.5,591.0 607.0,591.1 607.5,591.2 608.0,591.3 608.5,591.4 609.0,591.5 609.5,591.6 610.0,591.8 610.5,591.9 611.0,592.1 611.5,592.2 612.0,592.4 612.5,592.6 613.0,592.7 613.5,592.9 614.0,593.0 614.5,593.2 615.0,593.3 615.5,593.5 616.0,593.6 616.5,593.8 617.0,593.9 617.5,594.0 618.0,594.2 618.5,594.3 619.0,594.4 619.5,594.5 620.0,594.6 620.5,594.7 621.0,594.7 621.5,594.8 622.0,594.9 622.5,594.9 623.0,595.0 623.5,595.0 624.0,595.0 624.5,595.0 625.0,595.1 625.5,595.1 626.0,595.0 626.5,595.0 627.0,595.0 627.5,595.0 628.0,594.9 628.5,594.9 629.0,594.8 629.5,594.8 630.0,594.7 630.5,594.6 631.0,594.5 631.5,594.4 632.0,594.3 632.5,594.3 633.0,594.1 633.5,594.0 634.0,593.9 634.5,593.8 635.0,593.7 635.5,593.6 636.0,593.5 636.5,593.4 637.0,593.2 637.5,593.1 638.0,593.0 638.5,592.9 639.0,592.8 639.5,592.7 640.0,592.5 640.5,592.4 641.0,592.3 641.5,592.2 642.0,592.1 642.5,592.0 643.0,591.9 643.5,591.9 644.0,591.8 644.5,591.7 645.0,591.6 645.5,591.6 646.0,591.5 646.5,591.5 647.0,591.5 647.5,591.4 648.0,591.4 648.5,591.4 649.0,591.4 649.5,591.4 650.0,591.4 650.5,591.5 651.0,591.5 651.5,591.5 652.0,591.6 652.5,591.7 653.0,591.7 653.5,591.8 654.0,591.9 654.5,592.0 655.0,592.1 655.5,592.2 656.0,592.3 656.5,592.4 657.0,592.5 657.5,592.6 658.0,592.7 658.5,592.9 659.0,593.0 659.5,593.1 660.0,593.2 660.5,593.4 661.0,593.5 661.5,593.6 662.0,593.7 662.5,593.9 663.0,594.0 663.5,594.1 664.0,594.2 664.5,594.3 665.0,594.4 665.5,594.5 666.0,594.6 666.5,594.6 667.0,594.7 667.5,594.8 668.0,594.8 668.5,594.8 669.0,594.9 669.5,594.9 670.0,594.9 670.5,594.9 671.0,594.9 671.5,594.9 672.0,594.9 672.5,594.9 673.0,594.8 673.5,594.8 674.0,594.7 674.5,594.7 675.0,594.6 675.5,594.5 676.4,594.5" stroke="#0000ff" stroke-width="2.0" stroke-dasharray="5.4 1.6"/>
<polyline points="394.8,629.7 395.7,629.7 396.2,629.7 396.7,629.6 397.2,629.5 397.7,629.4 398.2,629.2 398.7,629.1 399.2,628.8 399.7,628.6 400.2,628.2 400.7,627.9 401.2,627.5 401.7,627.1 402.2,626.6 402.7,626.1 403.2,625.5 403.7,624.9 404.2,624.3 404.7,623.6 405.2,622.8 405.7,622.0 406.2,621.2 406.7,620.2 407.2,619.3 407.7,618.2 408.2,617.2 408.7,616.0 409.2,614.8 409.7,613.6 410.2,612.2 410.7,610.9 411.2,609.4 411.7,608.0 412.2,606.4 412.7,604.9 413.2,603.3 413.7,601.7 414.2,600.0 414.7,598.4 415.2,596.8 415.7,595.1 416.2,593.5 416.7,592.0 417.2,590.5 417.7,589.1 418.2,587.8 418.7,586.5 419.2,585.4 419.7,584.4 420.2,583.5 420.7,582.8 421.2,582.2 421.7,581.7 422.2,581.4 422.7,581.2 423.2,581.1 423.7,581.2 424.2,581.4 424.7,581.6 425.2,582.0 425.7,582.5 426.2,583.0 426.7,583.6 427.2,584.2 427.7,584.9 428.2,585.5 428.7,586.2 429.2,587.0 429.7,587.7 430.2,588.4 430.7,589.1 431.2,589.7 431.7,590.4 432.2,591.0 432.7,591.6 433.2,592.2 433.7,592.7 434.2,593.2 434.7,593.7 435.2,594.1 435.7,594.5 436.2,594.9 436.7,595.2 437.2,595.5 437.7,595.8 438.2,596.0 438.7,596.2 439.2,596.3 439.7,596.5 440.2,596.6 440.7,596.6 441.2,596.7 441.7,596.7 442.2,596.7 442.7,596.7 443.2,596.6 443.7,596.6 444.2,596.5 444.7,596.4 445.2,596.3 445.7,596.2 446.2,596.0 446.7,595.9 447.2,595.8 447.7,595.6 448.2,595.5 448.7,595.3 449.2,595.2 449.7,595.0 450.2,594.9 450.7,594.8 451.2,594.6 451.7,594.5 452.2,594.4 452.7,594.2 453.2,594.1 453.7,594.0 454.2,593.9 454.7,593.8 455.2,593.7 455.7,593.6 456.2,593.6 456.7,593.5 457.2,593.4 457.7,593.3 458.2,593.3 458.7,593.2 459.2,593.2 459.7,593.1 460.2,593.1 460.7,593.0 461.2,593.0 461.7,592.9 462.2,592.9 462.7,592.8 463.2,592.8 463.7,592.7 464.2,592.6 464.7,592.6 465.2,592.5 465.7,592.5 466.2,592.4 466.6,592.3 467.1,592.3 467.6,592.2 468.1,592.1 468.6,592.1 469.1,592.0 469.6,591.9 470.1,591.9 470.6,591.8 471.1,591.7 471.6,591.7 472.1,591.6 472.6,591.6 473.1,591.5 473.6,591.5 474.1,591.5 474.6,591.5 475.1,591.5 475.6,591.5 476.1,591.5 476.6,591.5 477.1,591.5 477.6,591.6 478.1,591.6 478.6,591.7 479.1,591.8 479.6,591.8 480.1,591.9 480.6,592.0 481.1,592.1 481.6,592.3 482.1,592.4 482.6,592.5 483.1,592.7 483.6,592.8 484.1,592.9 484.6,593.1 485.1,593.2 485.6,593.4 486.1,593.5 486.6,593.7 487.1,593.8 487.6,594.0 488.1,594.1 488.6,594.3 489.1,594.4 489.6,594.5 490.1,594.6 490.6,594.7 491.1,594.8 491.6,594.9 492.1,595.0 492.6,595.0 493.1,595.1 493.6,595.1 494.1,595.1 494.6,595.2 495.1,595.2 495.6,595.1 496.1,595.1 496.6,595.1 497.1,595.0 497.6,595.0 498.1,594.9 498.6,594.8 499.1,594.8 499.6,594.7 500.1,594.5 500.6,594.4 501.1,594.3 501.6,594.2 502.1,594.0 502.6,593.9 503.1,593.8 503.6,593.6 504.1,593.5 504.6,593.3 505.1,593.2 505.6,593.0 506.1,592.9 506.6,592.7 507.1,592.6 507.6,592.4 508.1,592.3 508.6,592.2 509.1,592.1 509.6,592.0 510.1,591.9 510.6,591.8 511.1,591.7 511.6,591.7 512.1,591.6 512.6,591.6 513.1,591.5 513.6,591.5 514.1,591.5 514.6,591.5 515.1,591.5 515.6,591.5 516.1,591.5 516.6,591.6 517.1,591.6 517.6,591.7 518.1,591.8 518.6,591.8 519.1,591.9 519.6,592.0 520.1,592.1 520.6,592.2 521.1,592.3 521.6,592.4 522.1,592.5 522.6,592.6 523.1,592.7 523.6,592.8 524.1,592.9 524.6,593.0 525.1,593.1 525.6,593.2 526.1,593.3 526.6,593.4 527.1,593.5 527.6,593.6 528.1,593.7 528.6,593.7 529.1,593.8 529.6,593.9 530.1,593.9 530.6,594.0 531.1,594.0 531.6,594.1 532.1,594.1 532.6,594.1 533.1,594.2 533.6,594.2 534.1,594.2 534.6,594.2 535.1,594.2 535.6,594.2 536.1,594.2 536.6,594.2 537.1,594.2 537.6,594.2 538.1,594.1 538.6,594.1 539.1,594.1 539.6,594.1 540.1,594.0 540.6,594.0 541.1,594.0 541.6,593.9 542.1,593.9 542.6,593.8 543.1,593.8 543.6,593.7 544.1,593.7 544.6,593.6 545.1,593.6 545.6,593.5 546.1,593.5 546.6,593.4 547.1,593.4 547.6,593.3 548.1,593.3 548.6,593.2 549.1,593.2 549.6,593.1 550.1,593.1 550.6,593.0 551.1,592.9 551.6,592.9 552.1,592.8 552.6,592.8 553.1,592.7 553.6,592.7 554.1,592.7 554.6,592.6 555.1,592.6 555.6,592.5 556.1,592.5 556.6,592.5 557.1,592.4 557.6,592.4 558.1,592.4 558.6,592.4 559.1,592.3 559.6,592.3 560.1,592.3 560.6,592.3 561.1,592.3 561.6,592.3 562.1,592.3 562.6,592.3 563.1,592.3 563.6,592.3 564.1,592.3 564.6,592.4 565.1,592.4 565.6,592.4 566.1,592.5 566.6,592.5 567.1,592.6 567.6,592.6 568.1,592.6 568.6,592.7 569.1,592.8 569.6,592.8 570.1,592.9 570.6,592.9 571.1,593.0 571.6,593.1 572.1,593.2 572.6,593.2 573.1,593.3 573.6,593.4 574.1,593.4 574.6,593.5 575.1,593.6 575.6,593.6 576.1,593.7 576.6,593.7 577.1,593.8 577.6,593.9 578.1,593.9 578.6,593.9 579.1,594.0 579.6,594.0 580.1,594.1 580.6,594.1 581.1,594.1 581.6,594.1 582.1,594.1 582.6,594.1 583.1,594.1 583.6,594.1 584.1,594.1 584.6,594.1 585.1,594.1 585.6,594.1 586.1,594.0 586.6,594.0 587.1,593.9 587.6,593.9 588.1,593.8 588.6,593.8 589.1,593.7 589.6,593.7 590.1,593.6 590.6,593.5 591.1,593.5 591.6,593.4 592.1,593.3 592.6,593.3 593.1,593.2 593.6,593.1 594.1,593.0 594.6,593.0 595.1,592.9 595.6,592.8 596.1,592.8 596.6,592.7 597.1,592.6 597.6,592.6 598.1,592.5 598.6,592.5 599.1,592.5 599.6,592.4 600.1,592.4 600.6,592.3 601.1,592.3 601.6,592.3 602.1,592.3 602.6,592.3 603.1,592.3 603.6,592.3 604.1,592.3 604.6,592.3 605.1,592.3 605.6,592.3 606.0,592.4 606.5,592.4 607.0,592.4 607.5,592.5 608.0,592.5 608.5,592.6 609.0,592.6 609.5,592.7 610.0,592.7 610.5,592.8 611.0,592.8 611.5,592.9 612.0,592.9 612.5,593.0 613.0,593.0 613.5,593.1 614.0,593.2 614.5,593.2 615.0,593.3 615.5,593.3 616.0,593.4 616.5,593.4 617.0,593.5 617.5,593.5 618.0,593.6 618.5,593.6 619.0,593.6 619.5,593.7 620.0,593.7 620.5,593.7 621.0,593.7 621.5,593.8 622.0,593.8 622.5,593.8 623.0,593.8 623.5,593.8 624.0,593.8 624.5,593.8 625.0,593.8 625.5,593.8 626.0,593.8 626.5,593.8 627.0,593.8 627.5,593.8 628.0,593.8 628.5,593.7 629.0,593.7 629.5,593.7 630.0,593.7 630.5,593.6 631.0,593.6 631.5,593.6 632.0,593.5 632.5,593.5 633.0,593.5 633.5,593.4 634.0,593.4 634.5,593.4 635.0,593.3 635.5,593.3 636.0,593.3 636.5,593.2 637.0,593.2 637.5,593.1 638.0,593.1 638.5,593.1 639.0,593.0 639.5,593.0 640.0,592.9 640.5,592.9 641.0,592.9 641.5,592.8 642.0,592.8 642.5,592.8 643.0,592.8 643.5,592.7 644.0,592.7 644.5,592.7 645.0,592.7 645.5,592.6 646.0,592.6 646.5,592.6 647.0,592.6 647.5,592.6 648.0,592.6 648.5,592.6 649.0,592.6 649.5,592.6 650.0,592.6 650.5,592.6 651.0,592.6 651.5,592.6 652.0,592.6 652.5,592.6 653.0,592.7 653.5,592.7 654.0,592.7 654.5,592.7 655.0,592.8 655.5,592.8 656.0,592.8 656.5,592.9 657.0,592.9 657.5,593.0 658.0,593.0 658.5,593.0 659.0,593.1 659.5,593.1 660.0,593.2 660.5,593.2 661.0,593.3 661.5,593.3 662.0,593.4 662.5,593.4 663.0,593.4 663.5,593.5 664.0,593.5 664.5,593.6 665.0,593.6 665.5,593.6 666.0,593.7 666.5,593.7 667.0,593.7 667.5,593.7 668.0,593.8 668.5,593.8 669.0,593.8 669.5,593.8 670.0,593.8 670.5,593.8 671.0,593.8 671.5,593.8 672.0,593.8 672.5,593.8 673.0,593.8 673.5,593.8 674.0,593.7 674.5,593.7 675.0,593.7 675.5,593.6 676.4,593.6" stroke="#ff8000" stroke-width="2.0" stroke-dasharray="1.7 1.5 5.1 1.5"/>
<polyline points="394.8,607.2 395.7,607.2 396.2,607.2 396.7,607.2 397.2,607.1 397.7,607.0 398.2,606.9 398.7,606.8 399.2,606.6 399.7,606.4 400.2,606.2 400.7,605.9 401.2,605.6 401.7,605.3 402.2,605.0 402.7,604.7 403.2,604.3 403.7,603.9 404.2,603.5 404.7,603.1 405.2,602.6 405.7,602.2 406.2,601.7 406.7,601.2 407.2,600.7 407.7,600.2 408.2,599.7 408.7,599.2 409.2,598.7 409.7,598.1 410.2,597.6 410.7,597.1 411.2,596.6 411.7,596.1 412.2,595.6 412.7,595.1 413.2,594.6 413.7,594.1 414.2,593.7 414.7,593.3 415.2,592.9 415.7,592.5 416.2,592.2 416.7,591.9 417.2,591.6 417.7,591.3 418.2,591.1 418.7,590.9 419.2,590.7 419.7,590.6 420.2,590.4 420.7,590.4 421.2,590.3 421.7,590.3 422.2,590.3 422.7,590.3 423.2,590.3 423.7,590.4 424.2,590.5 424.7,590.6 425.2,590.7 425.7,590.8 426.2,590.9 426.7,591.1 427.2,591.2 427.7,591.4 428.2,591.5 428.7,591.7 429.2,591.9 429.7,592.0 430.2,592.2 430.7,592.4 431.2,592.5 431.7,592.7 432.2,592.8 432.7,593.0 433.2,593.1 433.7,593.2 434.2,593.3 434.7,593.5 435.2,593.6 435.7,593.6 436.2,593.7 436.7,593.8 437.2,593.9 437.7,593.9 438.2,594.0 438.7,594.0 439.2,594.0 439.7,594.1 440.2,594.1 440.7,594.1 441.2,594.1 441.7,594.1 442.2,594.0 442.7,594.0 443.2,594.0 443.7,594.0 444.2,594.0 444.7,593.9 445.2,593.9 445.7,593.8 446.2,593.8 446.7,593.8 447.2,593.7 447.7,593.7 448.2,593.6 448.7,593.6 449.2,593.6 449.7,593.5 450.2,593.5 450.7,593.4 451.2,593.4 451.7,593.4 452.2,593.4 452.7,593.3 453.2,593.3 453.7,593.3 454.2,593.3 454.7,593.2 455.2,593.2 455.7,593.2 456.2,593.2 456.7,593.2 457.2,593.2 457.7,593.2 458.2,593.2 458.7,593.2 459.2,593.1 459.7,593.1 460.2,593.1 460.7,593.1 461.2,593.1 461.7,593.1 462.2,593.1 462.7,593.1 463.2,593.1 463.7,593.1 464.2,593.1 464.7,593.1 465.2,593.0 465.7,593.0 466.2,593.0 466.6,593.0 467.1,593.0 467.6,593.0 468.1,593.0 468.6,592.9 469.1,592.9 469.6,592.9 470.1,592.9 470.6,592.9 471.1,592.9 471.6,592.8 472.1,592.8 472.6,592.8 473.1,592.8 473.6,592.8 474.1,592.8 474.6,592.8 475.1,592.8 475.6,592.8 476.1,592.8 476.6,592.8 477.1,592.8 477.6,592.8 478.1,592.8 478.6,592.8 479.1,592.8 479.6,592.8 480.1,592.9 480.6,592.9 481.1,592.9 481.6,592.9 482.1,593.0 482.6,593.0 483.1,593.0 483.6,593.1 484.1,593.1 484.6,593.1 485.1,593.2 485.6,593.2 486.1,593.2 486.6,593.3 487.1,593.3 487.6,593.4 488.1,593.4 488.6,593.4 489.1,593.5 489.6,593.5 490.1,593.5 490.6,593.5 491.1,593.6 491.6,593.6 492.1,593.6 492.6,593.6 493.1,593.6 493.6,593.6 494.1,593.6 494.6,593.7 495.1,593.7 495.6,593.6 496.1,593.6 496.6,593.6 497.1,593.6 497.6,593.6 498.1,593.6 498.6,593.6 499.1,593.5 499.6,593.5 500.1,593.5 500.6,593.5 501.1,593.4 501.6,593.4 502.1,593.4 502.6,593.3 503.1,593.3 503.6,593.3 504.1,593.2 504.6,593.2 505.1,593.1 505.6,593.1 506.1,593.1 506.6,593.0 507.1,593.0 507.6,593.0 508.1,592.9 508.6,592.9 509.1,592.9 509.6,592.9 510.1,592.9 510.6,592.8 511.1,592.8 511.6,592.8 512.1,592.8 512.6,592.8 513.1,592.8 513.6,592.8 514.1,592.8 514.6,592.8 515.1,592.8 515.6,592.8 516.1,592.8 516.6,592.8 517.1,592.8 517.6,592.8 518.1,592.8 518.6,592.9 519.1,592.9 519.6,592.9 520.1,592.9 520.6,593.0 521.1,593.0 521.6,593.0 522.1,593.0 522.6,593.0 523.1,593.1 523.6,593.1 524.1,593.1 524.6,593.1 525.1,593.2 525.6,593.2 526.1,593.2 526.6,593.2 527.1,593.3 527.6,593.3 528.1,593.3 528.6,593.3 529.1,593.3 529.6,593.3 530.1,593.4 530.6,593.4 531.1,593.4 531.6,593.4 532.1,593.4 532.6,593.4 533.1,593.4 533.6,593.4 534.1,593.4 534.6,593.4 535.1,593.4 535.6,593.4 536.1,593.4 536.6,593.4 537.1,593.4 537.6,593.4 538.1,593.4 538.6,593.4 539.1,593.4 539.6,593.4 540.1,593.4 540.6,593.3 541.1,593.3 541.6,593.3 542.1,593.3 542.6,593.3 543.1,593.3 543.6,593.3 544.1,593.3 544.6,593.3 545.1,593.3 545.6,593.2 546.1,593.2 546.6,593.2 547.1,593.2 547.6,593.2 548.1,593.2 548.6,593.2 549.1,593.2 549.6,593.2 550.1,593.1 550.6,593.1 551.1,593.1 551.6,593.1 552.1,593.1 552.6,593.1 553.1,593.1 553.6,593.1 554.1,593.1 554.6,593.0 555.1,593.0 555.6,593.0 556.1,593.0 556.6,593.0 557.1,593.0 557.6,593.0 558.1,593.0 558.6,593.0 559.1,593.0 559.6,593.0 560.1,593.0 560.6,593.0 561.1,593.0 561.6,593.0 562.1,593.0 562.6,593.0 563.1,593.0 563.6,593.0 564.1,593.0 564.6,593.0 565.1,593.0 565.6,593.0 566.1,593.0 566.6,593.0 567.1,593.0 567.6,593.0 568.1,593.0 568.6,593.1 569.1,593.1 569.6,593.1 570.1,593.1 570.6,593.1 571.1,593.1 571.6,593.1 572.1,593.2 572.6,593.2 573.1,593.2 573.6,593.2 574.1,593.2 574.6,593.2 575.1,593.3 575.6,593.3 576.1,593.3 576.6,593.3 577.1,593.3 577.6,593.3 578.1,593.3 578.6,593.4 579.1,593.4 579.6,593.4 580.1,593.4 580.6,593.4 581.1,593.4 581.6,593.4 582.1,593.4 582.6,593.4 583.1,593.4 583.6,593.4 584.1,593.4 584.6,593.4 585.1,593.4 585.6,593.4 586.1,593.4 586.6,593.4 587.1,593.4 587.6,593.3 588.1,593.3 588.6,593.3 589.1,593.3 589.6,593.3 590.1,593.3 590.6,593.3 591.1,593.2 591.6,593.2 592.1,593.2 592.6,593.2 593.1,593.2 593.6,593.2 594.1,593.1 594.6,593.1 595.1,593.1 595.6,593.1 596.1,593.1 596.6,593.1 597.1,593.0 597.6,593.0 598.1,593.0 598.6,593.0 599.1,593.0 599.6,593.0 600.1,593.0 600.6,593.0 601.1,593.0 601.6,593.0 602.1,593.0 602.6,593.0 603.1,593.0 603.6,593.0 604.1,593.0 604.6,593.0 605.1,593.0 605.6,593.0 606.0,593.0 606.5,593.0 607.0,593.0 607.5,593.0 608.0,593.0 608.5,593.0 609.0,593.0 609.5,593.1 610.0,593.1 610.5,593.1 611.0,593.1 611.5,593.1 612.0,593.1 612.5,593.1 613.0,593.1 613.5,593.2 614.0,593.2 614.5,593.2 615.0,593.2 615.5,593.2 616.0,593.2 616.5,593.2 617.0,593.2 617.5,593.3 618.0,593.3 618.5,593.3 619.0,593.3 619.5,593.3 620.0,593.3 620.5,593.3 621.0,593.3 621.5,593.3 622.0,593.3 622.5,593.3 623.0,593.3 623.5,593.3 624.0,593.3 624.5,593.3 625.0,593.3 625.5,593.3 626.0,593.3 626.5,593.3 627.0,593.3 627.5,593.3 628.0,593.3 628.5,593.3 629.0,593.3 629.5,593.3 630.0,593.3 630.5,593.3 631.0,593.3 631.5,593.3 632.0,593.3 632.5,593.2 633.0,593.2 633.5,593.2 634.0,593.2 634.5,593.2 635.0,593.2 635.5,593.2 636.0,593.2 636.5,593.2 637.0,593.2 637.5,593.2 638.0,593.2 638.5,593.1 639.0,593.1 639.5,593.1 640.0,593.1 640.5,593.1 641.0,593.1 641.5,593.1 642.0,593.1 642.5,593.1 643.0,593.1 643.5,593.1 644.0,593.1 644.5,593.1 645.0,593.1 645.5,593.0 646.0,593.0 646.5,593.0 647.0,593.0 647.5,593.0 648.0,593.0 648.5,593.0 649.0,593.0 649.5,593.0 650.0,593.0 650.5,593.0 651.0,593.0 651.5,593.0 652.0,593.0 652.5,593.0 653.0,593.1 653.5,593.1 654.0,593.1 654.5,593.1 655.0,593.1 655.5,593.1 656.0,593.1 656.5,593.1 657.0,593.1 657.5,593.1 658.0,593.1 658.5,593.1 659.0,593.1 659.5,593.2 660.0,593.2 660.5,593.2 661.0,593.2 661.5,593.2 662.0,593.2 662.5,593.2 663.0,593.2 663.5,593.2 664.0,593.2 664.5,593.3 665.0,593.3 665.5,593.3 666.0,593.3 666.5,593.3 667.0,593.3 667.5,593.3 668.0,593.3 668.5,593.3 669.0,593.3 669.5,593.3 670.0,593.3 670.5,593.3 671.0,593.3 671.5,593.3 672.0,593.3 672.5,593.3 673.0,593.3 673.5,593.3 674.0,593.3 674.5,593.3 675.0,593.3 675.5,593.3 676.4,593.3" stroke="#800080" stroke-width="2.0" stroke-dasharray="8.5 2"/>
</g>
<line x1="595.30" y1="392.90" x2="616.10" y2="392.90" stroke="#ff0000" stroke-width="1.9"/>
<line x1="595.30" y1="426.93" x2="616.10" y2="426.93" stroke="#000000" stroke-width="2.15" stroke-dasharray="2.4 1.25"/>
<line x1="595.30" y1="460.96" x2="616.10" y2="460.96" stroke="#0000ff" stroke-width="2.0" stroke-dasharray="5.4 1.6"/>
<line x1="595.30" y1="494.99" x2="616.10" y2="494.99" stroke="#ff8000" stroke-width="2.0" stroke-dasharray="1.7 1.5 5.1 1.5" stroke-dashoffset="6.6"/>
<line x1="595.30" y1="529.02" x2="616.10" y2="529.02" stroke="#800080" stroke-width="2.0" stroke-dasharray="8.5 2"/>
<filter id="gs" x="0" y="0" width="685" height="731" filterUnits="userSpaceOnUse"><feColorMatrix type="saturate" values="0"/></filter>
<g filter="url(#gs)"><text x="40.50" y="298.10" font-size="16" text-anchor="middle">0</text>
<text x="109.25" y="298.10" font-size="16" text-anchor="middle">10</text>
<text x="178.00" y="298.10" font-size="16" text-anchor="middle">20</text>
<text x="246.75" y="298.10" font-size="16" text-anchor="middle">30</text>
<text x="315.50" y="298.10" font-size="16" text-anchor="middle">40</text>
<text x="37.80" y="286.30" font-size="16" text-anchor="end">0</text>
<text x="37.80" y="217.68" font-size="16" text-anchor="end">1</text>
<text x="37.80" y="149.05" font-size="16" text-anchor="end">2</text>
<text x="37.80" y="80.42" font-size="16" text-anchor="end">3</text>
<text x="37.80" y="11.80" font-size="16" text-anchor="end">4</text>
<text transform="translate(177.30,322.00) scale(1.24,1)" font-size="16.5" font-style="italic" text-anchor="middle">kσ</text>
<g transform="translate(14.00,149.00) rotate(-90)"><text transform="scale(1.07,1)" font-size="15.5" font-style="italic" text-anchor="middle">S(k)</text><text x="-11.2" y="-8.6" font-size="11.5" text-anchor="middle">~</text></g>
<g font-size="16.5"><text x="264.40" y="23.50" font-style="italic">T</text><text x="274.00" y="21.50" font-size="11.7" font-weight="bold">*</text><text transform="translate(280.10,23.50) scale(1.17,1)">=</text><text x="290.30" y="23.50">0.3</text></g>
<g font-size="16.5"><text x="264.40" y="56.95" font-style="italic">T</text><text x="274.00" y="54.95" font-size="11.7" font-weight="bold">*</text><text transform="translate(280.10,56.95) scale(1.17,1)">=</text><text x="290.30" y="56.95">0.5</text></g>
<g font-size="16.5"><text x="264.40" y="90.40" font-style="italic">T</text><text x="274.00" y="88.40" font-size="11.7" font-weight="bold">*</text><text transform="translate(280.10,90.40) scale(1.17,1)">=</text><text x="290.30" y="90.40">1</text></g>
<g font-size="16.5"><text x="264.40" y="123.85" font-style="italic">T</text><text x="274.00" y="121.85" font-size="11.7" font-weight="bold">*</text><text transform="translate(280.10,123.85) scale(1.17,1)">=</text><text x="290.30" y="123.85">2</text></g>
<g font-size="16.5"><text x="264.40" y="157.30" font-style="italic">T</text><text x="274.00" y="155.30" font-size="11.7" font-weight="bold">*</text><text transform="translate(280.10,157.30) scale(1.17,1)">=</text><text x="290.30" y="157.30">10</text></g>
<text x="402.90" y="296.50" font-size="16" text-anchor="middle">0</text>
<text x="471.20" y="296.50" font-size="16" text-anchor="middle">10</text>
<text x="539.50" y="296.50" font-size="16" text-anchor="middle">20</text>
<text x="607.80" y="296.50" font-size="16" text-anchor="middle">30</text>
<text x="676.10" y="296.50" font-size="16" text-anchor="middle">40</text>
<text x="400.20" y="284.70" font-size="16" text-anchor="end">0.0</text>
<text x="400.20" y="239.23" font-size="16" text-anchor="end">0.5</text>
<text x="400.20" y="193.77" font-size="16" text-anchor="end">1.0</text>
<text x="400.20" y="148.30" font-size="16" text-anchor="end">1.5</text>
<text x="400.20" y="102.83" font-size="16" text-anchor="end">2.0</text>
<text x="400.20" y="57.37" font-size="16" text-anchor="end">2.5</text>
<text x="400.20" y="11.90" font-size="16" text-anchor="end">3.0</text>
<text transform="translate(532.05,321.70) scale(1.24,1)" font-size="16.5" font-style="italic" text-anchor="middle">kσ</text>
<g transform="translate(360.70,148.80) rotate(-90)"><text transform="scale(1.07,1)" font-size="15.5" font-style="italic" text-anchor="middle">S(k)</text><text x="-11.2" y="-8.6" font-size="11.5" text-anchor="middle">~</text></g>
<g font-size="16.5"><text x="617.40" y="28.40" font-style="italic">T</text><text x="627.00" y="26.40" font-size="11.7" font-weight="bold">*</text><text transform="translate(633.10,28.40) scale(1.17,1)">=</text><text x="643.30" y="28.40">0.3</text></g>
<g font-size="16.5"><text x="617.40" y="63.15" font-style="italic">T</text><text x="627.00" y="61.15" font-size="11.7" font-weight="bold">*</text><text transform="translate(633.10,63.15) scale(1.17,1)">=</text><text x="643.30" y="63.15">0.5</text></g>
<g font-size="16.5"><text x="617.40" y="97.90" font-style="italic">T</text><text x="627.00" y="95.90" font-size="11.7" font-weight="bold">*</text><text transform="translate(633.10,97.90) scale(1.17,1)">=</text><text x="643.30" y="97.90">1</text></g>
<g font-size="16.5"><text x="617.40" y="132.65" font-style="italic">T</text><text x="627.00" y="130.65" font-size="11.7" font-weight="bold">*</text><text transform="translate(633.10,132.65) scale(1.17,1)">=</text><text x="643.30" y="132.65">2</text></g>
<g font-size="16.5"><text x="617.40" y="167.40" font-style="italic">T</text><text x="627.00" y="165.40" font-size="11.7" font-weight="bold">*</text><text transform="translate(633.10,167.40) scale(1.17,1)">=</text><text x="643.30" y="167.40">10</text></g>
<text x="42.00" y="674.20" font-size="16" text-anchor="middle">0</text>
<text x="111.88" y="674.20" font-size="16" text-anchor="middle">10</text>
<text x="181.75" y="674.20" font-size="16" text-anchor="middle">20</text>
<text x="251.62" y="674.20" font-size="16" text-anchor="middle">30</text>
<text x="321.50" y="674.20" font-size="16" text-anchor="middle">40</text>
<text x="39.30" y="662.40" font-size="16" text-anchor="end">0</text>
<text x="39.30" y="598.97" font-size="16" text-anchor="end">1</text>
<text x="39.30" y="535.54" font-size="16" text-anchor="end">2</text>
<text x="39.30" y="472.10" font-size="16" text-anchor="end">3</text>
<text x="39.30" y="408.67" font-size="16" text-anchor="end">4</text>
<text transform="translate(181.00,698.70) scale(1.24,1)" font-size="16.5" font-style="italic" text-anchor="middle">kσ</text>
<g transform="translate(15.10,526.50) rotate(-90)"><text transform="scale(1.07,1)" font-size="15.5" font-style="italic" text-anchor="middle">S(k)</text><text x="-11.2" y="-8.6" font-size="11.5" text-anchor="middle">~</text></g>
<g font-size="16.5"><text x="270.70" y="395.40" font-style="italic">n</text><text x="279.30" y="392.50" font-size="10.7" font-weight="bold">*</text><text transform="translate(284.80,395.40) scale(1.17,1)">=</text><text x="295.50" y="395.40">0.8</text></g>
<g font-size="16.5"><text x="270.70" y="429.43" font-style="italic">n</text><text x="279.30" y="426.53" font-size="10.7" font-weight="bold">*</text><text transform="translate(284.80,429.43) scale(1.17,1)">=</text><text x="295.50" y="429.43">0.7</text></g>
<g font-size="16.5"><text x="270.70" y="463.46" font-style="italic">n</text><text x="279.30" y="460.56" font-size="10.7" font-weight="bold">*</text><text transform="translate(284.80,463.46) scale(1.17,1)">=</text><text x="295.50" y="463.46">0.5</text></g>
<g font-size="16.5"><text x="270.70" y="497.49" font-style="italic">n</text><text x="279.30" y="494.59" font-size="10.7" font-weight="bold">*</text><text transform="translate(284.80,497.49) scale(1.17,1)">=</text><text x="295.50" y="497.49">0.3</text></g>
<g font-size="16.5"><text x="270.70" y="531.52" font-style="italic">n</text><text x="279.30" y="528.62" font-size="10.7" font-weight="bold">*</text><text transform="translate(284.80,531.52) scale(1.17,1)">=</text><text x="295.50" y="531.52">0.1</text></g>
<text x="395.70" y="674.20" font-size="16" text-anchor="middle">0</text>
<text x="465.65" y="674.20" font-size="16" text-anchor="middle">10</text>
<text x="535.60" y="674.20" font-size="16" text-anchor="middle">20</text>
<text x="605.55" y="674.20" font-size="16" text-anchor="middle">30</text>
<text x="675.50" y="674.20" font-size="16" text-anchor="middle">40</text>
<text x="393.00" y="662.40" font-size="16" text-anchor="end">0</text>
<text x="393.00" y="598.97" font-size="16" text-anchor="end">1</text>
<text x="393.00" y="535.54" font-size="16" text-anchor="end">2</text>
<text x="393.00" y="472.10" font-size="16" text-anchor="end">3</text>
<text x="393.00" y="408.67" font-size="16" text-anchor="end">4</text>
<text transform="translate(535.00,698.70) scale(1.24,1)" font-size="16.5" font-style="italic" text-anchor="middle">kσ</text>
<g transform="translate(367.30,526.40) rotate(-90)"><text transform="scale(1.07,1)" font-size="15.5" font-style="italic" text-anchor="middle">S(k)</text><text x="-11.2" y="-8.6" font-size="11.5" text-anchor="middle">~</text></g>
<g font-size="16.5"><text x="624.20" y="395.40" font-style="italic">n</text><text x="632.80" y="392.50" font-size="10.7" font-weight="bold">*</text><text transform="translate(638.30,395.40) scale(1.17,1)">=</text><text x="649.00" y="395.40">0.8</text></g>
<g font-size="16.5"><text x="624.20" y="429.43" font-style="italic">n</text><text x="632.80" y="426.53" font-size="10.7" font-weight="bold">*</text><text transform="translate(638.30,429.43) scale(1.17,1)">=</text><text x="649.00" y="429.43">0.7</text></g>
<g font-size="16.5"><text x="624.20" y="463.46" font-style="italic">n</text><text x="632.80" y="460.56" font-size="10.7" font-weight="bold">*</text><text transform="translate(638.30,463.46) scale(1.17,1)">=</text><text x="649.00" y="463.46">0.5</text></g>
<g font-size="16.5"><text x="624.20" y="497.49" font-style="italic">n</text><text x="632.80" y="494.59" font-size="10.7" font-weight="bold">*</text><text transform="translate(638.30,497.49) scale(1.17,1)">=</text><text x="649.00" y="497.49">0.3</text></g>
<g font-size="16.5"><text x="624.20" y="531.52" font-style="italic">n</text><text x="632.80" y="528.62" font-size="10.7" font-weight="bold">*</text><text transform="translate(638.30,531.52) scale(1.17,1)">=</text><text x="649.00" y="531.52">0.1</text></g>
<g font-size="17.9"><text transform="translate(67.7,349.1) scale(1.12,1)" font-weight="bold">(a)</text><text x="97.7" y="349.1"><tspan font-style="italic">n</tspan><tspan font-size="13.2" dy="-4.6" dx="0.6">*</tspan></text><text transform="translate(119.2,349.1) scale(1.36,1)">=</text><text x="136.9" y="349.1">0.6, Triangle well</text></g>
<g font-size="17.9"><text transform="translate(449.2,349.1) scale(1.12,1)" font-weight="bold">(b)</text><text x="478.6" y="349.1"><tspan font-style="italic">n</tspan><tspan font-size="13.2" dy="-4.6" dx="0.6">*</tspan></text><text transform="translate(500.7,349.1) scale(1.36,1)">=</text><text x="517.8" y="349.1">0.6, Ramp</text></g>
<g font-size="17.9"><text transform="translate(76.0,726.2) scale(1.12,1)" font-weight="bold">(c)</text><text x="107.2" y="726.2"><tspan font-style="italic">T</tspan><tspan font-size="13.2" dy="-4.6" dx="0.6">*</tspan></text><text transform="translate(130.5,726.2) scale(1.36,1)">=</text><text x="148.3" y="726.2">1, Triangle well</text></g>
<g font-size="17.9"><text transform="translate(458.0,726.2) scale(1.12,1)" font-weight="bold">(d)</text><text x="487.8" y="726.2"><tspan font-style="italic">T</tspan><tspan font-size="13.2" dy="-4.6" dx="0.6">*</tspan></text><text transform="translate(511.4,726.2) scale(1.36,1)">=</text><text x="528.9" y="726.2">1, Ramp</text></g></g>
</svg>
</body></html>
